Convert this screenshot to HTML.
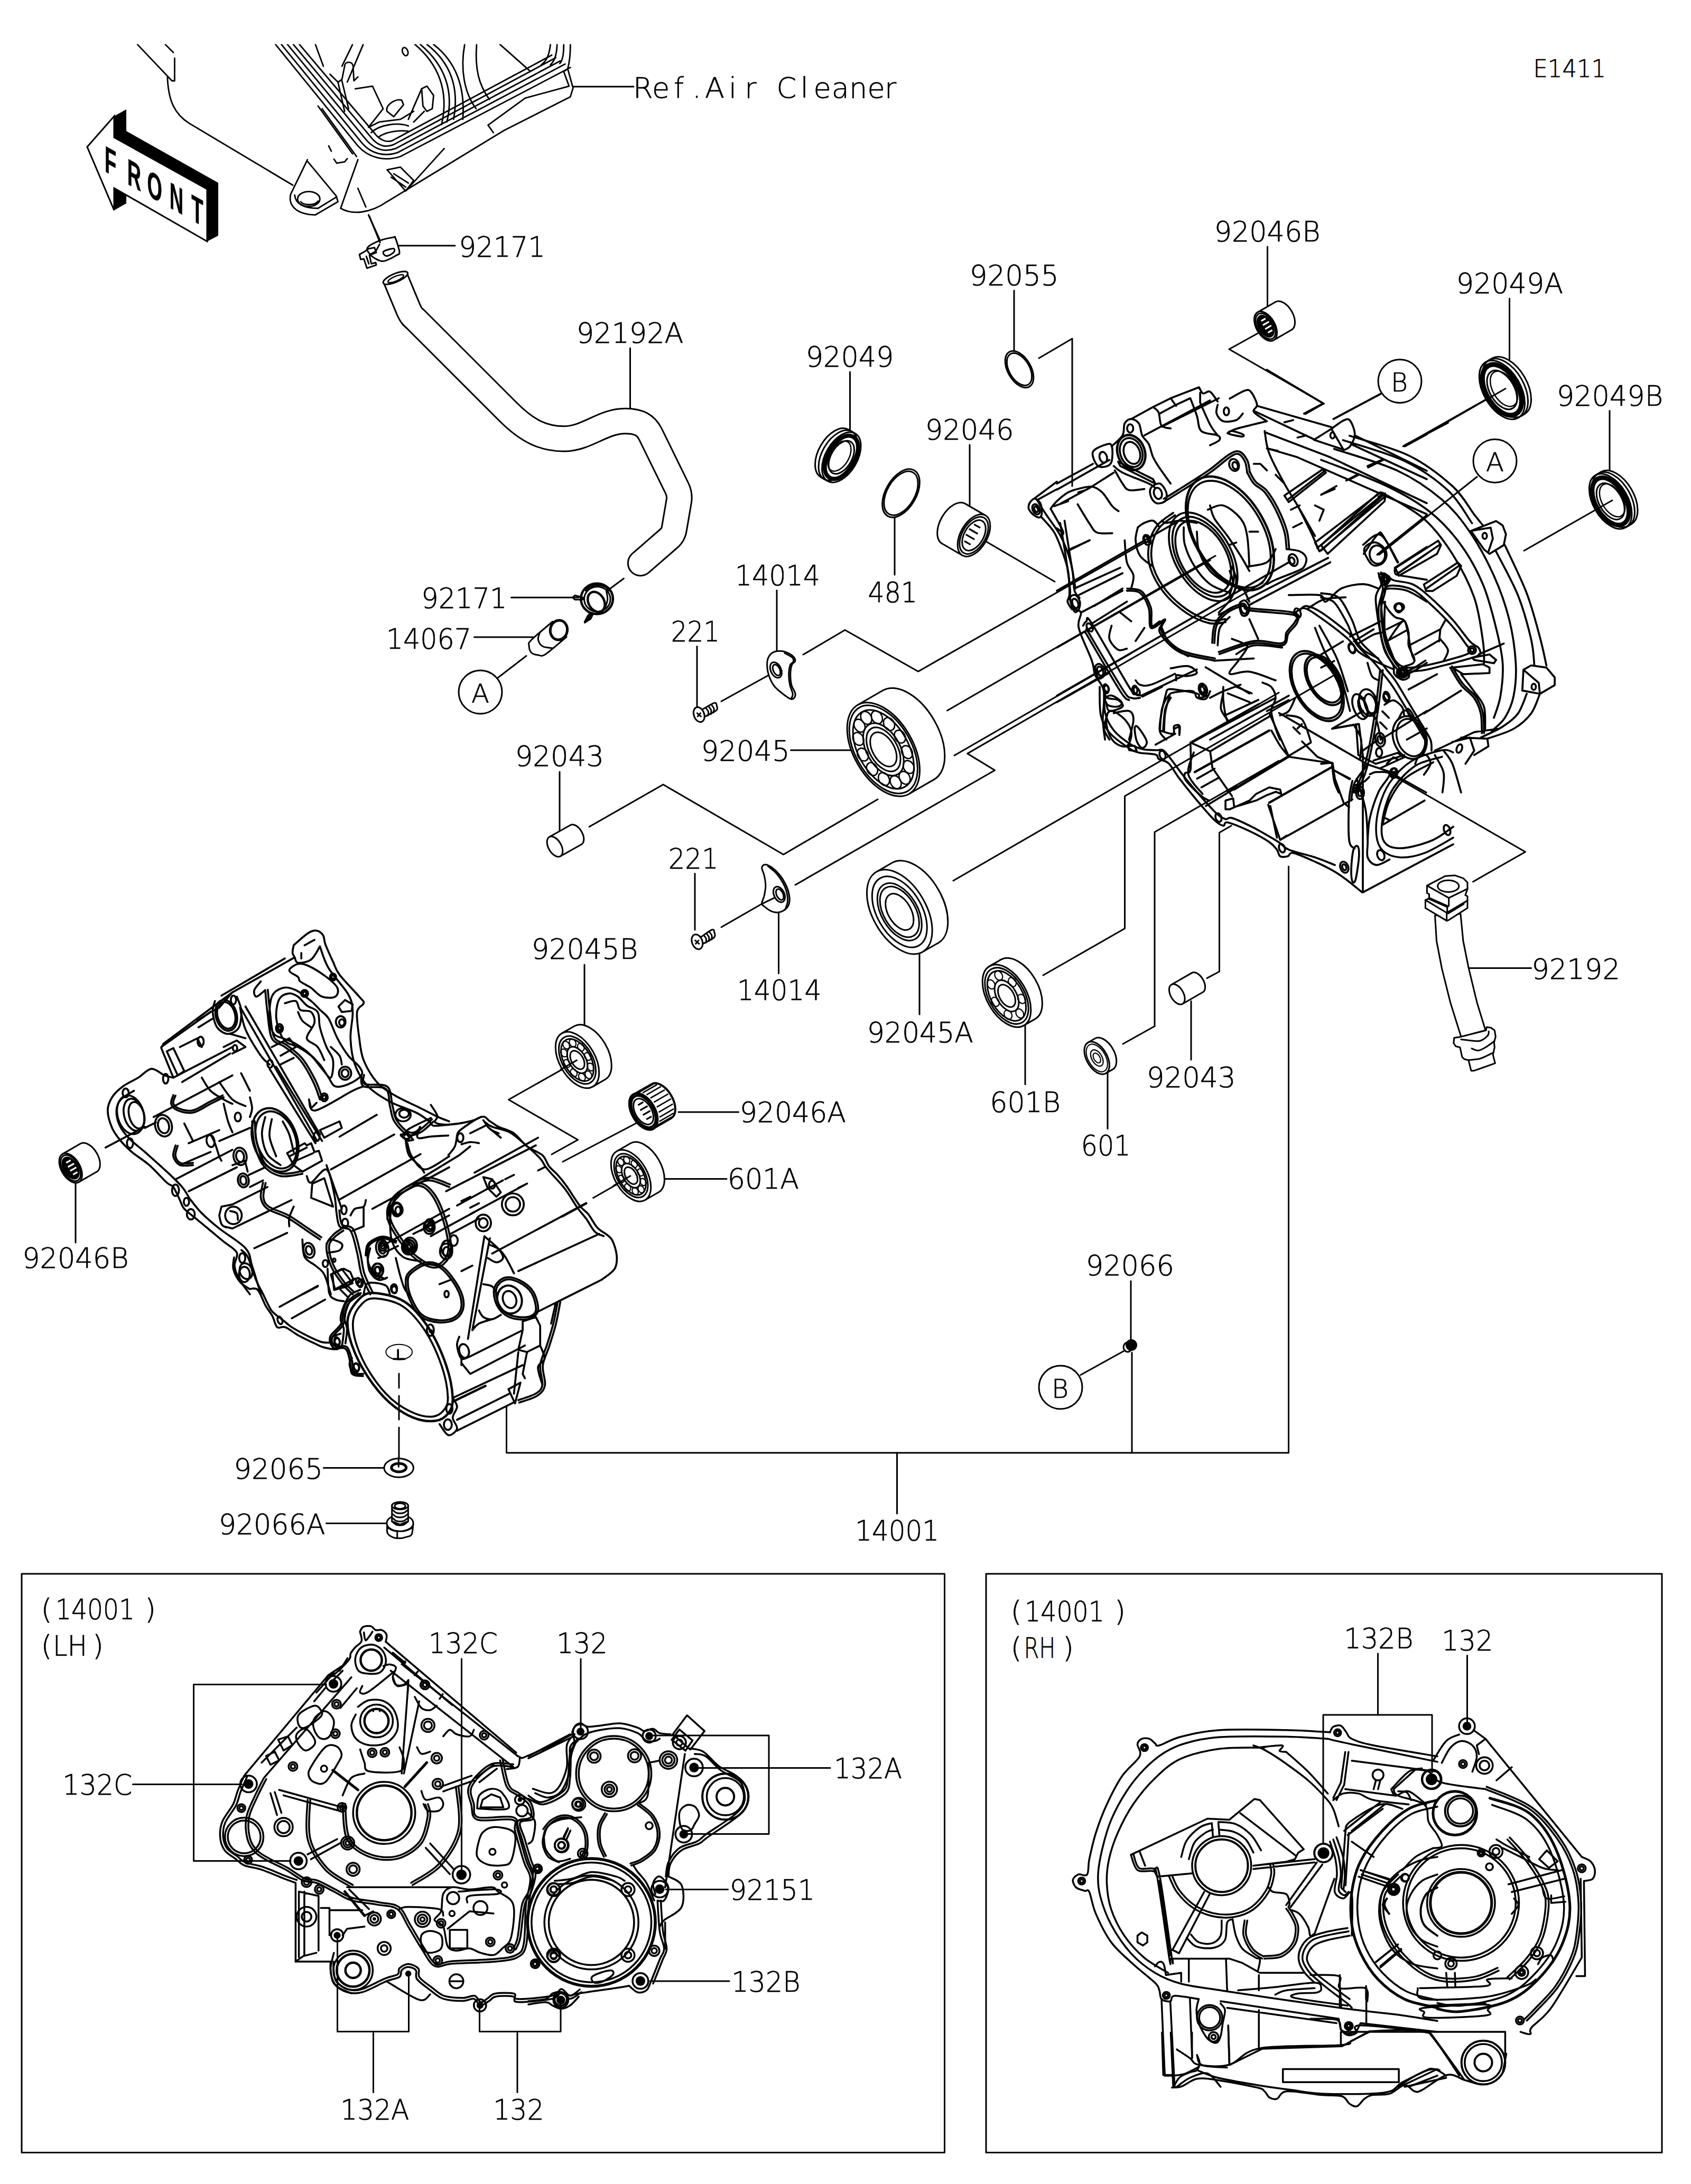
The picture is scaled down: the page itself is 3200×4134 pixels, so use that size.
<!DOCTYPE html>
<html lang="en"><head><meta charset="utf-8"><title>Crankcase E1411</title>
<style>
html,body{margin:0;padding:0;background:#fff}
body{width:3200px;height:4134px;overflow:hidden}
svg{display:block}
text{font-family:"DejaVu Sans","Liberation Sans",sans-serif;font-weight:200;font-size:54px;fill:#000;stroke:#000;stroke-width:0.7px}
.l{fill:none;stroke:#000;stroke-width:3;stroke-linecap:round;stroke-linejoin:round}
.t{fill:none;stroke:#000;stroke-width:6;stroke-linecap:round;stroke-linejoin:round}
.w{fill:#fff;stroke:#000;stroke-width:6;stroke-linecap:round;stroke-linejoin:round}
.k{fill:#000;stroke:none}
</style></head><body>
<svg width="3200" height="4134" viewBox="0 0 3200 4134">
<rect width="3200" height="4134" fill="#fff"/>
<!-- 10_leaders.svg -->
<g class="l" id="leaders">
<!-- boxes -->
<rect x="41" y="2979" width="1746.5" height="1095.5"/>
<rect x="1866" y="2979" width="1279" height="1095.5"/>
<!-- 14001 bracket -->
<path d="M958.5 2662V2750H2438.5V1640"/>
<path d="M1697.5 2750V2865"/>
<path d="M2140 2425V2537M2142 2560V2750"/>
<path d="M2045 2602.500L2129 2556"/>
<circle cx="2007" cy="2626" r="41"/>
<!-- top labels leaders -->
<path d="M755 465H861"/>
<path d="M1085 164H1199"/>
<path d="M1192.500 659V772"/>
<path d="M1608.500 704V815"/>
<path d="M1919 550V665"/>
<path d="M1966 678L2029 641V920"/>
<path d="M2398.500 467V582"/>
<path d="M2380 631L2326 661L2505 764L2470 784"/>
<path d="M2856.500 565V682"/>
<path d="M2812 756L2655 845"/>
<circle cx="2649" cy="721.500" r="41"/>
<path d="M2612 745.8L2523 793"/>
<path d="M3046 777.500V893"/>
<!-- mid -->
<path d="M967.500 1131H1095"/>
<path d="M897.500 1206H1010"/>
<path d="M996 1241.5L942 1283"/>
<circle cx="909" cy="1310" r="41"/>
<path d="M1180.4 1095L1140 1125"/>
<path d="M1470 1117.500V1232.500"/>
<path d="M1319 1223.500V1337.500"/>
<path d="M1365 1327.500L1460 1275"/>
<path d="M1520 1239L1599 1192.5L1737.6 1271L2166 1027"/>
<path d="M1792.5 1345L2300 1052"/>
<path d="M1496.500 1420H1610"/>
<path d="M1059 1461V1577.500"/>
<path d="M1115 1565L1255 1485L1482.5 1617.5L1661 1513M1806 1430L2140 1237"/>
<path d="M1315 1653.500V1760"/>
<path d="M1473.500 1727.500V1842.500"/>
<path d="M1365 1755L1445 1709"/>
<path d="M1505 1675L1882.6 1458L1830.7 1426.4L2390 1103"/>
<path d="M1804 1667L2420 1311"/>
<!-- lower-left labels -->
<path d="M1106 1826V1940"/>
<path d="M1089 2010L962.500 2081.500L1093.500 2157.500L1044 2185"/>
<path d="M1284 2105H1397.500"/>
<path d="M1206 2125L1065 2199"/>
<path d="M1259 2231.500H1375"/>
<path d="M1192.500 2227.500L1122.500 2267.500"/>
<path d="M1740 1805V1920"/>
<path d="M1974 1846L2128.5 1757.5V1507L2530 1275"/>
<path d="M2125 1976L2185 1942.5V1575L2420 1440"/>
<path d="M2284 1851.5L2307.5 1839V1576L2330 1563"/>
<path d="M2787.5 1669L2886.5 1612.5L2635 1467.5"/>
<path d="M1940 1935V2052.500"/>
<path d="M2096 2030V2136.500"/>
<path d="M2254 1895V2006"/>
<path d="M2780 1832.500H2897.500"/>
<path d="M143 2240V2352"/>
<path d="M612.500 2778.500H726.500"/>
<path d="M617.500 2883.500H732.500"/>
<path d="M755 2600V2627M755 2642V2687M755 2702V2765"/>
<!-- LH box leaders -->
<path d="M617.500 3188.500H366.500V3522.500H550"/>
<path d="M251.500 3377.500H457.500"/>
<path d="M873.500 3140V3549"/>
<path d="M1099 3140V3275"/>
<path d="M1320 3346.500H1571"/>
<path d="M1230 3285H1455V3471.500H1295"/>
<path d="M1260 3576.500H1377.500"/>
<path d="M1230 3750H1380"/>
<path d="M907.500 3799V3845.500H1061V3786"/>
<path d="M979 3845.500V3960.500"/>
<path d="M638.500 3664V3845.500H773.500V3736.500"/>
<path d="M706.500 3845.500V3960.500"/>
<!-- RH box leaders -->
<path d="M2607.500 3130V3246"/>
<path d="M2504 3490V3246H2710V3355"/>
<path d="M2776.500 3133.500V3267.500"/>
</g>
<g id="circletext">
<text x="2632" y="741" style="font-size:50px" textLength="32" lengthAdjust="spacingAndGlyphs">B</text>
<text x="1990" y="2646" style="font-size:50px" textLength="32" lengthAdjust="spacingAndGlyphs">B</text>
<text x="892" y="1330" style="font-size:50px" textLength="34" lengthAdjust="spacingAndGlyphs">A</text>
</g>

<!-- 20_misc.svg -->
<g id="misc-text">
<text y="185" text-anchor="middle" x="1216.7 1250.7 1284.6 1318.5 1352.5 1386.5 1420.4 1454.4 1488.3 1522.2 1556.2 1590.2 1624.1 1658.1 1685">Ref.Air Cleaner</text>
<text x="2901.5" y="146" style="font-size:46px" textLength="137.5" lengthAdjust="spacingAndGlyphs">E1411</text>
<text x="77.5" y="3065">(</text><text x="105" y="3065" textLength="150" lengthAdjust="spacingAndGlyphs">14001</text><text x="274" y="3065">)</text>
<text x="77.5" y="3133.5">(</text><text x="100" y="3133.5" textLength="65" lengthAdjust="spacingAndGlyphs">LH</text><text x="175" y="3133.5">)</text>
<text x="1912.5" y="3068.5">(</text><text x="1939" y="3068.5" textLength="151" lengthAdjust="spacingAndGlyphs">14001</text><text x="2109" y="3068.5">)</text>
<text x="1912.5" y="3137.5">(</text><text x="1937.5" y="3137.5" textLength="60" lengthAdjust="spacingAndGlyphs">RH</text><text x="2011" y="3137.5">)</text>
<text x="2812" y="892" style="font-size:50px" textLength="34" lengthAdjust="spacingAndGlyphs">A</text>
</g>
<g class="l">
<circle cx="2829" cy="872.5" r="41"/>
<path d="M2795 902.5L2610 1050"/>
</g>
<g id="front-arrow">
<polygon class="k" points="216,220 239,207 239,248 413,346 413,446 392,457 392,358 216,260"/>
<polygon class="k" points="216,356 239,370 239,385 216,398"/>
<polygon points="165,278 216,220 216,260 392,358 392,457 216,356 216,398" fill="#fff" stroke="#000" stroke-width="3" stroke-linejoin="miter"/>
<text transform="translate(198,324) skewY(29.3) scale(0.52,1)" style="font-family:'Liberation Sans',sans-serif;font-weight:700;font-size:70px" x="0 82 155 236 316" y="0">FRONT</text>
</g>

<!-- 30_aircleaner.svg -->
<g transform="translate(250,60) scale(0.50265)" fill="none" stroke="#000" stroke-width="5.6" stroke-linecap="round" stroke-linejoin="round">
<g>
<!-- left piece -->
<path d="M20 48L150 185H160V100M125 48L155 78"/>
<path d="M133 170C136 260 160 310 215 345L605 578"/>
<!-- lug -->
<path d="M660 482L597 612C588 650 612 688 690 690L775 640L768 618L662 490"/>
<path d="M612 615C615 645 640 665 700 665L770 622"/>
<ellipse cx="665" cy="630" rx="42" ry="28"/>
<path d="M635 640C645 655 690 655 700 638"/>
<!-- frame rails left arm + corner + right arm -->
<path d="M540 48L850 430C890 475 950 490 1010 470L1650 135"/>
<path d="M562 48L866 420C900 460 950 472 1000 455L1630 122"/>
<path d="M585 48L882 408C915 445 950 455 992 440L1612 110"/>
<path d="M607 48L898 396C925 430 955 438 985 425L1595 98"/>
<path d="M630 48L915 385C935 410 960 418 980 410L1580 88"/>
<!-- body lower -->
<path d="M850 482L785 665C830 692 900 682 960 640L1400 372L1650 245L1660 212L1640 140L1625 150L1645 205L1480 250L1340 352L1360 380"/>
<path d="M700 280L830 460M715 290L845 470"/>
<path d="M1030 600L1175 440M960 520L1030 600L1060 560L1010 510ZM985 535L1040 570M975 548L1030 585"/>
<path d="M850 590L880 660M890 690L935 790"/>
<path d="M740 430L750 450M760 480L770 495L800 490L810 478"/>
<!-- interior -->
<path d="M690 48L720 130M830 48L790 130M870 48L810 190"/>
<path d="M745 160L775 190L790 180L800 130C800 110 830 110 832 130L835 185L850 170"/>
<path d="M775 190L800 300M790 185L815 290"/>
<path d="M840 215L905 205L945 290L890 360L930 340L1010 330L1060 300"/>
<path d="M960 300C950 280 990 250 1015 258L1022 275L985 320Z"/>
<path d="M1090 215L1110 205L1135 240L1130 290L1110 300L1095 280Z"/>
<path d="M1040 330L1090 215M1060 340L1100 300"/>
<path d="M900 380C930 350 1000 340 1040 355M930 395C960 375 1010 370 1040 375"/>
<ellipse cx="1028" cy="75" rx="10" ry="16" transform="rotate(-20 1028 75)"/>
<!-- big arcs right -->
<path d="M1065 48C1150 120 1195 220 1165 350"/>
<path d="M1085 48C1170 120 1215 215 1185 340"/>
<path d="M1110 48C1190 110 1235 200 1210 330"/>
<path d="M1135 48C1215 110 1255 200 1245 330"/>
<path d="M1252 48C1235 140 1250 230 1295 290"/>
<path d="M1297 48C1290 140 1305 200 1345 255"/>
<path d="M1385 48L1500 150"/>
<path d="M1575 48C1570 90 1560 110 1540 125M1600 48C1598 90 1590 110 1575 125M1625 48C1625 90 1620 110 1610 120M1650 48C1650 80 1648 110 1640 140"/>
</g>
<!-- dash-dot line down to clip -->
<path d="M890 690L935 790"/>
</g>
<rect x="230" y="0" width="900" height="83.5" fill="#fff"/>

<!-- 40_small.svg -->
<g fill="none" stroke="#000" stroke-width="3" stroke-linecap="round">
<path d="M1693 980V1088M1835 842V958M1866 1025L1996 1101"/>
</g>
<ellipse cx="1579.3" cy="858.1" rx="52" ry="30" transform="rotate(-60 1579.3 858.1)" fill="#fff" stroke="#000" stroke-width="3"/>
<polygon points="1618.3,820.6 1605.3,813.1 1553.3,903.1 1566.3,910.6" fill="#fff" stroke="none"/>
<path d="M1618.3 820.6L1605.3 813.1M1566.3 910.6L1553.3 903.1" fill="none" stroke="#000" stroke-width="3"/>
<ellipse cx="1592.3" cy="865.6" rx="52" ry="30" transform="rotate(-60 1592.3 865.6)" fill="#fff" stroke="#000" stroke-width="3"/>
<ellipse cx="1585.8" cy="861.9" rx="52" ry="30" transform="rotate(-60 1585.8 861.9)" fill="none" stroke="#000" stroke-width="3"/>
<ellipse cx="1592.3" cy="865.6" rx="44.7" ry="25.8" transform="rotate(-60 1592.3 865.6)" fill="none" stroke="#000" stroke-width="7.8"/>
<ellipse cx="1592.3" cy="865.6" rx="34.3" ry="19.8" transform="rotate(-60 1592.3 865.6)" fill="none" stroke="#000" stroke-width="3"/>
<ellipse cx="1588.4" cy="863.4" rx="31.2" ry="18" transform="rotate(-60 1588.4 863.4)" fill="none" stroke="#000" stroke-width="2.5"/>
<ellipse cx="2854.4" cy="731" rx="61" ry="35.2" transform="rotate(60 2854.4 731)" fill="#fff" stroke="#000" stroke-width="3"/>
<polygon points="2872.9,790.8 2884.9,783.8 2823.9,678.2 2811.9,685.2" fill="#fff" stroke="none"/>
<path d="M2872.9 790.8L2884.9 783.8M2811.9 685.2L2823.9 678.2" fill="none" stroke="#000" stroke-width="3"/>
<ellipse cx="2842.4" cy="738" rx="61" ry="35.2" transform="rotate(60 2842.4 738)" fill="#fff" stroke="#000" stroke-width="3"/>
<ellipse cx="2848.4" cy="734.5" rx="61" ry="35.2" transform="rotate(60 2848.4 734.5)" fill="none" stroke="#000" stroke-width="3"/>
<ellipse cx="2842.4" cy="738" rx="52.5" ry="30.3" transform="rotate(60 2842.4 738)" fill="none" stroke="#000" stroke-width="9.15"/>
<ellipse cx="2842.4" cy="738" rx="40.3" ry="23.2" transform="rotate(60 2842.4 738)" fill="none" stroke="#000" stroke-width="3"/>
<ellipse cx="2846" cy="735.9" rx="36.6" ry="21.1" transform="rotate(60 2846 735.9)" fill="none" stroke="#000" stroke-width="2.5"/>
<ellipse cx="3058.7" cy="942.5" rx="57" ry="32.9" transform="rotate(60 3058.7 942.5)" fill="#fff" stroke="#000" stroke-width="3"/>
<polygon points="3076.2,998.4 3087.2,991.9 3030.2,893.1 3019.2,899.6" fill="#fff" stroke="none"/>
<path d="M3076.2 998.4L3087.2 991.9M3019.2 899.6L3030.2 893.1" fill="none" stroke="#000" stroke-width="3"/>
<ellipse cx="3047.7" cy="949" rx="57" ry="32.9" transform="rotate(60 3047.7 949)" fill="#fff" stroke="#000" stroke-width="3"/>
<ellipse cx="3053.2" cy="945.8" rx="57" ry="32.9" transform="rotate(60 3053.2 945.8)" fill="none" stroke="#000" stroke-width="3"/>
<ellipse cx="3047.7" cy="949" rx="49" ry="28.3" transform="rotate(60 3047.7 949)" fill="none" stroke="#000" stroke-width="8.549999999999999"/>
<ellipse cx="3047.7" cy="949" rx="37.6" ry="21.7" transform="rotate(60 3047.7 949)" fill="none" stroke="#000" stroke-width="3"/>
<ellipse cx="3051" cy="947" rx="34.2" ry="19.7" transform="rotate(60 3051 947)" fill="none" stroke="#000" stroke-width="2.5"/>
<path d="M2659 844.6L2850 735M2883 1043L3052 946.5" fill="none" stroke="#000" stroke-width="3"/>
<ellipse cx="1705" cy="933.6" rx="50" ry="28.8" transform="rotate(-60 1705 933.6)" fill="none" stroke="#000" stroke-width="3"/>
<ellipse cx="1705" cy="933.6" rx="45.5" ry="26.3" transform="rotate(-60 1705 933.6)" fill="none" stroke="#000" stroke-width="3"/>
<ellipse cx="1929" cy="699" rx="38" ry="21.9" transform="rotate(60 1929 699)" fill="none" stroke="#000" stroke-width="3"/>
<ellipse cx="1929" cy="699" rx="33.5" ry="19.3" transform="rotate(60 1929 699)" fill="none" stroke="#000" stroke-width="3"/>
<ellipse cx="1804.6" cy="991.2" rx="43.7" ry="25.2" transform="rotate(-60 1804.6 991.2)" fill="#fff" stroke="#000" stroke-width="3"/>
<polygon points="1864.8,975.6 1826.4,953.4 1782.8,1029 1821.2,1051.2" fill="#fff" stroke="none"/>
<path d="M1864.8 975.6L1826.4 953.4M1821.2 1051.2L1782.8 1029" fill="none" stroke="#000" stroke-width="3"/>
<ellipse cx="1843" cy="1013.4" rx="43.7" ry="25.2" transform="rotate(-60 1843 1013.4)" fill="#fff" stroke="#000" stroke-width="3"/>
<ellipse cx="1843" cy="1013.4" rx="38.5" ry="22.2" transform="rotate(-60 1843 1013.4)" fill="none" stroke="#000" stroke-width="3"/>
<ellipse cx="1843" cy="1013.4" rx="31.5" ry="18.2" transform="rotate(-60 1843 1013.4)" fill="none" stroke="#000" stroke-width="3"/>
<path d="M1836.6 1030.9l-11.8 -6.8" stroke="#000" stroke-width="3.2" fill="none"/>
<path d="M1844.1 1021.1l-16.5 -9.5" stroke="#000" stroke-width="3.2" fill="none"/>
<path d="M1850.3 1010.5l-16.5 -9.5" stroke="#000" stroke-width="3.2" fill="none"/>
<path d="M1855 999.1l-11.8 -6.8" stroke="#000" stroke-width="3.2" fill="none"/>
<ellipse cx="2429" cy="597.9" rx="30.5" ry="17.6" transform="rotate(60 2429 597.9)" fill="#fff" stroke="#000" stroke-width="3"/>
<polygon points="2410.2,643.9 2444.2,624.3 2413.8,571.5 2379.8,591.1" fill="#fff" stroke="none"/>
<path d="M2410.2 643.9L2444.2 624.3M2379.8 591.1L2413.8 571.5" fill="none" stroke="#000" stroke-width="3"/>
<ellipse cx="2395" cy="617.5" rx="30.5" ry="17.6" transform="rotate(60 2395 617.5)" fill="#fff" stroke="#000" stroke-width="3"/>
<ellipse cx="2395" cy="617.5" rx="26.8" ry="15.5" transform="rotate(60 2395 617.5)" fill="none" stroke="#000" stroke-width="3"/>
<ellipse cx="2395" cy="617.5" rx="22" ry="12.7" transform="rotate(60 2395 617.5)" fill="#000" stroke="#000" stroke-width="3"/>
<path d="M2386.7 607.5l8.2 -4.7" stroke="#fff" stroke-width="3.2" fill="none"/>
<path d="M2389.9 615.5l11.5 -6.7" stroke="#fff" stroke-width="3.2" fill="none"/>
<path d="M2394.2 622.9l11.5 -6.7" stroke="#fff" stroke-width="3.2" fill="none"/>
<path d="M2399.5 629.7l8.2 -4.7" stroke="#fff" stroke-width="3.2" fill="none"/>
<ellipse cx="167.7" cy="2191.4" rx="30.7" ry="17.7" transform="rotate(60 167.7 2191.4)" fill="#fff" stroke="#000" stroke-width="3"/>
<polygon points="149,2237.6 183,2218 152.3,2164.8 118.3,2184.4" fill="#fff" stroke="none"/>
<path d="M149 2237.6L183 2218M118.3 2184.4L152.3 2164.8" fill="none" stroke="#000" stroke-width="3"/>
<ellipse cx="133.7" cy="2211" rx="30.7" ry="17.7" transform="rotate(60 133.7 2211)" fill="#fff" stroke="#000" stroke-width="3"/>
<ellipse cx="133.7" cy="2211" rx="27" ry="15.6" transform="rotate(60 133.7 2211)" fill="none" stroke="#000" stroke-width="3"/>
<ellipse cx="133.7" cy="2211" rx="22.1" ry="12.8" transform="rotate(60 133.7 2211)" fill="#000" stroke="#000" stroke-width="3"/>
<path d="M125.3 2201l8.3 -4.8" stroke="#fff" stroke-width="3.2" fill="none"/>
<path d="M128.6 2209l11.6 -6.7" stroke="#fff" stroke-width="3.2" fill="none"/>
<path d="M132.9 2216.4l11.6 -6.7" stroke="#fff" stroke-width="3.2" fill="none"/>
<path d="M138.2 2223.3l8.3 -4.8" stroke="#fff" stroke-width="3.2" fill="none"/>
<ellipse cx="1251.6" cy="2084.4" rx="37.2" ry="21.5" transform="rotate(60 1251.6 2084.4)" fill="#fff" stroke="#000" stroke-width="4"/>
<polygon points="1236.2,2136.2 1270.2,2116.6 1233,2052.2 1199,2071.8" fill="#fff" stroke="none"/>
<path d="M1236.2 2136.2L1270.2 2116.6M1199 2071.8L1233 2052.2" fill="none" stroke="#000" stroke-width="4"/>
<ellipse cx="1217.6" cy="2104" rx="37.2" ry="21.5" transform="rotate(60 1217.6 2104)" fill="#fff" stroke="#000" stroke-width="4"/>
<path d="M1244.8 2129.5l27.2 -15.7" stroke="#000" stroke-width="2.6" fill="none"/>
<path d="M1247.4 2122.9l27.2 -15.7" stroke="#000" stroke-width="2.6" fill="none"/>
<path d="M1247.9 2114.6l27.2 -15.7" stroke="#000" stroke-width="2.6" fill="none"/>
<path d="M1246.3 2105.3l27.2 -15.7" stroke="#000" stroke-width="2.6" fill="none"/>
<path d="M1242.7 2095.6l27.2 -15.7" stroke="#000" stroke-width="2.6" fill="none"/>
<path d="M1237.4 2086.4l27.2 -15.7" stroke="#000" stroke-width="2.6" fill="none"/>
<path d="M1230.9 2078.5l27.2 -15.7" stroke="#000" stroke-width="2.6" fill="none"/>
<path d="M1223.5 2072.4l27.2 -15.7" stroke="#000" stroke-width="2.6" fill="none"/>
<path d="M1216.1 2068.7l27.2 -15.7" stroke="#000" stroke-width="2.6" fill="none"/>
<path d="M1209.1 2067.7l27.2 -15.7" stroke="#000" stroke-width="2.6" fill="none"/>
<ellipse cx="1217.6" cy="2104" rx="37.2" ry="21.5" transform="rotate(60 1217.6 2104)" fill="#fff" stroke="#000" stroke-width="5"/>
<ellipse cx="1217.6" cy="2104" rx="32.7" ry="18.9" transform="rotate(60 1217.6 2104)" fill="none" stroke="#000" stroke-width="4"/>
<ellipse cx="1217.6" cy="2104" rx="26.8" ry="15.5" transform="rotate(60 1217.6 2104)" fill="none" stroke="#000" stroke-width="3"/>
<path d="M1207.4 2091.8l10 -5.8" stroke="#000" stroke-width="3.2" fill="none"/>
<path d="M1211.4 2101.6l14.1 -8.1" stroke="#000" stroke-width="3.2" fill="none"/>
<path d="M1216.6 2110.6l14.1 -8.1" stroke="#000" stroke-width="3.2" fill="none"/>
<path d="M1223.1 2118.9l10 -5.8" stroke="#000" stroke-width="3.2" fill="none"/>
<ellipse cx="1719.1" cy="1391.2" rx="97.2" ry="56.1" transform="rotate(60 1719.1 1391.2)" fill="#fff" stroke="#000" stroke-width="3"/>
<polygon points="1720.4,1502.7 1767.7,1475.4 1670.5,1307 1623.2,1334.3" fill="#fff" stroke="none"/>
<path d="M1720.4 1502.7L1767.7 1475.4M1623.2 1334.3L1670.5 1307" fill="none" stroke="#000" stroke-width="3"/>
<ellipse cx="1671.8" cy="1418.5" rx="97.2" ry="56.1" transform="rotate(60 1671.8 1418.5)" fill="#fff" stroke="#000" stroke-width="3"/>
<ellipse cx="1671.8" cy="1418.5" rx="91.4" ry="52.7" transform="rotate(60 1671.8 1418.5)" fill="none" stroke="#000" stroke-width="3"/>
<ellipse cx="1671.8" cy="1418.5" rx="81.6" ry="47.1" transform="rotate(60 1671.8 1418.5)" fill="none" stroke="#000" stroke-width="3"/>
<ellipse cx="1671.8" cy="1418.5" rx="54.4" ry="31.4" transform="rotate(60 1671.8 1418.5)" fill="none" stroke="#000" stroke-width="3"/>
<ellipse cx="1671.8" cy="1418.5" rx="45.7" ry="26.4" transform="rotate(60 1671.8 1418.5)" fill="none" stroke="#000" stroke-width="3"/>
<ellipse cx="1671.8" cy="1418.5" rx="35.5" ry="20.5" transform="rotate(60 1671.8 1418.5)" fill="none" stroke="#000" stroke-width="3"/>
<ellipse cx="1711.9" cy="1472.3" rx="12.9" ry="9.7" transform="rotate(60 1711.9 1472.3)" fill="none" stroke="#000" stroke-width="2.6"/>
<ellipse cx="1719.6" cy="1451.8" rx="12.9" ry="9.7" transform="rotate(60 1719.6 1451.8)" fill="none" stroke="#000" stroke-width="2.6"/>
<ellipse cx="1716.4" cy="1423.6" rx="12.9" ry="9.7" transform="rotate(60 1716.4 1423.6)" fill="none" stroke="#000" stroke-width="2.6"/>
<ellipse cx="1703" cy="1394.3" rx="12.9" ry="9.7" transform="rotate(60 1703 1394.3)" fill="none" stroke="#000" stroke-width="2.6"/>
<ellipse cx="1682.4" cy="1370.5" rx="12.9" ry="9.7" transform="rotate(60 1682.4 1370.5)" fill="none" stroke="#000" stroke-width="2.6"/>
<ellipse cx="1659.4" cy="1357.7" rx="12.9" ry="9.7" transform="rotate(60 1659.4 1357.7)" fill="none" stroke="#000" stroke-width="2.6"/>
<ellipse cx="1639.2" cy="1358.8" rx="12.9" ry="9.7" transform="rotate(60 1639.2 1358.8)" fill="none" stroke="#000" stroke-width="2.6"/>
<ellipse cx="1626.5" cy="1373.6" rx="12.9" ry="9.7" transform="rotate(60 1626.5 1373.6)" fill="none" stroke="#000" stroke-width="2.6"/>
<ellipse cx="1624.2" cy="1398.7" rx="12.9" ry="9.7" transform="rotate(60 1624.2 1398.7)" fill="none" stroke="#000" stroke-width="2.6"/>
<ellipse cx="1632.7" cy="1428.3" rx="12.9" ry="9.7" transform="rotate(60 1632.7 1428.3)" fill="none" stroke="#000" stroke-width="2.6"/>
<ellipse cx="1650.3" cy="1455.7" rx="12.9" ry="9.7" transform="rotate(60 1650.3 1455.7)" fill="none" stroke="#000" stroke-width="2.6"/>
<ellipse cx="1672.7" cy="1474.6" rx="12.9" ry="9.7" transform="rotate(60 1672.7 1474.6)" fill="none" stroke="#000" stroke-width="2.6"/>
<ellipse cx="1695" cy="1480.6" rx="12.9" ry="9.7" transform="rotate(60 1695 1480.6)" fill="none" stroke="#000" stroke-width="2.6"/>
<ellipse cx="1731.9" cy="1709" rx="87.5" ry="50.5" transform="rotate(60 1731.9 1709)" fill="#fff" stroke="#000" stroke-width="3"/>
<polygon points="1746,1801.8 1775.6,1784.8 1688.1,1633.2 1658.5,1650.2" fill="#fff" stroke="none"/>
<path d="M1746 1801.8L1775.6 1784.8M1658.5 1650.2L1688.1 1633.2" fill="none" stroke="#000" stroke-width="3"/>
<ellipse cx="1702.3" cy="1726" rx="87.5" ry="50.5" transform="rotate(60 1702.3 1726)" fill="#fff" stroke="#000" stroke-width="3"/>
<ellipse cx="1702.3" cy="1726" rx="73.5" ry="42.4" transform="rotate(60 1702.3 1726)" fill="none" stroke="#000" stroke-width="3"/>
<ellipse cx="1702.3" cy="1726" rx="59.5" ry="34.3" transform="rotate(60 1702.3 1726)" fill="none" stroke="#000" stroke-width="3"/>
<ellipse cx="1702.3" cy="1726" rx="52.5" ry="30.3" transform="rotate(60 1702.3 1726)" fill="none" stroke="#000" stroke-width="3"/>
<ellipse cx="1702.3" cy="1726" rx="37.6" ry="21.7" transform="rotate(60 1702.3 1726)" fill="none" stroke="#000" stroke-width="3"/>
<ellipse cx="1116.1" cy="1992.8" rx="58.3" ry="33.6" transform="rotate(60 1116.1 1992.8)" fill="#fff" stroke="#000" stroke-width="3"/>
<polygon points="1121.7,2056.9 1145.2,2043.3 1086.9,1942.3 1063.3,1955.9" fill="#fff" stroke="none"/>
<path d="M1121.7 2056.9L1145.2 2043.3M1063.3 1955.9L1086.9 1942.3" fill="none" stroke="#000" stroke-width="3"/>
<ellipse cx="1092.5" cy="2006.4" rx="58.3" ry="33.6" transform="rotate(60 1092.5 2006.4)" fill="#fff" stroke="#000" stroke-width="3"/>
<ellipse cx="1092.5" cy="2006.4" rx="49.6" ry="28.6" transform="rotate(60 1092.5 2006.4)" fill="none" stroke="#000" stroke-width="3"/>
<ellipse cx="1092.5" cy="2006.4" rx="43.7" ry="25.2" transform="rotate(60 1092.5 2006.4)" fill="none" stroke="#000" stroke-width="3"/>
<ellipse cx="1092.5" cy="2006.4" rx="27.4" ry="15.8" transform="rotate(60 1092.5 2006.4)" fill="none" stroke="#000" stroke-width="3"/>
<ellipse cx="1092.5" cy="2006.4" rx="19.2" ry="11.1" transform="rotate(60 1092.5 2006.4)" fill="none" stroke="#000" stroke-width="3"/>
<ellipse cx="1113.5" cy="2034.5" rx="7.8" ry="5.8" transform="rotate(60 1113.5 2034.5)" fill="none" stroke="#000" stroke-width="2.2"/>
<ellipse cx="1117.6" cy="2019.7" rx="7.8" ry="5.8" transform="rotate(60 1117.6 2019.7)" fill="none" stroke="#000" stroke-width="2.2"/>
<ellipse cx="1112.2" cy="1999.7" rx="7.8" ry="5.8" transform="rotate(60 1112.2 1999.7)" fill="none" stroke="#000" stroke-width="2.2"/>
<ellipse cx="1099.2" cy="1982.3" rx="7.8" ry="5.8" transform="rotate(60 1099.2 1982.3)" fill="none" stroke="#000" stroke-width="2.2"/>
<ellipse cx="1083.7" cy="1974.1" rx="7.8" ry="5.8" transform="rotate(60 1083.7 1974.1)" fill="none" stroke="#000" stroke-width="2.2"/>
<ellipse cx="1071.5" cy="1978.3" rx="7.8" ry="5.8" transform="rotate(60 1071.5 1978.3)" fill="none" stroke="#000" stroke-width="2.2"/>
<ellipse cx="1067.4" cy="1993.1" rx="7.8" ry="5.8" transform="rotate(60 1067.4 1993.1)" fill="none" stroke="#000" stroke-width="2.2"/>
<ellipse cx="1072.8" cy="2013.1" rx="7.8" ry="5.8" transform="rotate(60 1072.8 2013.1)" fill="none" stroke="#000" stroke-width="2.2"/>
<ellipse cx="1085.8" cy="2030.5" rx="7.8" ry="5.8" transform="rotate(60 1085.8 2030.5)" fill="none" stroke="#000" stroke-width="2.2"/>
<ellipse cx="1101.3" cy="2038.7" rx="7.8" ry="5.8" transform="rotate(60 1101.3 2038.7)" fill="none" stroke="#000" stroke-width="2.2"/>
<ellipse cx="1219.7" cy="2210.5" rx="53.4" ry="30.8" transform="rotate(60 1219.7 2210.5)" fill="#fff" stroke="#000" stroke-width="3"/>
<polygon points="1220.7,2271.5 1246.4,2256.7 1193,2164.3 1167.3,2179.1" fill="#fff" stroke="none"/>
<path d="M1220.7 2271.5L1246.4 2256.7M1167.3 2179.1L1193 2164.3" fill="none" stroke="#000" stroke-width="3"/>
<ellipse cx="1194" cy="2225.3" rx="53.4" ry="30.8" transform="rotate(60 1194 2225.3)" fill="#fff" stroke="#000" stroke-width="3"/>
<ellipse cx="1194" cy="2225.3" rx="45.4" ry="26.2" transform="rotate(60 1194 2225.3)" fill="none" stroke="#000" stroke-width="3"/>
<ellipse cx="1194" cy="2225.3" rx="40" ry="23.1" transform="rotate(60 1194 2225.3)" fill="none" stroke="#000" stroke-width="3"/>
<ellipse cx="1194" cy="2225.3" rx="25.1" ry="14.5" transform="rotate(60 1194 2225.3)" fill="none" stroke="#000" stroke-width="3"/>
<ellipse cx="1194" cy="2225.3" rx="17.6" ry="10.2" transform="rotate(60 1194 2225.3)" fill="none" stroke="#000" stroke-width="3"/>
<ellipse cx="1213.2" cy="2251.1" rx="7.1" ry="5.3" transform="rotate(60 1213.2 2251.1)" fill="none" stroke="#000" stroke-width="2.2"/>
<ellipse cx="1217" cy="2237.4" rx="7.1" ry="5.3" transform="rotate(60 1217 2237.4)" fill="none" stroke="#000" stroke-width="2.2"/>
<ellipse cx="1212" cy="2219.2" rx="7.1" ry="5.3" transform="rotate(60 1212 2219.2)" fill="none" stroke="#000" stroke-width="2.2"/>
<ellipse cx="1200.2" cy="2203.2" rx="7.1" ry="5.3" transform="rotate(60 1200.2 2203.2)" fill="none" stroke="#000" stroke-width="2.2"/>
<ellipse cx="1185.9" cy="2195.7" rx="7.1" ry="5.3" transform="rotate(60 1185.9 2195.7)" fill="none" stroke="#000" stroke-width="2.2"/>
<ellipse cx="1174.8" cy="2199.5" rx="7.1" ry="5.3" transform="rotate(60 1174.8 2199.5)" fill="none" stroke="#000" stroke-width="2.2"/>
<ellipse cx="1171" cy="2213.2" rx="7.1" ry="5.3" transform="rotate(60 1171 2213.2)" fill="none" stroke="#000" stroke-width="2.2"/>
<ellipse cx="1176" cy="2231.4" rx="7.1" ry="5.3" transform="rotate(60 1176 2231.4)" fill="none" stroke="#000" stroke-width="2.2"/>
<ellipse cx="1187.8" cy="2247.4" rx="7.1" ry="5.3" transform="rotate(60 1187.8 2247.4)" fill="none" stroke="#000" stroke-width="2.2"/>
<ellipse cx="1202.1" cy="2254.9" rx="7.1" ry="5.3" transform="rotate(60 1202.1 2254.9)" fill="none" stroke="#000" stroke-width="2.2"/>
<ellipse cx="1926.6" cy="1872.5" rx="64.8" ry="37.4" transform="rotate(60 1926.6 1872.5)" fill="#fff" stroke="#000" stroke-width="3"/>
<polygon points="1937.4,1941.1 1959,1928.6 1894.2,1816.4 1872.6,1828.9" fill="#fff" stroke="none"/>
<path d="M1937.4 1941.1L1959 1928.6M1872.6 1828.9L1894.2 1816.4" fill="none" stroke="#000" stroke-width="3"/>
<ellipse cx="1905" cy="1885" rx="64.8" ry="37.4" transform="rotate(60 1905 1885)" fill="#fff" stroke="#000" stroke-width="3"/>
<ellipse cx="1905" cy="1885" rx="58.3" ry="33.7" transform="rotate(60 1905 1885)" fill="none" stroke="#000" stroke-width="3"/>
<ellipse cx="1905" cy="1885" rx="51.8" ry="29.9" transform="rotate(60 1905 1885)" fill="none" stroke="#000" stroke-width="3"/>
<ellipse cx="1905" cy="1885" rx="32.4" ry="18.7" transform="rotate(60 1905 1885)" fill="none" stroke="#000" stroke-width="3"/>
<ellipse cx="1905" cy="1885" rx="23.3" ry="13.5" transform="rotate(60 1905 1885)" fill="none" stroke="#000" stroke-width="3"/>
<ellipse cx="1929.8" cy="1918.3" rx="9.2" ry="6.9" transform="rotate(60 1929.8 1918.3)" fill="none" stroke="#000" stroke-width="2.2"/>
<ellipse cx="1933.3" cy="1890.8" rx="9.2" ry="6.9" transform="rotate(60 1933.3 1890.8)" fill="none" stroke="#000" stroke-width="2.2"/>
<ellipse cx="1915.5" cy="1858.9" rx="9.2" ry="6.9" transform="rotate(60 1915.5 1858.9)" fill="none" stroke="#000" stroke-width="2.2"/>
<ellipse cx="1889.8" cy="1846.7" rx="9.2" ry="6.9" transform="rotate(60 1889.8 1846.7)" fill="none" stroke="#000" stroke-width="2.2"/>
<ellipse cx="1875.5" cy="1863.3" rx="9.2" ry="6.9" transform="rotate(60 1875.5 1863.3)" fill="none" stroke="#000" stroke-width="2.2"/>
<ellipse cx="1883.4" cy="1896.3" rx="9.2" ry="6.9" transform="rotate(60 1883.4 1896.3)" fill="none" stroke="#000" stroke-width="2.2"/>
<ellipse cx="1907.6" cy="1920.8" rx="9.2" ry="6.9" transform="rotate(60 1907.6 1920.8)" fill="none" stroke="#000" stroke-width="2.2"/>
<ellipse cx="2089" cy="1994.9" rx="33.7" ry="19.4" transform="rotate(60 2089 1994.9)" fill="#fff" stroke="#000" stroke-width="3"/>
<polygon points="2092.5,2031.8 2105.8,2024.1 2072.2,1965.7 2058.8,1973.4" fill="#fff" stroke="none"/>
<path d="M2092.5 2031.8L2105.8 2024.1M2058.8 1973.4L2072.2 1965.7" fill="none" stroke="#000" stroke-width="3"/>
<ellipse cx="2075.7" cy="2002.6" rx="33.7" ry="19.4" transform="rotate(60 2075.7 2002.6)" fill="#fff" stroke="#000" stroke-width="3"/>
<ellipse cx="2075.7" cy="2002.6" rx="28.6" ry="16.5" transform="rotate(60 2075.7 2002.6)" fill="none" stroke="#000" stroke-width="2.2"/>
<ellipse cx="2075.7" cy="2002.6" rx="16.9" ry="9.7" transform="rotate(60 2075.7 2002.6)" fill="none" stroke="#000" stroke-width="2.2"/>
<ellipse cx="2075.7" cy="2002.6" rx="10.1" ry="5.8" transform="rotate(60 2075.7 2002.6)" fill="none" stroke="#000" stroke-width="2.2"/>
<path d="M1092.5 2006.4L1060 2025M1194 2225.3L1160 2245" fill="none" stroke="#000" stroke-width="3"/>
<path d="M2237.8 1900.2L2276.3 1878A21 12.1 60 0 0 2255.3 1841.6L2216.8 1863.8" fill="#fff" stroke="#000" stroke-width="3"/>
<ellipse cx="2227.3" cy="1882" rx="21" ry="12.1" transform="rotate(60 2227.3 1882)" fill="#fff" stroke="#000" stroke-width="3"/>
<path d="M1060.5 1620.7L1100.5 1598.2A21 12.1 60 0 0 1079.5 1561.8L1039.5 1584.3" fill="#fff" stroke="#000" stroke-width="3"/>
<ellipse cx="1050" cy="1602.5" rx="21" ry="12.1" transform="rotate(60 1050 1602.5)" fill="#fff" stroke="#000" stroke-width="3"/>

<!-- 42_hose.svg -->
<g fill="none" stroke-linejoin="round">
<path id="hosec" d="M748 526L773 586C778 597 781 600 786 604L962 780C1000 818 1030 830 1066 830.6C1110 831 1140 797 1183 797C1210 797 1222 805 1230.5 821L1281 924C1285 932 1286 940 1285 947.5L1276 1000C1275 1008 1272 1014 1266 1019L1212 1066" stroke="#000" stroke-width="50.5" stroke-linecap="butt"/>
<circle cx="1212" cy="1066" r="25.2" fill="#000"/>
<path d="M748 526L773 586C778 597 781 600 786 604L962 780C1000 818 1030 830 1066 830.6C1110 831 1140 797 1183 797C1210 797 1222 805 1230.5 821L1281 924C1285 932 1286 940 1285 947.5L1276 1000C1275 1008 1272 1014 1266 1019L1212 1066" stroke="#fff" stroke-width="44.5" stroke-linecap="butt"/>
<circle cx="1212" cy="1066" r="22.2" fill="#fff"/>
<ellipse cx="748.3" cy="526" rx="25" ry="8" transform="rotate(-23 748.3 526)" fill="#fff" stroke="#000" stroke-width="3"/>
<ellipse cx="749" cy="527.5" rx="16" ry="4.5" transform="rotate(-23 749 527.5)" fill="#fff" stroke="#000" stroke-width="2.5"/>

</g>

<!-- 45_smallmisc.svg -->
<path d="M1469.2 1232.8C1473.6 1232.1 1479.8 1232.1 1485.1 1233.7C1490.5 1235.3 1497.9 1239.6 1501.1 1242.6C1504.4 1245.5 1505.1 1248.8 1504.7 1251.4C1504.2 1254.1 1499.9 1254.7 1498.5 1258.5C1497 1262.4 1495.9 1268.3 1495.8 1274.5C1495.6 1280.7 1496.1 1289.6 1497.6 1295.8C1499 1302 1503.6 1307.8 1504.7 1311.8C1505.7 1315.8 1505.1 1317.8 1503.8 1319.8C1502.4 1321.7 1500.4 1324.3 1496.7 1323.3C1493 1322.3 1486.8 1317.5 1481.6 1313.5C1476.4 1309.5 1469.8 1304.4 1465.6 1299.3C1461.5 1294.3 1459 1288.7 1456.8 1283.4C1454.5 1278.1 1453.1 1273 1452.3 1267.4C1451.6 1261.8 1451.3 1254.6 1452.3 1249.7C1453.4 1244.8 1455.7 1241 1458.5 1238.1C1461.3 1235.3 1464.7 1233.6 1469.2 1232.8Z" fill="#fff" stroke="#000" stroke-width="3" stroke-linecap="round" stroke-linejoin="round"/>
<path d="M1485.1 1236.4C1487.5 1237.8 1496.6 1242 1499.3 1244.7C1502.1 1247.4 1502.1 1250 1501.5 1252.3C1500.8 1254.6 1496.9 1254.8 1495.4 1258.5C1494 1262.2 1492.9 1268.3 1492.8 1274.5C1492.6 1280.7 1493.3 1289.3 1494.6 1295.8C1495.8 1302.3 1499.8 1309.1 1500.2 1313.5C1500.7 1318 1497.7 1320.9 1497.2 1322.4" fill="none" stroke="#000" stroke-width="3" stroke-linecap="round" stroke-linejoin="round"/>
<ellipse cx="1468.3" cy="1268.3" rx="9.8" ry="15.6" transform="rotate(-25 1468.3 1268.3)" fill="none" stroke="#000" stroke-width="3"/>
<ellipse cx="1469.5" cy="1268.3" rx="6.2" ry="11" transform="rotate(-25 1469.5 1268.3)" fill="none" stroke="#000" stroke-width="3"/>
<path d="M1330.8 1341.9C1334.4 1340 1347.8 1331.3 1352.1 1330.4C1356.4 1329.5 1355.9 1334.2 1356.5 1336.6C1357.1 1339 1359.3 1341.3 1355.6 1344.6C1351.9 1347.8 1337.9 1354.2 1334.4 1356.1" fill="#fff" stroke="#000" stroke-width="3" stroke-linecap="round" stroke-linejoin="round"/>
<ellipse cx="1322.8" cy="1352.6" rx="9.8" ry="14.5" transform="rotate(-20 1322.8 1352.6)" fill="#fff" stroke="#000" stroke-width="3"/>
<path d="M1336.5 1341C1337.2 1342.1 1340 1345 1340.6 1347.2C1341.1 1349.5 1339.8 1353.5 1339.7 1354.7M1341.8 1338.4C1342.5 1339.4 1345.4 1342.3 1345.9 1344.6C1346.4 1346.9 1345.1 1350.8 1345 1352M1347.1 1335.2C1347.8 1336.2 1350.7 1339.3 1351.2 1341.6C1351.7 1343.9 1350.2 1347.8 1350 1349M1319.3 1349.9L1326.4 1356.1M1320.2 1356.1L1325.5 1349.9" fill="none" stroke="#000" stroke-width="3" stroke-linecap="round" stroke-linejoin="round"/>
<path d="M1447.9 1636.4C1451 1636.2 1455.9 1638.6 1460.3 1641.7C1464.7 1644.8 1470.4 1650.1 1474.5 1655C1478.6 1659.9 1482.2 1665.3 1485.1 1671C1488.1 1676.6 1490.8 1682.8 1492.2 1688.7C1493.7 1694.6 1494.6 1701.4 1494 1706.4C1493.4 1711.5 1492 1715.5 1488.7 1718.9C1485.4 1722.3 1479.2 1725.8 1474.5 1726.8C1469.8 1727.9 1464.7 1726.7 1460.3 1725.1C1455.9 1723.4 1451 1719.6 1447.9 1717.1C1444.8 1714.6 1442 1713.5 1441.7 1710C1441.4 1706.4 1444.9 1701.4 1446.1 1695.8C1447.3 1690.2 1448.8 1682.8 1448.8 1676.3C1448.8 1669.8 1447.3 1662.4 1446.1 1656.8C1444.9 1651.2 1441.4 1646 1441.7 1642.6C1442 1639.2 1444.8 1636.5 1447.9 1636.4Z" fill="#fff" stroke="#000" stroke-width="3" stroke-linecap="round" stroke-linejoin="round"/>
<path d="M1453.2 1639.4C1455.9 1641.7 1464.5 1648 1469.2 1653.2C1473.9 1658.5 1478.3 1665 1481.6 1671C1484.9 1676.9 1487.2 1682.8 1488.7 1688.7C1490.2 1694.6 1490.9 1701.1 1490.5 1706.4C1490 1711.8 1486.8 1718.6 1486 1721" fill="none" stroke="#000" stroke-width="3" stroke-linecap="round" stroke-linejoin="round"/>
<ellipse cx="1474.5" cy="1693.1" rx="9.8" ry="15.6" transform="rotate(-25 1474.5 1693.1)" fill="none" stroke="#000" stroke-width="3"/>
<ellipse cx="1475.7" cy="1693.1" rx="6.2" ry="11" transform="rotate(-25 1475.7 1693.1)" fill="none" stroke="#000" stroke-width="3"/>
<path d="M1441.7 1710.9L1465.6 1699.3" fill="none" stroke="#000" stroke-width="3" stroke-linecap="round" stroke-linejoin="round"/>
<path d="M1327.3 1773C1330.7 1770.8 1343.5 1760.9 1347.7 1759.7C1351.8 1758.5 1351.5 1763.4 1352.1 1765.9C1352.7 1768.4 1354.8 1771.3 1351.2 1774.7C1347.7 1778.1 1334.2 1784.4 1330.8 1786.3" fill="#fff" stroke="#000" stroke-width="3" stroke-linecap="round" stroke-linejoin="round"/>
<ellipse cx="1319.3" cy="1782.7" rx="9.8" ry="14.5" transform="rotate(-20 1319.3 1782.7)" fill="#fff" stroke="#000" stroke-width="3"/>
<path d="M1332.6 1771.2C1333.2 1772.2 1335.9 1775.2 1336.5 1777.4C1337 1779.6 1335.9 1783.3 1335.8 1784.5M1337.9 1768.2C1338.6 1769.2 1341.3 1772.2 1341.8 1774.4C1342.3 1776.6 1341.2 1780.3 1341.1 1781.5M1343.2 1765C1343.9 1766 1346.6 1769 1347.1 1771.2C1347.7 1773.4 1346.5 1777.1 1346.4 1778.3M1315.7 1780.1L1322.8 1786.3M1316.6 1786.3L1321.9 1780.1" fill="none" stroke="#000" stroke-width="3" stroke-linecap="round" stroke-linejoin="round"/>
<ellipse cx="754.7" cy="2778.5" rx="27.8" ry="17.7" fill="#fff" stroke="#000" stroke-width="3"/>
<ellipse cx="754.7" cy="2778" rx="14" ry="8" fill="none" stroke="#000" stroke-width="5"/>
<path d="M754.3 2759L754.3 2776.2" fill="none" stroke="#000" stroke-width="3" stroke-linecap="round" stroke-linejoin="round"/>
<path d="M732.8 2885.6C732.9 2888.3 731.4 2898 733.4 2902.1C735.4 2906.3 740.7 2908.8 744.6 2910.4C748.6 2912 752.9 2912 757 2911.8C761.2 2911.6 765.8 2910.5 769.5 2909.2C773.1 2908 776.8 2908.4 778.9 2904.5C781 2900.6 781.4 2888.7 781.9 2885.6" fill="#fff" stroke="#000" stroke-width="3" stroke-linecap="round" stroke-linejoin="round"/>
<ellipse cx="757" cy="2883.2" rx="25.1" ry="15.4" fill="#fff" stroke="#000" stroke-width="3"/>
<path d="M741.7 2850.1L741.7 2879.7L757 2885.6L772.4 2879.7L772.4 2850.1Z" fill="#fff" stroke="#000" stroke-width="3" stroke-linecap="round" stroke-linejoin="round"/>
<ellipse cx="757" cy="2850.1" rx="15.4" ry="7.1" fill="#fff" stroke="#000" stroke-width="3"/>
<ellipse cx="757" cy="2850.7" rx="10.1" ry="5.3" fill="none" stroke="#000" stroke-width="3"/>
<path d="M743.4 2858.4C744.6 2859.3 747.2 2862.8 750.5 2863.7C753.9 2864.6 760.1 2864.6 763.5 2863.7C767 2862.8 769.9 2859.3 771.2 2858.4M743.4 2866.1C744.6 2867 747.2 2870.5 750.5 2871.4C753.9 2872.3 760.1 2872.3 763.5 2871.4C767 2870.5 769.9 2867 771.2 2866.1M743.4 2873.8C744.6 2874.6 747.2 2878.2 750.5 2879.1C753.9 2880 760.1 2880 763.5 2879.1C767 2878.2 769.9 2874.6 771.2 2873.8M741.7 2879.7C743.1 2880.8 746.9 2885.1 750.5 2886.2C754.2 2887.3 759.9 2887.3 763.5 2886.2C767.2 2885.1 770.9 2880.8 772.4 2879.7M751.7 2897.4L751.7 2911M735.2 2892.7C736.7 2893.5 741 2896.4 744.6 2897.4C748.3 2898.4 752.9 2898.7 757 2898.6C761.2 2898.5 765.7 2897.9 769.5 2896.8C773.2 2895.7 777.8 2892.9 779.5 2892.1" fill="none" stroke="#000" stroke-width="3" stroke-linecap="round" stroke-linejoin="round"/>
<path d="M2715.5 1732.8L2718.5 1781.1L2728.6 1833.5L2744.7 1897.9L2764.9 1962.4L2811.2 1950.3L2795.1 1897.9L2779 1831.5L2768.9 1781.1L2763.9 1729.8Z" fill="#fff" stroke="#000" stroke-width="3" stroke-linecap="round" stroke-linejoin="round"/>
<path d="M2700.4 1676.4L2700.4 1690.5L2704.5 1692.5L2704.5 1700.6L2697.4 1703.6L2697.4 1718.7L2737.7 1742.9L2740.7 1741.9L2777 1718.7L2777 1696.5L2772.9 1694.5L2777 1682.4L2777 1670.4L2768.9 1662.3L2752.8 1656.9L2734.7 1658.3Z" fill="#fff" stroke="#000" stroke-width="3" stroke-linecap="round" stroke-linejoin="round"/>
<path d="M2700.4 1676.4L2741.7 1699.6L2777 1682.4" fill="none" stroke="#000" stroke-width="3" stroke-linecap="round" stroke-linejoin="round"/>
<ellipse cx="2740.7" cy="1677.4" rx="20.1" ry="11.1" fill="none" stroke="#000" stroke-width="3"/>
<path d="M2741.7 1699.6L2741.7 1714.7L2738.7 1715.7L2738.7 1728.8" fill="none" stroke="#000" stroke-width="3" stroke-linecap="round" stroke-linejoin="round"/>
<path d="M2704.5 1700.6L2738.7 1715.7M2740.7 1727.8L2768.9 1710.6" fill="none" stroke="#000" stroke-width="5" stroke-linecap="round" stroke-linejoin="round"/>
<path d="M2697.4 1703.6L2737.7 1727.8L2777 1704.6M2737.7 1727.8L2737.7 1742.9" fill="none" stroke="#000" stroke-width="3" stroke-linecap="round" stroke-linejoin="round"/>
<path d="M2751.8 1964.4L2750.8 1974.5L2754.8 1980.5L2762.9 1982.5L2766.9 2000.7L2770.9 2004.7L2779 2006.7L2784 2026.8L2789 2026.8L2829.3 2012.7L2825.3 1996.6L2828.3 1982.5L2827.3 1972.5L2830.3 1962.4L2828.3 1950.3L2821.3 1945.3L2813.2 1944.3L2812.2 1950.3L2764.9 1962.4Z" fill="#fff" stroke="#000" stroke-width="3" stroke-linecap="round" stroke-linejoin="round"/>
<path d="M2764.9 1967.4C2770.6 1967.9 2790.7 1971.6 2799.1 1970.5C2807.5 1969.3 2812.2 1963.4 2815.2 1960.4C2818.2 1957.4 2816.9 1953.7 2817.2 1952.3M2785 1984.6C2787 1985.2 2792.7 1988.9 2797.1 1988.6C2801.5 1988.2 2806 1985.6 2811.2 1982.5C2816.4 1979.5 2825.5 1972.5 2828.3 1970.5M2779 2006.7C2782.7 2006.2 2793.4 2006 2801.1 2003.7C2808.8 2001.3 2821.3 1994.5 2825.3 1992.6" fill="none" stroke="#000" stroke-width="3" stroke-linecap="round" stroke-linejoin="round"/>
<circle cx="2141" cy="2546" r="11" fill="#000"/>
<ellipse cx="2134" cy="2550" rx="8" ry="9" fill="none" stroke="#000" stroke-width="3"/>

<!-- 46_clips.svg -->
<path d="M695.6 468.6C698.5 464.3 710 458.8 718.1 455.6C726.1 452.4 739 450 744.1 449.2C749.1 448.4 746.4 446.2 748.3 450.9C750.3 455.5 755.4 471.6 755.9 476.9C756.4 482.2 755.5 480 751.2 482.8C746.8 485.6 735 491.6 729.9 493.4C724.8 495.3 723.6 494.5 720.4 493.9C717.3 493.3 714.3 491.9 711 489.9C707.6 487.8 702.9 485.2 700.3 481.6C697.8 478.1 692.6 472.9 695.6 468.6ZM680.2 481.6L690.9 475.7L696.8 471L708.6 468.6L712.1 478.1L699.1 482.8L702.7 499.3L711 497L712.1 501.7L694.4 507.6L688.5 489.9L682.6 491.1Z" fill="#fff" stroke="#000" stroke-width="3" stroke-linecap="round" stroke-linejoin="round"/>
<path d="M726.3 475.7C729.1 473.6 740.8 470.3 744.1 470.5C747.3 470.7 747.3 474.6 745.7 476.9C744.2 479.1 737.7 483 734.6 484C731.6 485 728.9 484.2 727.5 482.8C726.1 481.4 723.6 477.7 726.3 475.7ZM700.3 481.6L711 475.7L718.1 462.7M693.2 485.2L698 499.3M699.1 409.5L719.2 459.1" fill="none" stroke="#000" stroke-width="3" stroke-linecap="round" stroke-linejoin="round"/>
<ellipse cx="1129.6" cy="1133.4" rx="30.3" ry="28.9" fill="#fff" stroke="#000" stroke-width="4.5"/>
<ellipse cx="1130.3" cy="1134.1" rx="24.8" ry="23.7" fill="none" stroke="#000" stroke-width="3"/>
<ellipse cx="1128.4" cy="1139.3" rx="14.7" ry="20.1" transform="rotate(-30 1128.4 1139.3)" fill="none" stroke="#000" stroke-width="4.5"/>
<path d="M1108.3 1118.1C1109.6 1116.9 1112.8 1112.7 1116.5 1111C1120.3 1109.2 1126 1107.4 1130.7 1107.4C1135.5 1107.4 1141.4 1109.2 1144.9 1111C1148.5 1112.7 1150.8 1116.9 1152 1118.1M1147.3 1118.1C1147.7 1120.8 1150.1 1129.1 1149.7 1134.6C1149.3 1140.1 1145.7 1148.4 1144.9 1151.2M1083.4 1131.1L1088.2 1127L1103.5 1131.1L1102.4 1135.1L1088.2 1135.1Z" fill="none" stroke="#000" stroke-width="3" stroke-linecap="round" stroke-linejoin="round"/>
<path d="M1045.6 1176.7C1038.9 1182.5 1012.8 1203.9 1005.4 1211.5C998 1219.1 1001.1 1218.2 1001.1 1222.1C1001.1 1226.1 1002.5 1232.2 1005.4 1235.2C1008.2 1238.1 1013.8 1239.4 1018.4 1239.9C1022.9 1240.4 1023.6 1243.9 1032.6 1238.2C1041.5 1232.5 1065.5 1211 1072.1 1205.6" fill="#fff" stroke="#000" stroke-width="3" stroke-linecap="round" stroke-linejoin="round"/>
<path d="M1021.9 1196.6C1021.3 1198.9 1017.6 1205.9 1018.4 1210.3C1019.2 1214.8 1022.1 1220.6 1026.7 1223.3C1031.2 1226.1 1042.4 1226.3 1045.6 1226.9" fill="none" stroke="#000" stroke-width="3" stroke-linecap="round" stroke-linejoin="round"/>
<ellipse cx="1057.4" cy="1192.6" rx="16.1" ry="18.5" transform="rotate(10 1057.4 1192.6)" fill="#fff" stroke="#000" stroke-width="5"/>

<!-- 47_clamptab.svg -->
<polygon points="1116.5,1158.3 1123.6,1163 1118.9,1172.5 1105.9,1180.7 1104.7,1177.2 1110.6,1165.4" fill="#000"/>

<!-- 50_rh_A.svg -->
<path d="M2000 915.3L2068.3 878M2000 926.8L2099.4 870.6M2008.3 952.5L2062.1 923.5L2107.6 894.6M2068.3 855.2C2071.4 848.5 2089.2 842.3 2095.2 840.7C2101.2 839.2 2102.9 840.2 2104.3 845.7C2105.7 851.2 2105.4 867.7 2103.5 873.9C2101.6 880.1 2097.6 881.8 2093.1 883C2088.7 884.1 2080.7 885.5 2076.6 880.9C2072.4 876.3 2065.2 861.9 2068.3 855.2Z" fill="none" stroke="#000" stroke-width="3.7" stroke-linecap="round" stroke-linejoin="round"/>
<ellipse cx="2087.8" cy="865.6" rx="7" ry="10.3" transform="rotate(-15 2087.8 865.6)" fill="none" stroke="#000" stroke-width="3.7"/>
<path d="M2103.5 844.9C2106.9 841.4 2120 831.4 2124.2 824.2C2128.3 816.9 2125.6 806.6 2128.3 801.4C2131.1 796.2 2136.3 793.1 2140.7 793.1C2145.2 793.1 2151.8 796.2 2155.2 801.4C2158.7 806.6 2158.3 817.6 2161.4 824.2C2164.5 830.7 2170.4 833.8 2173.9 840.7C2177.3 847.6 2178.7 858 2182.1 865.6C2185.6 873.2 2189 878 2194.6 886.3C2200.1 894.6 2211.8 910.4 2215.3 915.3" fill="none" stroke="#000" stroke-width="3.7" stroke-linecap="round" stroke-linejoin="round"/>
<ellipse cx="2138.7" cy="810.9" rx="5.8" ry="7.9" fill="none" stroke="#000" stroke-width="3.7"/>
<ellipse cx="2140.7" cy="856.5" rx="25.7" ry="33.9" transform="rotate(-20 2140.7 856.5)" fill="none" stroke="#000" stroke-width="4.5"/>
<ellipse cx="2140.7" cy="856.5" rx="20.7" ry="28.1" transform="rotate(-20 2140.7 856.5)" fill="none" stroke="#000" stroke-width="3.7"/>
<ellipse cx="2142" cy="857.3" rx="14.9" ry="21.5" transform="rotate(-20 2142 857.3)" fill="none" stroke="#000" stroke-width="3.7"/>
<path d="M2140.7 793.1L2182.1 770.4M2182.1 770.4C2183.9 772.1 2189.9 774.9 2192.5 780.7C2195.1 786.6 2194.1 800.5 2197.9 805.6C2201.7 810.6 2212.4 810 2215.3 810.9M2182.1 770.4L2215.3 753.8L2269.1 733.1M2215.3 753.8L2225.6 768.3M2194.6 782.8L2225.6 766.2L2252.5 753.8M2252.5 753.8C2254.6 759.3 2261.5 776.6 2264.9 786.9C2268.4 797.3 2266.7 809.7 2273.2 815.9C2279.8 822.1 2298.6 821.3 2304.3 824.2C2309.9 827.1 2309.6 830.2 2307.2 833.3C2304.7 836.4 2292.7 841.2 2289.8 842.8M2269.1 733.1C2270.3 735 2273.1 743.3 2276.5 744.7C2280 746.1 2285.1 738.8 2289.8 741.4C2294.4 743.9 2301.8 756.9 2304.3 760M2271.1 743.5L2271.1 762.1M2271.1 762.1C2274.2 769 2284.3 793.1 2289.8 803.5C2295.3 813.8 2301.8 820.7 2304.3 824.2" fill="none" stroke="#000" stroke-width="3.7" stroke-linecap="round" stroke-linejoin="round"/>
<ellipse cx="2320.8" cy="778.7" rx="5" ry="7.5" fill="none" stroke="#000" stroke-width="3.7"/>
<path d="M2304.3 766.2C2303.9 769 2300.5 777.6 2302.2 782.8C2303.9 788 2308.4 795.2 2314.6 797.3C2320.8 799.4 2333.2 797.6 2339.4 795.2C2345.7 792.8 2349.8 784.9 2351.9 782.8M2327 754.6C2331.9 752.1 2349.2 741.4 2356 739.3C2362.8 737.3 2363.8 737.7 2367.6 742.2C2371.4 746.7 2377.9 760 2378.8 766.2C2379.6 772.4 2369.5 774.3 2372.6 779.5C2375.7 784.7 2393.3 794.3 2397.4 797.3M2322.9 820C2325.6 818.7 2327 815.6 2339.4 811.8C2351.9 808 2387.7 799.7 2397.4 797.3M2325 820.9C2321.9 819.2 2326.7 815.7 2331.2 815.9C2335.7 816.1 2348.8 820.4 2351.9 822.1C2355 823.8 2354.3 826.5 2349.8 826.3C2345.3 826.1 2328.1 822.6 2325 820.9ZM2165.6 824.2L2289.8 758M2198.7 807.6L2306.3 753.8M2107.6 882.1C2110.4 884.2 2113.1 889 2124.2 894.6C2135.2 900.1 2163.5 910.4 2173.9 915.3C2184.2 920.1 2184.2 922.2 2186.3 923.5M2109.7 890.4C2112.1 894.6 2119.7 909 2124.2 915.3C2128.7 921.5 2129.7 926 2136.6 927.7C2143.5 929.4 2160.8 926 2165.6 925.6M2115.9 873.9L2182.1 907L2186.3 915.3L2120 882.1ZM2178 923.5C2180.8 919.4 2189.7 913.9 2194.6 915.3C2199.4 916.6 2205.3 926.3 2207 931.8C2208.7 937.3 2208 944.9 2204.9 948.4C2201.8 951.8 2192.8 953.9 2188.4 952.5C2183.9 951.1 2179.7 944.9 2178 940.1C2176.3 935.3 2175.2 927.7 2178 923.5Z" fill="none" stroke="#000" stroke-width="3.7" stroke-linecap="round" stroke-linejoin="round"/>
<ellipse cx="2191.2" cy="933.9" rx="7.5" ry="10.8" transform="rotate(-15 2191.2 933.9)" fill="none" stroke="#000" stroke-width="3.7"/>
<path d="M2204.9 948.4C2209.4 945.6 2217.7 940.8 2231.8 931.8C2246 922.8 2273.9 905.6 2289.8 894.6C2305.6 883.5 2318.1 871.4 2327 865.6C2336 859.7 2338.8 858 2343.6 859.4C2348.4 860.8 2353.2 868 2356 873.9C2358.8 879.7 2359.5 891.1 2360.1 894.6M2202.3 944.1C2206.8 941.4 2215.1 936.6 2229.2 927.6C2243.3 918.7 2271.1 901.5 2286.9 890.5C2302.8 879.5 2314.6 867.4 2324.3 861.4C2334 855.4 2338.9 852.9 2345 854.6C2351 856.3 2357.2 865.2 2360.5 871.7C2363.8 878.2 2364.3 889.9 2365 893.6" fill="none" stroke="#000" stroke-width="3.7" stroke-linecap="round" stroke-linejoin="round"/>
<ellipse cx="2335.3" cy="880.1" rx="9.1" ry="11.6" transform="rotate(-20 2335.3 880.1)" fill="none" stroke="#000" stroke-width="3.7"/>
<ellipse cx="2337.4" cy="881.3" rx="5" ry="7" transform="rotate(-20 2337.4 881.3)" fill="none" stroke="#000" stroke-width="3.7"/>
<path d="M2360.1 894.6C2362.2 898 2367 909 2372.6 915.3C2378.1 921.5 2386.4 923.5 2393.3 931.8C2400.2 940.1 2407.7 952.5 2414 964.9C2420.2 977.4 2427.1 993.9 2430.5 1006.3C2434 1018.7 2434 1033.9 2434.7 1039.4M2364.4 892C2366.4 895.3 2370.8 905.9 2376.3 912C2381.7 918.1 2390.1 920.2 2397.1 928.6C2404.1 937.1 2412 950 2418.4 962.7C2424.8 975.4 2431.8 992.3 2435.3 1005C2438.8 1017.7 2438.9 1033.2 2439.6 1038.8" fill="none" stroke="#000" stroke-width="3.7" stroke-linecap="round" stroke-linejoin="round"/>
<ellipse cx="2327.4" cy="1009.6" rx="118" ry="67.9" transform="rotate(60 2327.4 1009.6)" fill="none" stroke="#000" stroke-width="4.5"/>
<ellipse cx="2326.2" cy="1011.3" rx="110.9" ry="64.2" transform="rotate(60 2326.2 1011.3)" fill="none" stroke="#000" stroke-width="3.7"/>
<path d="M2223.5 975.3C2218.7 979.1 2201.8 988.7 2194.6 998.1C2187.3 1007.4 2182.1 1018.7 2180.1 1031.2C2178 1043.6 2177.7 1058.1 2182.1 1072.6C2186.6 1087.1 2195.9 1104.3 2207 1118.1C2218 1131.9 2234.6 1146 2248.4 1155.4C2262.2 1164.7 2278 1171.2 2289.8 1174C2301.5 1176.7 2313.9 1172.3 2318.7 1171.9M2220 970.7C2215 974.7 2197.6 984.6 2190 994.5C2182.4 1004.4 2176.6 1016.9 2174.4 1030.2C2172.1 1043.5 2171.9 1059 2176.6 1074.3C2181.3 1089.5 2191 1107.4 2202.5 1121.7C2213.9 1136 2230.8 1150.5 2245.1 1160.2C2259.5 1169.8 2276.1 1176.7 2288.4 1179.6C2300.8 1182.5 2314 1178 2319.2 1177.7M2198.7 985.6C2200.1 986.3 2201.5 989.8 2207 989.8C2212.5 989.8 2222.2 985.6 2231.8 985.6C2241.5 985.6 2259.4 989.1 2264.9 989.8M2153.2 998.1C2155.2 996.7 2160.8 991.8 2165.6 989.8C2170.4 987.7 2177.3 984.3 2182.1 985.6C2187 987 2192.5 996 2194.6 998.1M2153.2 998.1C2152.5 1002.2 2148.3 1013.9 2149 1022.9C2149.7 1031.9 2151.8 1043.6 2157.3 1051.9C2162.8 1060.1 2178 1069.1 2182.1 1072.6" fill="none" stroke="#000" stroke-width="3.7" stroke-linecap="round" stroke-linejoin="round"/>
<ellipse cx="2170.6" cy="1022.1" rx="6.6" ry="9.9" transform="rotate(-20 2170.6 1022.1)" fill="none" stroke="#000" stroke-width="3.7"/>
<ellipse cx="2168.9" cy="1020.8" rx="3.7" ry="5.8" transform="rotate(-20 2168.9 1020.8)" fill="none" stroke="#000" stroke-width="3.7"/>
<ellipse cx="2276.9" cy="1053.9" rx="91.9" ry="53" transform="rotate(60 2276.9 1053.9)" fill="none" stroke="#000" stroke-width="3.7"/>
<ellipse cx="2276.9" cy="1053.9" rx="74.5" ry="43.1" transform="rotate(60 2276.9 1053.9)" fill="none" stroke="#000" stroke-width="3.7"/>
<ellipse cx="2276.9" cy="1053.9" rx="82.8" ry="47.6" transform="rotate(60 2276.9 1053.9)" fill="none" stroke="#000" stroke-width="3.7"/>
<path d="M2240.1 998.1C2240.4 1003.6 2238.7 1018.7 2242.2 1031.2C2245.6 1043.6 2252.9 1060.1 2260.8 1072.6C2268.7 1085 2278.7 1097.4 2289.8 1105.7C2300.8 1114 2320.8 1119.5 2327 1122.2M2264.9 1006.3C2265.6 1012.5 2264.9 1031.2 2269.1 1043.6C2273.2 1056 2280.8 1070.5 2289.8 1080.8C2298.7 1091.2 2317.4 1101.5 2322.9 1105.7M2289.8 956.7C2291.2 960.8 2292.5 971.8 2298.1 981.5C2303.6 991.2 2314.6 1002.9 2322.9 1014.6C2331.2 1026.3 2340.8 1040.8 2347.7 1051.9C2354.6 1062.9 2361.5 1076 2364.3 1080.8M2285.6 964.9C2290.5 963.6 2304.3 953.9 2314.6 956.7C2325 959.4 2340.1 971.8 2347.7 981.5C2355.3 991.2 2357.4 999.4 2360.1 1014.6C2362.9 1029.8 2363.6 1062.9 2364.3 1072.6M2360.1 1072.6C2366.4 1071.2 2388.4 1069.8 2397.4 1064.3C2406.4 1058.8 2411.2 1043.6 2414 1039.4M2331.2 1072.6C2332.5 1076.7 2339.4 1087.7 2339.4 1097.4C2339.4 1107.1 2336.7 1120.2 2331.2 1130.5C2325.6 1140.9 2310.5 1154.7 2306.3 1159.5M2327 1080.8C2328.1 1084.3 2333.2 1094 2333.2 1101.5C2333.2 1109.1 2328.1 1122.2 2327 1126.4M2434.7 1039.4C2438.8 1040.1 2453.3 1040.8 2459.5 1043.6C2465.7 1046.3 2470.5 1051.2 2471.9 1056C2473.3 1060.8 2470.5 1068.4 2467.8 1072.6C2465 1076.7 2464.3 1076.7 2455.4 1080.8C2446.4 1085 2423.6 1093.3 2414 1097.4C2404.3 1101.5 2400.2 1104.3 2397.4 1105.7" fill="none" stroke="#000" stroke-width="3.7" stroke-linecap="round" stroke-linejoin="round"/>
<ellipse cx="2447.1" cy="1060.1" rx="8.3" ry="11.6" transform="rotate(-20 2447.1 1060.1)" fill="none" stroke="#000" stroke-width="3.7"/>
<ellipse cx="2445" cy="1061.4" rx="4.6" ry="6.6" transform="rotate(-20 2445 1061.4)" fill="none" stroke="#000" stroke-width="3.7"/>
<path d="M2430.5 938L2503 888.4L2509.2 894.6L2438.8 950.4L2430.5 938M2438.8 944.2L2507.1 891.2M2488.5 1027L2612.7 931.8L2620.9 940.1L2496.8 1043.6L2488.5 1027M2492.6 1037.4L2616.8 936M2608.5 940.1L2620.9 933.9M2393.3 815.9C2394.6 822.8 2395.3 840.7 2401.5 857.3C2407.7 873.9 2421.5 898.7 2430.5 915.3C2439.5 931.8 2445.7 940.1 2455.4 956.7C2465 973.2 2483 1004.9 2488.5 1014.6M2455.4 956.7C2459.5 964.9 2473.3 991.8 2480.2 1006.3C2487.1 1020.8 2494 1037.4 2496.8 1043.6M2397.4 849L2418.1 853.2M2372.6 878L2385 878L2397.4 890.4M2414 898.7L2430.5 915.3M2488.5 956.7L2505 964.9L2496.8 985.6M2442.9 964.9L2459.5 956.7M2447.1 998.1L2463.6 989.8M2364.3 1006.3L2380.8 1006.3M2327 1031.2L2339.4 1027M2378.8 768.3L2519.5 808.5M2374.6 778.7L2488.5 832.5M2486.4 832.5L2519.5 811.8L2542.3 851.1Z" fill="none" stroke="#000" stroke-width="3.7" stroke-linecap="round" stroke-linejoin="round"/>
<ellipse cx="2521.6" cy="824.2" rx="4.1" ry="5.8" fill="none" stroke="#000" stroke-width="3.7"/>
<path d="M2519.5 811.8C2523.3 809.1 2536.4 798.7 2542.3 796C2548.2 793.4 2551.1 791.7 2554.7 796C2558.3 800.4 2563.8 814 2563.8 822.1C2563.8 830.3 2558.3 839.8 2554.7 844.9C2551.1 849.9 2544.4 851.1 2542.3 852.3M2563.8 824.2L2700 891.2M2556.8 840.7L2700 907M2393.3 818L2517.4 865.6L2700 952.5M2399.5 849L2455.4 865.6L2700 973.2M2430.5 799.4L2447.1 795.2M2467.8 782.8L2503 764.2M2397.4 700L2505 764.2M2523.7 793.1L2612.7 745.5M2658.2 844.9L2700 822.1M2455.4 828.3L2471.9 824.2M2587.8 882.1L2616.8 869.7M2554.7 907L2571.3 898.7M2500.9 936L2525.7 925.6M2579.5 1031.2C2585.1 1028.1 2601.6 1007 2612.7 1012.5C2623.7 1018.1 2640.3 1055.7 2645.8 1064.3M2581.6 1043.6C2580.2 1037.4 2584 1033.9 2587.8 1031.2C2591.6 1028.4 2598.9 1025.6 2604.4 1027C2609.9 1028.4 2617.8 1034.6 2620.9 1039.4C2624 1044.3 2624.4 1051.2 2623 1056C2621.6 1060.8 2617.1 1066.4 2612.7 1068.4C2608.2 1070.5 2601.3 1072.6 2596.1 1068.4C2590.9 1064.3 2583 1049.8 2581.6 1043.6Z" fill="none" stroke="#000" stroke-width="3.7" stroke-linecap="round" stroke-linejoin="round"/>
<ellipse cx="2606.4" cy="1049.8" rx="14.5" ry="17.4" transform="rotate(-10 2606.4 1049.8)" fill="none" stroke="#000" stroke-width="3.7"/>
<path d="M2700 975.3L2606.4 1049.8M2639.6 1074.6L2700 1035.3M2645.8 1085L2700 1047.7M2639.6 1074.6C2639.9 1076.7 2637.8 1084.3 2641.6 1087.1C2645.4 1089.8 2652.6 1089.5 2662.3 1091.2C2672.1 1092.9 2693.7 1096.4 2700 1097.4M2006.2 989.8C2007.9 1000.1 2013.5 1031.2 2016.6 1051.9C2019.7 1072.6 2023.5 1100.8 2024.8 1114C2026.2 1127.1 2023.8 1124.3 2024.8 1130.5C2025.9 1136.7 2027.6 1146.4 2031 1151.2C2034.5 1156 2043.8 1153.3 2045.5 1159.5C2047.3 1165.7 2037.9 1173.3 2041.4 1188.5C2044.8 1203.6 2061.1 1235.7 2066.2 1250.6C2071.4 1265.4 2068.6 1267.8 2072.4 1277.5C2076.2 1287.1 2086.6 1294.4 2089 1308.5C2091.4 1322.7 2086.6 1347.1 2086.9 1362.3C2087.3 1377.6 2090.4 1393.7 2091.1 1400M2014.5 985.6C2016.2 996.7 2021.4 1030.5 2024.8 1051.9C2028.3 1073.3 2033.5 1103.6 2035.2 1114M2024.8 1132.6C2025.2 1127.4 2032.1 1125.3 2035.2 1126.4C2038.3 1127.4 2042.4 1134.3 2043.5 1138.8C2044.5 1143.3 2043.1 1150.2 2041.4 1153.3C2039.7 1156.4 2035.9 1160.9 2033.1 1157.4C2030.4 1154 2024.5 1137.8 2024.8 1132.6Z" fill="none" stroke="#000" stroke-width="3.7" stroke-linecap="round" stroke-linejoin="round"/>
<ellipse cx="2034.8" cy="1142.1" rx="5.4" ry="9.1" transform="rotate(-20 2034.8 1142.1)" fill="none" stroke="#000" stroke-width="3.7"/>
<path d="M2072.4 1263C2072.8 1258.5 2077.6 1256.1 2080.7 1256.8C2083.8 1257.5 2089.7 1263.3 2091.1 1267.1C2092.5 1270.9 2091.1 1276.8 2089 1279.5C2086.9 1282.3 2081.4 1286.4 2078.7 1283.7C2075.9 1280.9 2072.1 1267.5 2072.4 1263Z" fill="none" stroke="#000" stroke-width="3.7" stroke-linecap="round" stroke-linejoin="round"/>
<ellipse cx="2082" cy="1270.4" rx="5.4" ry="9.1" transform="rotate(-20 2082 1270.4)" fill="none" stroke="#000" stroke-width="3.7"/>
<path d="M2000 1000.1L2008.3 1006.3L2010.3 1014.6M2049.7 1184.3C2050.7 1183 2053.1 1176.7 2055.9 1176.1C2058.6 1175.4 2052.8 1159.5 2066.2 1180.2C2079.7 1200.9 2122.8 1278.2 2136.6 1300.2C2150.4 1322.3 2145.2 1309.9 2149 1312.7C2152.8 1315.4 2157.6 1316.1 2159.4 1316.8M2055.9 1190.5C2067.3 1209.5 2110 1282.6 2124.2 1304.4C2138.3 1326.1 2135.2 1318.2 2140.7 1320.9C2146.3 1323.7 2154.5 1320.9 2157.3 1320.9M2066.2 1180.2L2132.5 1138.8M2045.5 1159.5L2124.2 1118.1M2159.4 1316.8L2264.9 1267.1M2149 1287.8C2150.4 1289.2 2152.5 1294.7 2157.3 1296.1C2162.1 1297.5 2167 1299.6 2178 1296.1C2189 1292.7 2215.9 1278.9 2223.5 1275.4" fill="none" stroke="#000" stroke-width="3.7" stroke-linecap="round" stroke-linejoin="round"/>
<ellipse cx="2062.1" cy="1187.6" rx="5" ry="8.3" transform="rotate(-30 2062.1 1187.6)" fill="none" stroke="#000" stroke-width="3.7"/>
<ellipse cx="2151.1" cy="1308.5" rx="5" ry="8.3" transform="rotate(-30 2151.1 1308.5)" fill="none" stroke="#000" stroke-width="3.7"/>
<path d="M2053.8 1196.8C2064.9 1215.4 2106.2 1287.1 2120 1308.5C2133.8 1329.9 2133.8 1322.3 2136.6 1325.1M2215.3 1265.1C2220.8 1264.4 2240.1 1259.5 2248.4 1260.9C2256.7 1262.3 2264.9 1270.2 2264.9 1273.3C2264.9 1276.4 2254.9 1278.9 2248.4 1279.5C2241.8 1280.2 2229.4 1277.8 2225.6 1277.5M2225.6 1277.5L2225.6 1287.8M2103.5 1184.3C2102.8 1188.5 2097.3 1201.6 2099.4 1209.2C2101.4 1216.8 2110.4 1226.8 2115.9 1229.9C2121.4 1233 2129.7 1228.1 2132.5 1227.8M2120 1159.5L2140.7 1176.1M2165.6 1188.5L2149 1213.3M2128.3 1022.9C2129 1029.8 2129.7 1053.2 2132.5 1064.3C2135.2 1075.3 2143.5 1080.8 2144.9 1089.1C2146.3 1097.4 2141.4 1109.8 2140.7 1114M2132.5 1118.1C2136.6 1118.8 2150.4 1116.7 2157.3 1122.2C2164.2 1127.8 2170.4 1140.2 2173.9 1151.2C2177.3 1162.3 2173.2 1184.3 2178 1188.5C2182.8 1192.6 2200.1 1174.7 2202.8 1176.1C2205.6 1177.4 2189.7 1187.1 2194.6 1196.8C2199.4 1206.4 2214.6 1225 2231.8 1234C2249.1 1243 2287 1247.8 2298.1 1250.6M2133.1 1114C2137.6 1114.8 2152.4 1113 2159.9 1119C2167.3 1125 2174.3 1138.9 2177.8 1150C2181.3 1161 2176.2 1181.6 2180.7 1185.3C2185.2 1189.1 2201.8 1170.8 2204.7 1172.3C2207.6 1173.9 2193.4 1185.2 2198.3 1194.9C2203.1 1204.6 2216.9 1221.7 2233.7 1230.3C2250.5 1238.9 2288.2 1243.8 2299.1 1246.5M2178 1188.5L2194.6 1176.1M2198.7 1188.5C2201.5 1194 2207 1212.6 2215.3 1221.6C2223.5 1230.6 2242.9 1238.8 2248.4 1242.3M2070.4 1147.1L2124.2 1114M2024.8 1039.4L2062.1 1022.9M2033.1 1114L2120 1074.6M2041.4 1126.4L2124.2 1085M2000 1118.1L2223.5 989.8M2000 1225.7L2289.8 1060.1M2000 1316.8L2438.8 1064.3M2000 1329.2L2099.4 1273.3M2298.1 1217.4C2298.7 1211.9 2298.1 1194 2302.2 1184.3C2306.3 1174.7 2314.6 1165.7 2322.9 1159.5C2331.2 1153.3 2345 1147.8 2351.9 1147.1C2358.8 1146.4 2348.4 1152.6 2364.3 1155.4C2380.2 1158.1 2432.6 1160.2 2447.1 1163.6C2461.6 1167.1 2453.3 1170.5 2451.2 1176.1C2449.1 1181.6 2438.8 1189.9 2434.7 1196.8C2430.5 1203.6 2436.7 1214.7 2426.4 1217.4C2416 1220.2 2392.6 1210.5 2372.6 1213.3C2352.6 1216.1 2317.4 1230.6 2306.3 1234M2293.9 1216.9C2294.7 1211.2 2294 1192.8 2298.4 1182.7C2302.8 1172.6 2311.6 1162.8 2320.4 1156.2C2329.2 1149.6 2344 1143.8 2351.5 1143C2358.9 1142.1 2348.9 1148.5 2365 1151.3C2381.1 1154.1 2433 1155.2 2448 1159.6C2463.1 1164 2456.7 1171 2455.1 1177.5C2453.5 1184.1 2442.8 1191.6 2438.2 1198.9C2433.6 1206.2 2438.3 1218.4 2427.4 1221.4C2416.6 1224.5 2393.1 1214.7 2373.1 1217.4C2353.1 1220.2 2318.5 1234.5 2307.6 1238M2304.3 1221.6C2304.9 1216.1 2304.6 1197.4 2308.4 1188.5C2312.2 1179.5 2323.9 1171.2 2327 1167.8M2345.7 1142.9C2346.7 1138.5 2352.9 1135.7 2356 1136.7C2359.1 1137.8 2363.6 1144.7 2364.3 1149.1C2365 1153.6 2362.6 1161.2 2360.1 1163.6C2357.7 1166 2352.2 1167.1 2349.8 1163.6C2347.4 1160.2 2344.6 1147.4 2345.7 1142.9Z" fill="none" stroke="#000" stroke-width="3.7" stroke-linecap="round" stroke-linejoin="round"/>
<ellipse cx="2353.9" cy="1152" rx="5.8" ry="9.9" transform="rotate(-15 2353.9 1152)" fill="none" stroke="#000" stroke-width="3.7"/>
<path d="M2343.6 1118.1C2345 1117.4 2348.4 1110.5 2351.9 1114C2355.3 1117.4 2362.2 1134.7 2364.3 1138.8M2360.1 1134.7L2513.3 1056M2364.3 1145L2517.4 1064.3M2331.2 1151.2L2306.3 1163.6M2364.3 1171.9L2380.8 1209.2M2331.2 1209.2C2334.6 1210.5 2347 1214.7 2351.9 1217.4C2356.7 1220.2 2361.5 1220.2 2360.1 1225.7C2358.8 1231.2 2349.1 1242.3 2343.6 1250.6C2338.1 1258.8 2323.6 1272 2327 1275.4C2330.5 1278.9 2349.8 1269.2 2364.3 1271.3C2378.8 1273.3 2405.7 1285.1 2414 1287.8M2339.4 1238.1C2345 1235.4 2358.1 1223.7 2372.6 1221.6C2387.1 1219.5 2417.4 1225 2426.4 1225.7M2281.5 1263L2364.3 1312.7M2298.1 1250.6L2372.6 1246.4" fill="none" stroke="#000" stroke-width="3.7" stroke-linecap="round" stroke-linejoin="round"/>
<ellipse cx="2491.8" cy="1298.6" rx="72.4" ry="41.8" transform="rotate(60 2491.8 1298.6)" fill="none" stroke="#000" stroke-width="4"/>
<ellipse cx="2491.8" cy="1298.6" rx="67.1" ry="38.9" transform="rotate(60 2491.8 1298.6)" fill="none" stroke="#000" stroke-width="3.7"/>
<ellipse cx="2505.9" cy="1287" rx="52.2" ry="30.2" transform="rotate(60 2505.9 1287)" fill="none" stroke="#000" stroke-width="4"/>
<ellipse cx="2505.9" cy="1287" rx="46.8" ry="26.9" transform="rotate(60 2505.9 1287)" fill="none" stroke="#000" stroke-width="3.7"/>
<path d="M2488.5 1188.5C2491.9 1196.8 2500.9 1221.6 2509.2 1238.1C2517.4 1254.7 2530.6 1269.9 2538.1 1287.8C2545.7 1305.8 2551.9 1336.1 2554.7 1345.8M2496.8 1184.3C2502.3 1194.7 2520.9 1225.7 2529.9 1246.4C2538.8 1267.1 2547.1 1298.2 2550.6 1308.5M2451.2 1159.5C2454 1158.1 2460.2 1149.8 2467.8 1151.2C2475.4 1152.6 2483 1158.1 2496.8 1167.8C2510.5 1177.4 2538.1 1198.1 2550.6 1209.2C2563 1220.2 2563 1227.1 2571.3 1234C2579.5 1240.9 2589.2 1245 2600.2 1250.6C2611.3 1256.1 2631.3 1264.4 2637.5 1267.1M2459.5 1155.4C2461.6 1154 2465 1146.4 2471.9 1147.1C2478.8 1147.8 2487.1 1150.5 2500.9 1159.5C2514.7 1168.5 2541.6 1189.2 2554.7 1200.9C2567.8 1212.6 2570.6 1222.3 2579.5 1229.9C2588.5 1237.5 2603.7 1243.7 2608.5 1246.4" fill="none" stroke="#000" stroke-width="3.7" stroke-linecap="round" stroke-linejoin="round"/>
<ellipse cx="2455.4" cy="1160.3" rx="5.8" ry="9.1" transform="rotate(-20 2455.4 1160.3)" fill="none" stroke="#000" stroke-width="3.7"/>
<ellipse cx="2558.8" cy="1227.8" rx="5.8" ry="9.1" transform="rotate(-20 2558.8 1227.8)" fill="none" stroke="#000" stroke-width="3.7"/>
<path d="M2438.8 1126.4C2448.5 1126.4 2485 1124.3 2496.8 1126.4C2508.5 1128.4 2502.3 1140.9 2509.2 1138.8C2516.1 1136.7 2526.4 1119.5 2538.1 1114C2549.9 1108.4 2567.8 1105.7 2579.5 1105.7C2591.3 1105.7 2603.7 1112.6 2608.5 1114M2476.1 1151.2C2480.9 1148.5 2493.3 1138.1 2505 1134.7C2516.8 1131.2 2539.5 1131.2 2546.4 1130.5M2608.5 1085C2609.9 1089.8 2616.8 1102.2 2616.8 1114C2616.8 1125.7 2608.5 1138.1 2608.5 1155.4C2608.5 1172.6 2612 1200.2 2616.8 1217.4C2621.6 1234.7 2629.9 1249.2 2637.5 1258.8C2645.1 1268.5 2651.9 1276.1 2662.3 1275.4C2672.8 1274.7 2693.7 1258.2 2700 1254.7M2613.3 1083.6C2614.7 1088.7 2621.7 1102 2621.8 1114C2621.8 1125.9 2613.5 1138.3 2613.5 1155.4C2613.5 1172.4 2616.9 1199.4 2621.6 1216.1C2626.2 1232.8 2634.7 1246.7 2641.4 1255.8C2648.1 1264.8 2652.6 1271.3 2662 1270.4C2671.4 1269.5 2691.7 1253.7 2697.6 1250.4M2616.8 1118.1C2618.9 1117.4 2621.6 1114 2629.2 1114C2636.8 1114 2650.5 1114 2662.3 1118.1C2674.1 1122.2 2693.7 1135.3 2700 1138.8M2620.9 1138.8C2620.9 1148.5 2618.2 1178.8 2620.9 1196.8C2623.7 1214.7 2634.7 1238.1 2637.5 1246.4" fill="none" stroke="#000" stroke-width="3.7" stroke-linecap="round" stroke-linejoin="round"/>
<ellipse cx="2620.9" cy="1097.4" rx="7.5" ry="9.9" fill="none" stroke="#000" stroke-width="3.7"/>
<ellipse cx="2620.9" cy="1097.4" rx="3.7" ry="5" fill="none" stroke="#000" stroke-width="3.7"/>
<ellipse cx="2647.8" cy="1149.1" rx="9.1" ry="7.5" fill="none" stroke="#000" stroke-width="3.7"/>
<path d="M2629.2 1209.2C2633.4 1203.6 2648.5 1179.5 2654.1 1176.1C2659.6 1172.6 2659.6 1178.8 2662.3 1188.5C2665.1 1198.1 2668.2 1223.7 2670.6 1234C2673 1244.4 2675.8 1247.8 2676.8 1250.6" fill="none" stroke="#000" stroke-width="3.7" stroke-linecap="round" stroke-linejoin="round"/>
<ellipse cx="2654.1" cy="1273.3" rx="10.8" ry="9.1" fill="none" stroke="#000" stroke-width="3.7"/>
<ellipse cx="2654.1" cy="1273.3" rx="5.4" ry="4.6" fill="none" stroke="#000" stroke-width="3.7"/>
<path d="M2571.3 1217.4C2576.1 1214.7 2592 1204.3 2600.2 1200.9C2608.5 1197.4 2617.5 1197.4 2620.9 1196.8M2554.7 1205L2612.7 1176.1M2587.8 1254.7C2589.2 1258.8 2592.7 1274 2596.1 1279.5C2599.6 1285.1 2606.4 1286.4 2608.5 1287.8M2579.5 1320.9C2580.9 1325.1 2583.7 1338.9 2587.8 1345.8C2592 1352.7 2600.2 1353.3 2604.4 1362.3C2608.5 1371.4 2611.3 1393.7 2612.7 1400" fill="none" stroke="#000" stroke-width="3.7" stroke-linecap="round" stroke-linejoin="round"/>
<ellipse cx="2573.3" cy="1337.5" rx="12.4" ry="24.8" transform="rotate(-20 2573.3 1337.5)" fill="none" stroke="#000" stroke-width="3.7"/>
<ellipse cx="2579.5" cy="1339.6" rx="7.5" ry="18.6" transform="rotate(-20 2579.5 1339.6)" fill="none" stroke="#000" stroke-width="3.7"/>
<path d="M2089 1308.5C2090 1310.6 2090.7 1318.2 2095.2 1320.9C2099.7 1323.7 2111.1 1322.3 2115.9 1325.1C2120.7 1327.8 2126.9 1334 2124.2 1337.5C2121.4 1340.9 2104.5 1347.2 2099.4 1345.8C2094.2 1344.4 2094.2 1332 2093.1 1329.2" fill="none" stroke="#000" stroke-width="3.7" stroke-linecap="round" stroke-linejoin="round"/>
<ellipse cx="2093.1" cy="1302.3" rx="4.1" ry="7.5" transform="rotate(-20 2093.1 1302.3)" fill="none" stroke="#000" stroke-width="3.7"/>
<path d="M2095.2 1354.1C2094.2 1358.2 2088.3 1371.2 2089 1378.9C2089.7 1386.6 2097.6 1396.5 2099.4 1400M2107.6 1349.9C2112.5 1349.2 2130.4 1343.7 2136.6 1345.8C2142.8 1347.8 2144.9 1353.3 2144.9 1362.3C2144.9 1371.4 2138 1393.7 2136.6 1400M2207 1310.6C2208.4 1309.6 2205.6 1304 2215.3 1304.4C2224.9 1304.7 2256 1309.9 2264.9 1312.7C2273.9 1315.4 2265.6 1320.2 2269.1 1320.9C2272.5 1321.6 2282.9 1317.5 2285.6 1316.8" fill="none" stroke="#000" stroke-width="3.7" stroke-linecap="round" stroke-linejoin="round"/>
<ellipse cx="2276.5" cy="1305.2" rx="7.5" ry="11.6" transform="rotate(-20 2276.5 1305.2)" fill="none" stroke="#000" stroke-width="3.7"/>
<ellipse cx="2275.3" cy="1305.2" rx="3.7" ry="6.2" transform="rotate(-20 2275.3 1305.2)" fill="none" stroke="#000" stroke-width="3.7"/>
<path d="M2207 1310.6C2205.6 1316.5 2200.8 1333.7 2198.7 1345.8C2196.6 1357.8 2193.2 1374 2194.6 1383C2195.9 1392.1 2204.9 1397.2 2207 1400M2213.2 1316.8C2211.8 1322.3 2206.6 1338.9 2204.9 1349.9C2203.2 1361 2203.2 1377.5 2202.8 1383M2289.8 1320.9C2293.9 1318.9 2304.9 1312.7 2314.6 1308.5C2324.3 1304.4 2342.2 1298.2 2347.7 1296.1M2314.6 1312.7C2313.9 1317.5 2309.1 1333.4 2310.5 1341.6C2311.8 1349.9 2320.8 1358.9 2322.9 1362.3M2223.5 1378.9L2231.8 1374.8L2231.8 1391.3M2264.9 1400L2414 1320.9M2289.8 1400L2438.8 1316.8M2397.4 1345.8L2438.8 1325.1M2389.1 1292C2391.9 1293.3 2401.5 1295.4 2405.7 1300.2C2409.8 1305.1 2414 1313.3 2414 1320.9C2414 1328.5 2405.7 1336.1 2405.7 1345.8C2405.7 1355.4 2411.2 1369.9 2414 1378.9C2416.7 1387.9 2420.9 1396.5 2422.2 1400M2422.2 1354.1C2425 1352.7 2434 1351.3 2438.8 1345.8C2443.6 1340.3 2449.1 1325.1 2451.2 1320.9M2455.4 1378.9L2463.6 1370.6M2521.6 1378.9L2579.5 1345.8M2612.7 1400L2700 1345.8M2662.3 1400L2700 1378.9M2645.8 1362.3C2648.5 1359.6 2653.3 1339.5 2662.3 1345.8C2671.4 1352.1 2693.7 1391 2700 1400" fill="none" stroke="#000" stroke-width="3.7" stroke-linecap="round" stroke-linejoin="round"/>
<ellipse cx="2623" cy="1320.9" rx="5" ry="8.3" transform="rotate(-20 2623 1320.9)" fill="none" stroke="#000" stroke-width="3.7"/>

<!-- 51_rh_B.svg -->
<path d="M2553.8 824.8C2572.4 831 2633.2 846.2 2665.6 862.1C2698 878 2727.7 901.4 2748.4 920C2769.1 938.7 2780.1 961.4 2789.8 973.9C2799.4 986.3 2803.6 991.1 2806.3 994.6M2847.7 1031.8C2854.6 1047 2878.1 1093.9 2889.1 1122.9C2900.2 1151.9 2907.7 1182.9 2914 1205.7C2920.2 1228.4 2924.3 1250.5 2926.4 1259.5M2914 1313.3C2911.2 1319.5 2905.7 1339.5 2897.4 1350.6C2889.1 1361.6 2878.1 1371.6 2864.3 1379.5C2850.5 1387.5 2822.9 1395.1 2814.6 1398.2M2541.4 833.1C2560.7 839.7 2624.2 856.6 2657.3 872.4C2690.4 888.3 2718.7 908.7 2740.1 928.3C2761.5 948 2778 980.1 2785.6 990.4M2831.2 1044.2C2838.1 1058 2861.5 1099.4 2872.6 1127C2883.6 1154.6 2892.2 1187.7 2897.4 1209.8C2902.6 1231.9 2902.6 1251.2 2903.6 1259.5M2889.1 1313.3C2886.4 1319.5 2880.2 1340.2 2872.6 1350.6C2865 1360.9 2855.3 1367.8 2843.6 1375.4C2831.9 1383 2809.1 1392.7 2802.2 1396.1M2524.8 849.7C2544.8 856.6 2611.1 875.2 2644.9 891.1C2678.7 906.9 2704.9 925.6 2727.7 944.9C2750.4 964.2 2764.9 982.8 2781.5 1007C2798.1 1031.1 2814.6 1062.2 2827 1089.8C2839.4 1117.4 2849.1 1145 2856 1172.6C2862.9 1200.2 2867 1231.2 2868.4 1255.4C2869.8 1279.5 2867.7 1300.2 2864.3 1317.4C2860.8 1334.7 2854.6 1347.8 2847.7 1358.8C2840.8 1369.9 2827 1379.5 2822.9 1383.7M2500 870.4C2520.7 878.7 2589.7 903.5 2624.2 920C2658.7 936.6 2683.5 951.1 2707 969.7C2730.4 988.4 2748.4 1009 2764.9 1031.8C2781.5 1054.6 2795.3 1080.1 2806.3 1106.3C2817.4 1132.5 2825 1164.3 2831.2 1189.1C2837.4 1214 2842.2 1234 2843.6 1255.4C2845 1276.7 2842.2 1300.2 2839.4 1317.4C2836.7 1334.7 2829.1 1351.9 2827 1358.8M2615.9 932.5C2629 940.7 2672.5 962.8 2694.6 982.1C2716.6 1001.5 2732.5 1023.5 2748.4 1048.4C2764.2 1073.2 2780.1 1103.6 2789.8 1131.2C2799.4 1158.8 2803.2 1193.3 2806.3 1214C2809.4 1234.7 2808.1 1248.5 2808.4 1255.4M2783.6 1004.9L2831.2 986.3L2843.6 994.6L2849.8 1011.1L2845.7 1031.8L2818.7 1048.4L2808.4 1040.1ZM2783.6 1004.9L2820.8 998.7L2825 1019.4L2816.7 1044.2" fill="none" stroke="#000" stroke-width="3.7" stroke-linecap="round" stroke-linejoin="round"/>
<ellipse cx="2809.6" cy="1014.4" rx="4.1" ry="5.8" fill="none" stroke="#000" stroke-width="3.7"/>
<path d="M2882.9 1267.8L2897.4 1259.5L2926.4 1263.6L2942.1 1282.3L2942.1 1296.8L2914 1313.3L2880.8 1307.1ZM2882.9 1267.8L2911.9 1292.6L2914 1313.3" fill="none" stroke="#000" stroke-width="3.7" stroke-linecap="round" stroke-linejoin="round"/>
<ellipse cx="2902.4" cy="1300.1" rx="4.1" ry="5.8" fill="none" stroke="#000" stroke-width="3.7"/>
<path d="M2657.3 843.5L2740.1 800M2589 884.9L2618 870.4M2547.6 909.7L2570.4 897.3M2500 936.6L2529 920M2500 1031.8L2609.7 932.5L2622.1 936.6L2620 949L2512.4 1048.4ZM2500 1042.2L2615.9 938.7M2640.7 1075.3L2721.5 1023.5L2726.8 1031.8L2719.4 1048.4L2647 1089.8ZM2644.9 1085.6L2723.5 1031.8M2694.6 1106.3L2758.7 1064.9L2764.9 1071.1L2756.7 1089.8L2711.1 1118.7L2698.7 1118.7ZM2698.7 1114.6L2760.8 1071.1M2580.7 1048.4C2585.2 1042.2 2601.4 1016.6 2607.6 1011.1C2613.8 1005.6 2611.8 1006.3 2618 1015.3C2624.2 1024.2 2640.4 1056.7 2644.9 1064.9M2609.7 1089.8C2610.7 1086.3 2615.6 1084.3 2620 1085.6C2624.5 1087 2627.6 1094.6 2636.6 1098.1C2645.6 1101.5 2662.1 1100.8 2673.9 1106.3C2685.6 1111.8 2694.6 1120.1 2707 1131.2C2719.4 1142.2 2736 1158.8 2748.4 1172.6C2760.8 1186.4 2773.2 1205 2781.5 1214C2789.8 1222.9 2794.9 1222.2 2798.1 1226.4C2801.2 1230.5 2802.2 1235.7 2800.1 1238.8C2798.1 1241.9 2794.3 1242.2 2785.6 1245C2777 1247.8 2762.9 1251.6 2748.4 1255.4C2733.9 1259.1 2711.8 1265 2698.7 1267.8C2685.6 1270.5 2675.2 1269.5 2669.7 1271.9C2664.2 1274.3 2668.3 1279.8 2665.6 1282.3C2662.8 1284.7 2657.6 1287.4 2653.2 1286.4C2648.7 1285.4 2641.4 1280.5 2638.7 1276.1C2635.9 1271.6 2639.7 1267.1 2636.6 1259.5C2633.5 1251.9 2624.5 1242.9 2620 1230.5C2615.6 1218.1 2612.5 1201.5 2609.7 1185C2606.9 1168.4 2602.8 1144.3 2603.5 1131.2C2604.2 1118.1 2612.8 1113.2 2613.8 1106.3C2614.9 1099.4 2608.7 1093.2 2609.7 1089.8ZM2620 1114.6C2623.8 1109.4 2627.6 1108.1 2636.6 1108.4C2645.6 1108.7 2662.1 1110.8 2673.9 1116.7C2685.6 1122.5 2695.3 1132.9 2707 1143.6C2718.7 1154.3 2733.2 1168.4 2744.2 1180.8C2755.3 1193.3 2767 1209.1 2773.2 1218.1C2779.4 1227.1 2785.6 1229.8 2781.5 1234.7C2777.4 1239.5 2762.2 1242.9 2748.4 1247.1C2734.6 1251.2 2713.2 1256.7 2698.7 1259.5C2684.2 1262.3 2671.1 1265 2661.4 1263.6C2651.8 1262.3 2646.6 1258.1 2640.7 1251.2C2634.9 1244.3 2630.1 1233.3 2626.3 1222.2C2622.5 1211.2 2620 1198.8 2618 1185C2615.9 1171.2 2613.5 1151.2 2613.8 1139.4C2614.2 1127.7 2616.3 1119.8 2620 1114.6Z" fill="none" stroke="#000" stroke-width="3.7" stroke-linecap="round" stroke-linejoin="round"/>
<ellipse cx="2622.9" cy="1096" rx="7.5" ry="7.5" fill="none" stroke="#000" stroke-width="3.7"/>
<ellipse cx="2622.9" cy="1096" rx="3.7" ry="3.7" fill="none" stroke="#000" stroke-width="3.7"/>
<ellipse cx="2785.6" cy="1230.5" rx="7.5" ry="7.5" fill="none" stroke="#000" stroke-width="3.7"/>
<ellipse cx="2785.6" cy="1230.5" rx="3.7" ry="3.7" fill="none" stroke="#000" stroke-width="3.7"/>
<ellipse cx="2654" cy="1271.9" rx="7.5" ry="7.5" fill="none" stroke="#000" stroke-width="3.7"/>
<ellipse cx="2654" cy="1271.9" rx="3.7" ry="3.7" fill="none" stroke="#000" stroke-width="3.7"/>
<ellipse cx="2647" cy="1151" rx="6.6" ry="8.3" fill="none" stroke="#000" stroke-width="3.7"/>
<path d="M2618 1139.4C2619.7 1142.2 2624.5 1151.2 2628.3 1156C2632.1 1160.8 2635.9 1165.3 2640.7 1168.4C2645.6 1171.5 2653.2 1169.8 2657.3 1174.6C2661.4 1179.5 2664.2 1189.5 2665.6 1197.4C2667 1205.3 2663.9 1214.3 2665.6 1222.2C2667.3 1230.2 2674.6 1239.5 2675.9 1245C2677.3 1250.5 2677 1252.6 2673.9 1255.4C2670.8 1258.1 2660.1 1260.5 2657.3 1261.6M2657.3 1174.6L2624.2 1191.2M2665.6 1222.2L2725.6 1191.2L2723.5 1214M2725.6 1191.2L2736 1172.6M2725.6 1209.8C2728 1213.3 2739.1 1223.6 2740.1 1230.5C2741.1 1237.4 2733.2 1247.8 2731.8 1251.2M2678 1238.8L2723.5 1211.9M2624.2 1214L2661.4 1193.3M2785.6 1245L2818.7 1238.8L2831.2 1249.1L2827 1255.4L2789.8 1249.1ZM2806.3 1257.4L2818.7 1263.6L2818.7 1274L2769.1 1276.1L2748.4 1263.6ZM2798.1 1238.8L2845.7 1218.1M2665.6 1305L2719.4 1276.1M2694.6 1350.6L2764.9 1307.1M2744.2 1263.6C2747.7 1269.2 2757.3 1287.1 2764.9 1296.8C2772.5 1306.4 2783.6 1312.6 2789.8 1321.6C2796 1330.6 2799.8 1339.5 2802.2 1350.6C2804.6 1361.6 2803.9 1381.6 2804.3 1387.8M2747.7 1261.4C2751.2 1266.9 2760.6 1284.6 2768.2 1294.2C2775.8 1303.8 2786.8 1310 2793.2 1319.2C2799.5 1328.5 2803.7 1338.3 2806.2 1349.7C2808.8 1361.1 2808 1381.3 2808.4 1387.6M2764.9 1276.1C2769.1 1281.6 2782.5 1298.8 2789.8 1309.2C2797 1319.5 2804.9 1326.4 2808.4 1338.1C2811.8 1349.9 2810.1 1372.6 2810.5 1379.5M2715.3 1420.9L2789.8 1385.8L2835.3 1379.5M2764.9 1396.1L2814.6 1398.2L2816.7 1412.7L2789.8 1429.2M2748.4 1404.4L2781.5 1396.1L2789.8 1420.9L2773.2 1445.8" fill="none" stroke="#000" stroke-width="3.7" stroke-linecap="round" stroke-linejoin="round"/>
<ellipse cx="2761.6" cy="1416.8" rx="5" ry="8.3" transform="rotate(20 2761.6 1416.8)" fill="none" stroke="#000" stroke-width="3.7"/>
<path d="M2500 1122.9C2505.5 1124.3 2523.5 1122.9 2533.1 1131.2C2542.8 1139.4 2551.1 1158.8 2558 1172.6C2564.9 1186.4 2566.2 1201.5 2574.5 1214C2582.8 1226.4 2599.4 1238.1 2607.6 1247.1C2615.9 1256 2618.7 1260.9 2624.2 1267.8C2629.7 1274.7 2633.8 1278.1 2640.7 1288.5C2647.6 1298.8 2657.3 1316.1 2665.6 1329.9C2673.9 1343.7 2683.5 1359.5 2690.4 1371.3C2697.3 1383 2703.9 1392 2707 1400.2C2710.1 1408.5 2708.7 1417.5 2709 1420.9M2500 1131.2C2504.1 1132.7 2516.6 1132 2524.8 1140.3C2533.1 1148.6 2542.8 1167.9 2549.7 1180.8C2556.6 1193.8 2558 1206 2566.2 1218.1C2574.5 1230.2 2590.7 1243.6 2599.4 1253.3C2608 1262.9 2611.8 1268.1 2618 1276.1C2624.2 1284 2629.7 1290.5 2636.6 1300.9C2643.5 1311.2 2651.8 1325.7 2659.4 1338.1C2667 1350.6 2675.6 1364.4 2682.1 1375.4C2688.7 1386.4 2695.9 1399.6 2698.7 1404.4" fill="none" stroke="#000" stroke-width="3.7" stroke-linecap="round" stroke-linejoin="round"/>
<ellipse cx="2558" cy="1226.4" rx="5.8" ry="9.1" transform="rotate(-20 2558 1226.4)" fill="none" stroke="#000" stroke-width="3.7"/>
<ellipse cx="2624.2" cy="1317.4" rx="5" ry="8.3" transform="rotate(-20 2624.2 1317.4)" fill="none" stroke="#000" stroke-width="3.7"/>
<ellipse cx="2669.7" cy="1352.6" rx="3.3" ry="12.4" transform="rotate(-30 2669.7 1352.6)" fill="none" stroke="#000" stroke-width="3.7"/>
<ellipse cx="2611.8" cy="1400.2" rx="9.1" ry="13.2" transform="rotate(-10 2611.8 1400.2)" fill="none" stroke="#000" stroke-width="3.7"/>
<ellipse cx="2611.8" cy="1400.2" rx="5" ry="7.5" transform="rotate(-10 2611.8 1400.2)" fill="none" stroke="#000" stroke-width="3.7"/>
<ellipse cx="2609.7" cy="1424.2" rx="5.8" ry="8.3" fill="none" stroke="#000" stroke-width="3.7"/>
<ellipse cx="2589" cy="1329.9" rx="16.6" ry="25.7" transform="rotate(-15 2589 1329.9)" fill="none" stroke="#000" stroke-width="3.7"/>
<ellipse cx="2593.1" cy="1331.9" rx="10.3" ry="18.6" transform="rotate(-15 2593.1 1331.9)" fill="none" stroke="#000" stroke-width="3.7"/>
<ellipse cx="2669.7" cy="1396.1" rx="25.7" ry="36.4" transform="rotate(-20 2669.7 1396.1)" fill="none" stroke="#000" stroke-width="3.5"/>
<ellipse cx="2667.7" cy="1396.1" rx="31" ry="41.4" transform="rotate(-20 2667.7 1396.1)" fill="none" stroke="#000" stroke-width="3.7"/>
<path d="M2611.8 1267.8C2610.4 1279.5 2606.9 1314 2603.5 1338.1C2600 1362.3 2595.2 1392 2591.1 1412.7C2586.9 1433.4 2583.5 1447.8 2578.7 1462.3C2573.8 1476.9 2564.9 1493.7 2562.1 1500M2616.7 1268.4C2615.3 1280.1 2611.9 1314.6 2608.4 1338.8C2604.9 1363.1 2600.1 1392.8 2595.9 1413.6C2591.8 1434.5 2588.3 1449.2 2583.4 1463.9C2578.5 1478.6 2569.4 1495.7 2566.6 1502M2620 1334C2622.8 1332.6 2631.1 1325 2636.6 1325.7C2642.1 1326.4 2649.7 1333.3 2653.2 1338.1C2656.6 1343 2656.6 1351.9 2657.3 1354.7M2615.9 1346.4L2628.3 1358.8M2611.8 1367.1L2624.2 1379.5M2520.7 1379.5L2566.2 1371.3L2570.4 1429.2L2603.5 1445.8L2657.3 1429.2M2578.7 1420.9L2607.6 1400.2M2599.4 1439.6L2644.9 1425.1L2657.3 1433.4L2611.8 1454.1M2624.2 1445.8L2636.6 1433.4L2644.9 1437.5M2678 1445.8C2679 1443.7 2680.8 1436.1 2684.2 1433.4C2687.7 1430.6 2694.9 1427.1 2698.7 1429.2C2702.5 1431.3 2707.7 1439.6 2707 1445.8C2706.3 1452 2696.6 1463 2694.6 1466.5" fill="none" stroke="#000" stroke-width="3.7" stroke-linecap="round" stroke-linejoin="round"/>
<ellipse cx="2638.7" cy="1462.3" rx="5.8" ry="8.3" fill="none" stroke="#000" stroke-width="3.7"/>
<circle cx="2638.7" cy="1462.3" r="3.3" fill="#000"/>
<path d="M2638.7 1466.5L2698.7 1500M2731.8 1420.9C2734.6 1425.1 2742.9 1432.6 2748.4 1445.8C2753.9 1459 2762.2 1491 2764.9 1500M2715.3 1429.2C2718 1434.7 2729.4 1450.5 2731.8 1462.3C2734.2 1474.1 2730.1 1493.7 2729.7 1500M2500 1445.8L2520.7 1443.7M2524.8 1458.2L2553.8 1474.8M2500 1238.8L2541.4 1214M2562.1 1214L2599.4 1191.2M2500 1263.6L2524.8 1251.2M2520.7 1445.8C2521.4 1451.3 2522.8 1469.9 2524.8 1478.9C2526.9 1487.9 2531.7 1496.5 2533.1 1500" fill="none" stroke="#000" stroke-width="3.7" stroke-linecap="round" stroke-linejoin="round"/>
<ellipse cx="2566.2" cy="1495.5" rx="5.8" ry="5" fill="none" stroke="#000" stroke-width="3.7"/>
<path d="M2562.1 1487.2L2582.8 1478.9L2591.1 1470.6" fill="none" stroke="#000" stroke-width="3.7" stroke-linecap="round" stroke-linejoin="round"/>

<!-- 52_rh_C.svg -->
<path d="M2081 1300C2081.4 1309 2080 1339.3 2083.1 1353.8C2086.2 1368.3 2091.4 1376.9 2099.7 1386.9C2108 1396.9 2123.8 1407.6 2132.8 1413.8C2141.8 1420 2144.5 1421.8 2153.5 1424.2C2162.5 1426.6 2180.1 1426.3 2186.6 1428.3C2193.2 1430.4 2188.7 1433.8 2192.8 1436.6C2197 1439.4 2204.9 1438.7 2211.4 1444.9C2218 1451.1 2223.2 1462.1 2232.1 1473.9C2241.1 1485.6 2254.2 1502.1 2265.3 1515.3C2276.3 1528.4 2290.1 1544.6 2298.4 1552.5C2306.7 1560.4 2310.8 1562.2 2314.9 1562.9C2319.1 1563.6 2314.9 1554.9 2323.2 1556.7C2331.5 1558.4 2351.5 1567 2364.6 1573.2C2377.7 1579.4 2393.2 1588 2401.9 1593.9C2410.5 1599.8 2412.9 1603.9 2416.4 1608.4C2419.8 1612.9 2419.1 1618.7 2422.6 1620.8C2426 1622.9 2432.9 1621.9 2437.1 1620.8C2441.2 1619.8 2438.8 1612.9 2447.4 1614.6C2456 1616.3 2476.4 1625.6 2488.8 1631.2C2501.2 1636.7 2512.3 1642.2 2521.9 1647.7C2531.6 1653.2 2537.4 1657.4 2546.8 1664.3C2556.1 1671.2 2572.6 1685 2577.8 1689.1M2089.3 1300C2089.7 1308.3 2088.3 1335.9 2091.4 1349.7C2094.5 1363.5 2100 1373 2108 1382.8C2115.9 1392.6 2130 1402.6 2139 1408.5C2148 1414.3 2153.5 1416 2161.8 1418C2170 1419.9 2182.1 1419.7 2188.7 1420C2195.2 1420.4 2196.6 1417.3 2201.1 1420C2205.6 1422.8 2209 1428.3 2215.6 1436.6C2222.1 1444.9 2230.8 1457.6 2240.4 1469.7C2250.1 1481.8 2263.2 1497.3 2273.5 1509C2283.9 1520.8 2294.9 1533.2 2302.5 1540.1C2310.1 1547 2314.2 1549.1 2319.1 1550.4C2323.9 1551.8 2323.2 1546 2331.5 1548.4C2339.8 1550.8 2356.3 1558.7 2368.7 1564.9C2381.2 1571.1 2397 1580.5 2406 1585.6C2415 1590.8 2417 1592.2 2422.6 1596C2428.1 1599.8 2428.1 1603.9 2439.1 1608.4C2450.2 1612.9 2474.3 1618.1 2488.8 1622.9C2503.3 1627.7 2519.8 1635 2526.1 1637.4" fill="none" stroke="#000" stroke-width="3.7" stroke-linecap="round" stroke-linejoin="round"/>
<ellipse cx="2093.5" cy="1305" rx="5" ry="7.5" fill="none" stroke="#000" stroke-width="3.7"/>
<ellipse cx="2199.9" cy="1429.2" rx="5.4" ry="8.3" transform="rotate(-20 2199.9 1429.2)" fill="none" stroke="#000" stroke-width="3.7"/>
<ellipse cx="2305.8" cy="1547.5" rx="5.4" ry="8.3" transform="rotate(-20 2305.8 1547.5)" fill="none" stroke="#000" stroke-width="3.7"/>
<ellipse cx="2425.9" cy="1605.5" rx="5.4" ry="8.3" transform="rotate(-20 2425.9 1605.5)" fill="none" stroke="#000" stroke-width="3.7"/>
<ellipse cx="2543.9" cy="1641.5" rx="7.5" ry="10.8" transform="rotate(-20 2543.9 1641.5)" fill="none" stroke="#000" stroke-width="3.7"/>
<ellipse cx="2543.9" cy="1641.5" rx="3.7" ry="5.8" transform="rotate(-20 2543.9 1641.5)" fill="none" stroke="#000" stroke-width="3.7"/>
<path d="M2093.5 1358C2094.5 1351.1 2098 1344.8 2103.8 1345.5C2109.7 1346.2 2122.4 1355.2 2128.7 1362.1C2134.9 1369 2140.4 1378.7 2141.1 1386.9C2141.8 1395.2 2137.6 1408.3 2132.8 1411.8C2128 1415.2 2118 1411.8 2112.1 1407.6C2106.2 1403.5 2100.7 1395.2 2097.6 1386.9C2094.5 1378.7 2092.4 1364.9 2093.5 1358ZM2091.4 1322.8C2092.4 1319.7 2098.6 1315.5 2103.8 1316.6C2109 1317.6 2120.4 1325.5 2122.4 1329C2124.5 1332.4 2120.4 1336.2 2116.2 1337.3C2112.1 1338.3 2101.7 1337.6 2097.6 1335.2C2093.5 1332.8 2090.4 1325.9 2091.4 1322.8ZM2147.3 1378.7C2147.6 1374.2 2149.7 1372.4 2153.5 1376.6C2157.3 1380.7 2168.7 1396.9 2170 1403.5C2171.4 1410 2164.9 1415.9 2161.8 1415.9C2158.7 1415.9 2153.8 1409.7 2151.4 1403.5C2149 1397.3 2146.9 1383.1 2147.3 1378.7ZM2134.9 1411.8L2147.3 1411.8L2151.4 1422.1L2136.9 1420ZM2579 1436.6L2579 1689.1L2750 1598.1M2559.2 1478C2558.1 1484.2 2554 1496.6 2553 1515.3C2551.9 1533.9 2551.2 1574.6 2553 1589.8C2554.7 1604.9 2561.6 1603.6 2563.3 1606.3M2567.4 1473.9C2570.2 1483.5 2580.6 1512.5 2584 1531.8C2587.5 1551.1 2587.5 1574.6 2588.1 1589.8C2588.8 1604.9 2585.4 1615 2588.1 1622.9C2590.9 1630.8 2597.8 1636.7 2604.7 1637.4C2611.6 1638.1 2625.4 1628.8 2629.5 1627M2561.2 1608.4C2563.3 1601.5 2567.8 1599.8 2569.5 1602.2C2571.2 1604.6 2572.3 1612.5 2571.6 1622.9C2570.9 1633.2 2567.4 1656.7 2565.4 1664.3C2563.3 1671.9 2560.5 1671.9 2559.2 1668.4C2557.8 1665 2556.8 1653.6 2557.1 1643.6C2557.4 1633.6 2559.2 1615.3 2561.2 1608.4Z" fill="none" stroke="#000" stroke-width="3.7" stroke-linecap="round" stroke-linejoin="round"/>
<ellipse cx="2573.7" cy="1500.8" rx="7.5" ry="11.6" fill="none" stroke="#000" stroke-width="3.7"/>
<ellipse cx="2573.7" cy="1500.8" rx="3.7" ry="6.2" fill="none" stroke="#000" stroke-width="3.7"/>
<ellipse cx="2613" cy="1618.7" rx="6.6" ry="9.9" transform="rotate(-20 2613 1618.7)" fill="none" stroke="#000" stroke-width="3.7"/>
<ellipse cx="2738.4" cy="1571.1" rx="5.8" ry="9.9" transform="rotate(-20 2738.4 1571.1)" fill="none" stroke="#000" stroke-width="3.7"/>
<ellipse cx="2637" cy="1463.5" rx="6.6" ry="9.1" fill="none" stroke="#000" stroke-width="3.7"/>
<circle cx="2637" cy="1463.5" r="3.7" fill="#000"/>
<path d="M2750 1424.2C2746.5 1423.5 2742.1 1417.3 2728.9 1420C2715.7 1422.8 2687.5 1430.4 2670.9 1440.7C2654.4 1451.1 2639.9 1467 2629.5 1482.1C2619.2 1497.3 2613 1515.3 2608.8 1531.8C2604.7 1548.4 2603.3 1568.4 2604.7 1581.5C2606.1 1594.6 2609.5 1603.6 2617.1 1610.5C2624.7 1617.4 2637.1 1622.2 2650.2 1622.9C2663.3 1623.6 2679.1 1620.8 2695.8 1614.6C2712.4 1608.4 2741 1590.5 2750 1585.6" fill="none" stroke="#000" stroke-width="3.5" stroke-linecap="round" stroke-linejoin="round"/>
<path d="M2728.9 1432.5C2720.6 1435.2 2694.4 1439.4 2679.2 1449C2664 1458.7 2647.8 1475.9 2637.8 1490.4C2627.8 1504.9 2623 1520.8 2619.2 1536C2615.4 1551.1 2613.3 1570.5 2615.1 1581.5C2616.8 1592.5 2621.6 1598.4 2629.5 1602.2C2637.5 1606 2648.9 1606.3 2662.7 1604.3C2676.5 1602.2 2697.8 1596.3 2712.3 1589.8C2726.9 1583.2 2743.7 1569.1 2750 1564.9M2712.3 1442.8C2703.4 1448 2672.3 1461.8 2658.5 1473.9C2644.7 1485.9 2636.4 1501.5 2629.5 1515.3C2622.6 1529.1 2619.2 1549.8 2617.1 1556.7M2617.1 1560.8L2695.8 1515.3M2621.3 1548.4L2629.5 1552.5M2252.8 1405.6C2252.8 1414.2 2254.6 1447.6 2252.8 1457.3C2251.1 1467 2243.9 1460.1 2242.5 1463.5C2241.1 1467 2239.4 1470.8 2244.6 1478C2249.7 1485.2 2266.3 1500.8 2273.5 1507C2280.8 1513.2 2285.6 1513.9 2288 1515.3M2259 1424.2C2257.3 1431.1 2245.9 1452.5 2248.7 1465.6C2251.5 1478.7 2271.1 1496.6 2275.6 1502.8M2252.8 1405.6L2290.1 1422.1L2294.2 1453.2L2331.5 1507M2290.1 1422.1L2406 1353.8M2252.8 1405.6L2381.2 1333.1" fill="none" stroke="#000" stroke-width="3.7" stroke-linecap="round" stroke-linejoin="round"/>
<path d="M2261.1 1461.4L2401.9 1382.8M2401.9 1519.4L2521.9 1451.1" fill="none" stroke="#000" stroke-width="4.5" stroke-linecap="round" stroke-linejoin="round"/>
<path d="M2265.3 1473.9L2298.4 1455.2M2273.5 1490.4L2306.7 1471.8M2319.1 1515.3L2319.1 1531.8L2327.4 1531.8L2364.6 1515.3L2377 1502.8L2401.9 1490.4L2422.6 1494.6L2424.6 1502.8L2414.3 1498.7L2397.7 1504.9L2377 1515.3L2335.6 1527.7L2333.6 1511.1ZM2335.6 1494.6L2439.1 1432.5M2323.2 1498.7L2339.8 1488.4M2399.8 1523.5L2422.6 1589.8L2435 1581.5M2403.9 1525.6L2416.4 1585.6M2422.6 1589.8L2559.2 1513.2M2281.8 1525.6L2480.5 1405.6M2401.9 1349.7L2439.1 1432.5L2521.9 1444.9L2526.1 1473.9L2542.6 1519.4L2553 1527.7M2406 1382.8C2408.8 1387.6 2417 1403.5 2422.6 1411.8C2428.1 1420 2436.4 1429 2439.1 1432.5M2186.6 1409.7L2223.9 1389M2194.9 1382.8C2195.6 1375.9 2196.3 1352.4 2199 1341.4C2201.8 1330.4 2207.3 1321.7 2211.4 1316.6C2215.6 1311.4 2216.3 1311.7 2223.9 1310.3C2231.5 1309 2250.1 1306.6 2257 1308.3C2263.9 1310 2261.1 1318.3 2265.3 1320.7C2269.4 1323.1 2277.7 1324.8 2281.8 1322.8C2286 1320.7 2288.7 1310.7 2290.1 1308.3M2201.1 1380.7C2201.8 1374.2 2202.8 1351.4 2205.2 1341.4C2207.6 1331.4 2213.9 1324.1 2215.6 1320.7M2194.9 1382.8C2199 1383.8 2215.2 1390.4 2219.7 1389C2224.2 1387.6 2219.7 1377.1 2221.8 1374.5C2223.9 1372 2230.4 1371.3 2232.1 1373.7C2233.9 1376.1 2232.1 1386.4 2232.1 1389" fill="none" stroke="#000" stroke-width="3.7" stroke-linecap="round" stroke-linejoin="round"/>
<ellipse cx="2276.8" cy="1305" rx="5.8" ry="8.3" fill="none" stroke="#000" stroke-width="3.7"/>
<ellipse cx="2147.3" cy="1306.2" rx="5" ry="8.3" fill="none" stroke="#000" stroke-width="3.7"/>
<path d="M2161.8 1318.6L2199 1300M2314.9 1300C2314.9 1304.1 2314.2 1315.9 2314.9 1324.8C2315.6 1333.8 2317.7 1346.9 2319.1 1353.8C2320.5 1360.7 2322.5 1364.2 2323.2 1366.2M2319.1 1353.8L2381.2 1324.8M2323.2 1312.4L2364.6 1329M2339.8 1300L2368.7 1312.4M2420.5 1349.7L2588.1 1447L2637.8 1463.5M2435 1353.8C2439.8 1355.2 2456.4 1353.8 2464 1362.1C2471.5 1370.4 2477.8 1396.6 2480.5 1403.5M2447.4 1376.6L2459.8 1389M2464 1403.5L2492.9 1432.5L2521.9 1444.9M2530.2 1461.4L2555 1473.9M2521.9 1378.7L2571.6 1370.4L2579.9 1436.6M2563.3 1374.5C2565.4 1378.7 2574 1389 2575.7 1399.4C2577.5 1409.7 2574 1430.4 2573.7 1436.6M2588.1 1447C2584 1452.8 2568.5 1470.8 2563.3 1482.1C2558.1 1493.5 2558.1 1509.7 2557.1 1515.3M2592.3 1465.6C2594.4 1464.9 2598.5 1461.4 2604.7 1461.4C2610.9 1461.4 2628.9 1459.4 2629.5 1465.6C2630.2 1471.8 2615.1 1484.9 2608.8 1498.7C2602.6 1512.5 2595.7 1533.2 2592.3 1548.4C2588.8 1563.6 2588.8 1582.9 2588.1 1589.8" fill="none" stroke="#000" stroke-width="3.7" stroke-linecap="round" stroke-linejoin="round"/>

<!-- 53_rh_left.svg -->
<path d="M1946.4 958.1C1946.8 955.5 1948 952.1 1950 949.8C1952 947.4 1955.2 943.2 1958.3 943.8C1961.5 944.4 1966.9 948.6 1969 953.3C1971.2 958.1 1971.8 968 1971.4 972.4C1971 976.7 1969.2 979.1 1966.7 979.5C1964.1 979.9 1959.1 977.1 1956 974.8C1952.8 972.4 1949.2 968 1947.6 965.2C1946 962.5 1946 960.7 1946.4 958.1Z" fill="none" stroke="#000" stroke-width="3.7" stroke-linecap="round" stroke-linejoin="round"/>
<ellipse cx="1960.7" cy="964" rx="6.7" ry="10" transform="rotate(-25 1960.7 964)" fill="none" stroke="#000" stroke-width="3.7"/>
<ellipse cx="1960.7" cy="964" rx="3.3" ry="5.7" transform="rotate(-25 1960.7 964)" fill="none" stroke="#000" stroke-width="3.7"/>
<path d="M1957.1 943.8L2000 911.7M1962.4 946.7L2000 926M1971.4 979.5C1975.4 984.3 1988.5 996.6 1995.2 1008.1C2002 1019.6 2007.5 1036.3 2011.9 1048.6C2016.3 1060.9 2019.4 1069.2 2021.4 1081.9C2023.4 1094.6 2024 1115.2 2023.8 1124.8C2023.6 1134.3 2019.4 1134.3 2020.2 1139C2021 1143.8 2027.2 1151 2028.6 1153.3M1963.1 947.4C1965.7 951.5 1971.6 961.9 1978.6 972.4C1985.5 982.9 1997.6 997.8 2004.8 1010.5C2011.9 1023.2 2017.3 1036.7 2021.4 1048.6C2025.6 1060.5 2027.8 1070.4 2029.8 1081.9C2031.7 1093.4 2031.2 1109.3 2033.3 1117.6C2035.5 1126 2041.3 1129.5 2042.9 1131.9M1988.1 962.9C1990.1 960.5 1994.4 953.7 2000 948.6C2005.6 943.4 2014.3 935.9 2021.4 931.9C2028.6 927.9 2035.3 926.5 2042.9 924.8C2050.4 923 2059.5 920 2066.7 921.2C2073.8 922.4 2079.4 925.8 2085.7 931.9C2092.1 938.1 2099.6 952.1 2104.8 958.1C2109.9 964 2114.7 966 2116.7 967.6M1988.1 962.9C1991.7 969.2 2005.6 993 2009.5 1001C2013.5 1008.9 2012.1 1008.5 2011.9 1010.5C2011.7 1012.5 2008.9 1012.5 2008.3 1012.9M1995.2 958.1L2021.4 948.6M2039.3 954.5C2043.1 960.7 2055.8 982.5 2061.9 991.4C2068.1 1000.4 2069 1005.1 2076.2 1008.1C2083.3 1011.1 2100 1009.1 2104.8 1009.3M2021.4 1042.6L2061.9 1022.4M2040.5 931.9L2052.4 928.3" fill="none" stroke="#000" stroke-width="3.7" stroke-linecap="round" stroke-linejoin="round"/>

<!-- 60_lh_D1.svg -->
<path d="M555.7 1789.3C560.2 1785.5 575.3 1771.2 582.6 1766.6C589.8 1761.9 594.3 1760.9 599.1 1761.6C604 1762.3 608.8 1766.4 611.6 1770.7C614.3 1775 612.6 1779 615.7 1787.3C618.8 1795.5 625.7 1810.7 630.2 1820.4C634.7 1830 634.3 1834.2 642.6 1845.2C650.9 1856.2 672.3 1877.6 679.9 1886.6C687.5 1895.6 688.8 1894.2 688.1 1899C687.5 1903.9 677.1 1904.5 675.7 1915.6C674.3 1926.6 677.8 1950.1 679.9 1965.3C681.9 1980.4 682.6 1992.9 688.1 2006.7C693.7 2020.5 703.3 2037 713 2048.1C722.6 2059.1 732.3 2064.6 746.1 2072.9C759.9 2081.2 782 2090.8 795.8 2097.7C809.6 2104.6 819.9 2110.1 828.9 2114.3C837.9 2118.4 846.5 2121.2 850 2122.6M605.4 1791.4C608.1 1798.3 612.9 1817.6 621.9 1832.8C630.9 1848 651.6 1868.7 659.2 1882.5C666.8 1896.3 666.8 1901.8 667.4 1915.6C668.1 1929.4 662.6 1948.7 663.3 1965.3C664 1981.8 666.1 1999.8 671.6 2014.9C677.1 2030.1 685.4 2044.6 696.4 2056.3C707.5 2068.1 722.6 2077 737.8 2085.3C753 2093.6 775.1 2099.8 787.5 2106C799.9 2112.2 806.8 2118.4 812.3 2122.6C817.9 2126.7 814.3 2129.8 820.6 2130.8C826.9 2131.9 845.1 2129.1 850 2128.8M576.4 1789.3L595 1779M570.2 1803.8L570.2 1814.2M557.7 1812.1C558.8 1813.8 558.8 1821.8 564 1822.4C569.1 1823.1 581.9 1821.4 588.8 1816.2C595.7 1811.1 602.6 1795.5 605.4 1791.4M555.7 1789.3C555.3 1791.7 553.3 1800 553.6 1803.8C554 1807.6 557.1 1810.7 557.7 1812.1M557.7 1812.1L439.8 1878.3L309.4 1975.6L305.2 1983.9L328 2039.8M539.1 1814.2L419.1 1884.5M328 2039.8C325.2 2039.1 318.3 2038.4 311.4 2035.6C304.5 2032.9 294.9 2022.5 286.6 2023.2C278.3 2023.9 270.7 2034.3 261.8 2039.8C252.8 2045.3 241.1 2050.1 232.8 2056.3C224.5 2062.5 216.9 2069.4 212.1 2077C207.3 2084.6 203.8 2092.2 203.8 2101.9C203.8 2111.5 208 2125.3 212.1 2135C216.2 2144.6 222.4 2152.2 228.7 2159.8C234.9 2167.4 240.4 2172.9 249.4 2180.5C258.3 2188.1 271.4 2195.7 282.5 2205.4C293.5 2215 308 2231.6 315.6 2238.5C323.2 2245.4 323.9 2241.2 328 2246.8C332.1 2252.3 337 2264.7 340.4 2271.6C343.9 2278.5 343.2 2281.9 348.7 2288.1C354.2 2294.4 365.3 2301.9 373.5 2308.8C381.8 2315.7 390.1 2322.6 398.4 2329.5C406.7 2336.4 414.9 2343.3 423.2 2350.2C431.5 2357.1 444.6 2363.3 448.1 2370.9C451.5 2378.5 443.2 2387.5 443.9 2395.8C444.6 2404.1 447.4 2411.6 452.2 2420.6C457 2429.7 469.4 2445.1 472.9 2450M253.5 2064.6C249.4 2067.4 234.2 2075 228.7 2081.2C223.1 2087.4 220.7 2093.6 220.4 2101.9C220 2110.1 222.4 2121.9 226.6 2130.8C230.7 2139.8 237.3 2147.4 245.2 2155.7C253.1 2164 262.5 2170.2 274.2 2180.5C285.9 2190.9 303.9 2206.7 315.6 2217.8C327.3 2228.8 337 2237.8 344.6 2246.8C352.1 2255.7 354.9 2263.3 361.1 2271.6C367.3 2279.9 372.8 2287.5 381.8 2296.4C390.8 2305.4 401.1 2314.4 414.9 2325.4C428.7 2336.4 454.3 2350.9 464.6 2362.7C475 2374.4 472.2 2381.2 477 2395.8C481.9 2410.3 490.8 2441 493.6 2450" fill="none" stroke="#000" stroke-width="3.7" stroke-linecap="round" stroke-linejoin="round"/>
<ellipse cx="237.8" cy="2068.7" rx="5.8" ry="8.3" fill="none" stroke="#000" stroke-width="3.7"/>
<ellipse cx="246" cy="2164" rx="5.8" ry="9.1" fill="none" stroke="#000" stroke-width="3.7"/>
<ellipse cx="332.1" cy="2253" rx="6.6" ry="10.8" fill="none" stroke="#000" stroke-width="3.7"/>
<ellipse cx="352.8" cy="2274.9" rx="5" ry="7.5" fill="none" stroke="#000" stroke-width="3.7"/>
<ellipse cx="361.1" cy="2298.5" rx="7.5" ry="9.9" fill="none" stroke="#000" stroke-width="3.7"/>
<ellipse cx="458.4" cy="2381.3" rx="5.8" ry="9.1" fill="none" stroke="#000" stroke-width="3.7"/>
<ellipse cx="462.5" cy="2412.3" rx="10.3" ry="14.5" fill="none" stroke="#000" stroke-width="3.7"/>
<ellipse cx="313.5" cy="2041.8" rx="5" ry="9.1" fill="none" stroke="#000" stroke-width="3.7"/>
<ellipse cx="379.7" cy="1971.5" rx="5.8" ry="9.1" fill="none" stroke="#000" stroke-width="3.7"/>
<ellipse cx="441.8" cy="1892.8" rx="5" ry="8.3" fill="none" stroke="#000" stroke-width="3.7"/>
<ellipse cx="247.3" cy="2110.1" rx="24.8" ry="37.3" transform="rotate(-15 247.3 2110.1)" fill="none" stroke="#000" stroke-width="3.5"/>
<ellipse cx="253.5" cy="2110.1" rx="18.6" ry="31" transform="rotate(-15 253.5 2110.1)" fill="none" stroke="#000" stroke-width="3.7"/>
<ellipse cx="258.5" cy="2111" rx="14.1" ry="25.7" transform="rotate(-15 258.5 2111)" fill="none" stroke="#000" stroke-width="3.7"/>
<ellipse cx="309.4" cy="2130.8" rx="15.7" ry="20.7" transform="rotate(-15 309.4 2130.8)" fill="none" stroke="#000" stroke-width="3.7"/>
<ellipse cx="309.4" cy="2130.8" rx="10.3" ry="14.5" transform="rotate(-15 309.4 2130.8)" fill="none" stroke="#000" stroke-width="3.7"/>
<path d="M547.4 1836.9C547.4 1832.8 557.7 1825.9 564 1824.5C570.2 1823.1 575.7 1824.5 584.7 1828.7C593.6 1832.8 608.8 1842.5 617.8 1849.4C626.7 1856.2 635.7 1863.8 638.5 1870C641.2 1876.3 639.2 1883.8 634.3 1886.6C629.5 1889.4 617.1 1889.4 609.5 1886.6C601.9 1883.8 595.7 1874.9 588.8 1870C581.9 1865.2 572.2 1861.1 568.1 1857.6C564 1854.2 567.4 1852.8 564 1849.4C560.5 1845.9 547.4 1841.1 547.4 1836.9Z" fill="none" stroke="#000" stroke-width="3.7" stroke-linecap="round" stroke-linejoin="round"/>
<ellipse cx="630.2" cy="1849.4" rx="5.8" ry="6.6" fill="none" stroke="#000" stroke-width="3.7"/>
<ellipse cx="630.2" cy="1849.4" rx="2.9" ry="3.3" fill="none" stroke="#000" stroke-width="3.7"/>
<ellipse cx="576.4" cy="1880.4" rx="6.6" ry="6.6" fill="none" stroke="#000" stroke-width="3.7"/>
<ellipse cx="576.4" cy="1880.4" rx="3.3" ry="3.3" fill="none" stroke="#000" stroke-width="3.7"/>
<ellipse cx="528.8" cy="1946.6" rx="6.6" ry="8.3" fill="none" stroke="#000" stroke-width="3.7"/>
<ellipse cx="528.8" cy="1946.6" rx="3.3" ry="4.1" fill="none" stroke="#000" stroke-width="3.7"/>
<ellipse cx="644.7" cy="1934.2" rx="9.1" ry="10.8" fill="none" stroke="#000" stroke-width="3.7"/>
<ellipse cx="646.8" cy="1935.5" rx="5" ry="6.2" fill="none" stroke="#000" stroke-width="3.7"/>
<ellipse cx="653" cy="2031.5" rx="11.6" ry="12.4" fill="none" stroke="#000" stroke-width="3.7"/>
<ellipse cx="653" cy="2031.5" rx="6.6" ry="7.5" fill="none" stroke="#000" stroke-width="3.7"/>
<ellipse cx="613.6" cy="2077" rx="6.6" ry="7.5" fill="none" stroke="#000" stroke-width="3.7"/>
<ellipse cx="613.6" cy="2077" rx="3.3" ry="3.7" fill="none" stroke="#000" stroke-width="3.7"/>
<ellipse cx="762.7" cy="2110.1" rx="14.5" ry="12.4" fill="none" stroke="#000" stroke-width="3.7"/>
<ellipse cx="764.7" cy="2108.1" rx="9.1" ry="7.5" fill="none" stroke="#000" stroke-width="3.7"/>
<path d="M640.5 1905.2L653 1892.8L667.4 1901.1L665.4 1913.5L646.8 1915.6ZM510.1 1932.1C509.5 1920.4 510.1 1897 514.3 1886.6C518.4 1876.3 527.4 1872.1 535 1870C542.6 1868 550.8 1870 559.8 1874.2C568.8 1878.3 581.2 1888.7 588.8 1894.9C596.4 1901.1 599.8 1905.9 605.4 1911.4C610.9 1917 616.4 1919 621.9 1928C627.4 1937 632.3 1953.5 638.5 1965.3C644.7 1977 652.3 1989.4 659.2 1998.4C666.1 2007.3 675.7 2012.9 679.9 2019.1C684 2025.3 687.5 2030.1 684 2035.6C680.6 2041.2 667.4 2048.7 659.2 2052.2C650.9 2055.6 640.5 2058.4 634.3 2056.3C628.1 2054.3 626.7 2046.7 621.9 2039.8C617.1 2032.9 612.3 2023.2 605.4 2014.9C598.5 2006.7 588.8 1997 580.5 1990.1C572.2 1983.2 563.3 1977.7 555.7 1973.5C548.1 1969.4 541.2 1968 535 1965.3C528.8 1962.5 522.6 1962.5 518.4 1957C514.3 1951.5 510.8 1943.9 510.1 1932.1ZM528.8 1890.7C532.9 1883.5 541.5 1881.1 547.4 1880.4C553.3 1879.7 558.4 1882.8 564 1886.6C569.5 1890.4 574.3 1898.3 580.5 1903.2C586.7 1908 597.1 1908.7 601.2 1915.6C605.4 1922.5 602.6 1933.5 605.4 1944.6C608.1 1955.6 613.6 1971.5 617.8 1981.8C621.9 1992.2 628.8 1997 630.2 2006.7C631.6 2016.3 629.5 2037 626.1 2039.8C622.6 2042.5 615.7 2030.1 609.5 2023.2C603.3 2016.3 596.4 2005.3 588.8 1998.4C581.2 1991.5 571.5 1986 564 1981.8C556.4 1977.7 548.8 1977.7 543.3 1973.5C537.7 1969.4 534.3 1965.3 530.8 1957C527.4 1948.7 522.9 1934.9 522.6 1923.9C522.2 1912.8 524.6 1898 528.8 1890.7ZM539.1 1899C542.6 1898.3 555 1892.8 559.8 1894.9C564.6 1897 563.3 1908 568.1 1911.4C572.9 1914.9 584.3 1911.4 588.8 1915.6C593.3 1919.7 596.4 1928 595 1936.3C593.6 1944.6 579.5 1957.7 580.5 1965.3C581.6 1972.8 595.7 1974.9 601.2 1981.8C606.7 1988.7 611.6 2002.5 613.6 2006.7M564 1915.6C565.3 1918.3 568.1 1927.3 572.2 1932.1C576.4 1937 586 1942.5 588.8 1944.6M626.1 1981.8C628.8 1984.6 639.2 1992.9 642.6 1998.4C646.1 2003.9 646.1 2012.2 646.8 2014.9M684 2035.6C684.7 2039.1 680.6 2052.2 688.1 2056.3C695.7 2060.5 721.3 2054.3 729.5 2060.5C737.8 2066.7 735.1 2083.2 737.8 2093.6C740.6 2103.9 740.6 2113.6 746.1 2122.6C751.6 2131.5 762.7 2144 770.9 2147.4C779.2 2150.8 787.5 2147.4 795.8 2143.3C804.1 2139.1 816.5 2126 820.6 2122.6M688.9 2034.7C689.2 2037.5 683.3 2048.3 690.5 2052C697.8 2055.6 723.8 2049.8 732.5 2056.5C741.2 2063.2 739.7 2081.7 742.6 2092.3C745.6 2102.9 745.3 2111.5 750.3 2120C755.4 2128.4 765.6 2139.7 772.8 2142.8C780.1 2146 786.1 2142.8 793.6 2138.8C801 2134.8 813.5 2122.1 817.4 2118.7M584.7 2081.2C586.7 2084.6 583.3 2104.6 597.1 2101.9C610.9 2099.1 652.3 2072.2 667.4 2064.6C682.6 2057 684.7 2057.7 688.1 2056.3M584.7 2081.2L588.8 2097.7L599.1 2087.4M501.9 1874.2C502.6 1881.1 503.9 1900.4 506 1915.6C508.1 1930.8 508.8 1954.2 514.3 1965.3C519.8 1976.3 530.2 1974.9 539.1 1981.8C548.1 1988.7 559.1 1995.6 568.1 2006.7C577.1 2017.7 586.7 2035.6 592.9 2048.1C599.1 2060.5 603.3 2075.6 605.4 2081.2M506.8 1873.7C507.5 1880.6 508.9 1900 510.9 1914.9C512.9 1929.8 513.5 1952.5 518.7 1963C523.9 1973.5 533.3 1971.1 542.1 1977.9C551 1984.6 562.7 1992.2 572 2003.5C581.2 2014.8 591 2033.2 597.4 2045.8C603.7 2058.5 607.9 2073.8 610 2079.4M493.6 1857.6C491.5 1860.4 482.5 1869.4 481.2 1874.2C479.8 1879 481.9 1886.6 485.3 1886.6C488.8 1886.6 499.1 1876.3 501.9 1874.2M456.3 1909.4L599.1 2157.7M464.6 1905.2L605.4 2147.4M454.3 1907.3C456 1914.2 458.1 1933.5 464.6 1948.7C471.2 1963.9 486 1987.3 493.6 1998.4C501.2 2009.4 507.4 2012.2 510.1 2014.9" fill="none" stroke="#000" stroke-width="3.7" stroke-linecap="round" stroke-linejoin="round"/>
<ellipse cx="511" cy="2013.7" rx="5" ry="7.5" fill="none" stroke="#000" stroke-width="3.7"/>
<path d="M510.1 2023.2L597.1 2164M522.6 2019.1L609.5 2159.8" fill="none" stroke="#000" stroke-width="3.7" stroke-linecap="round" stroke-linejoin="round"/>
<ellipse cx="599.1" cy="2151.5" rx="5.8" ry="8.3" fill="none" stroke="#000" stroke-width="3.7"/>
<path d="M617.8 2205.4L646.8 2288.1M580.5 2226.1C581.9 2228.1 582.6 2240.5 588.8 2238.5C595 2236.4 610.5 2210.2 617.8 2213.6C625 2217.1 629.2 2246.1 632.3 2259.2C635.4 2272.3 635.7 2286.8 636.4 2292.3M590.9 2240.5L613.6 2230.2L630.2 2284L588.8 2267.4Z" fill="none" stroke="#000" stroke-width="3.7" stroke-linecap="round" stroke-linejoin="round"/>
<ellipse cx="650.9" cy="2290.2" rx="5" ry="8.3" fill="none" stroke="#000" stroke-width="3.7"/>
<ellipse cx="653" cy="2315.1" rx="5.8" ry="8.3" fill="none" stroke="#000" stroke-width="3.7"/>
<path d="M636.4 2292.3C637.4 2297.1 638.1 2315.1 642.6 2321.3C647.1 2327.5 657.8 2321.3 663.3 2329.5C668.8 2337.8 672.3 2357.1 675.7 2370.9C679.2 2384.7 679.9 2399.2 684 2412.3C688.1 2425.5 697.8 2443.7 700.6 2450M642.1 2291.1C642.9 2295.5 643 2312 647.3 2317.9C651.7 2323.7 662.5 2317.7 668.1 2326.3C673.8 2334.9 677.8 2355.5 681.3 2369.5C684.9 2383.6 685.4 2397.6 689.5 2410.6C693.6 2423.6 703.1 2441.5 705.9 2447.7M646.8 2325.4C644 2327.5 635 2332.3 630.2 2337.8C625.4 2343.3 618.5 2348.9 617.8 2358.5C617.1 2368.2 621.2 2384 626.1 2395.8C630.9 2407.5 639.9 2419.9 646.8 2428.9C653.6 2437.9 664 2446.5 667.4 2450M649.7 2329.4C647.1 2331.3 638.4 2336.2 633.9 2341.1C629.4 2346 623.3 2350.1 622.7 2358.9C622.2 2367.7 626 2382.7 630.6 2393.9C635.3 2405.1 644 2417.1 650.7 2425.9C657.4 2434.7 667.6 2443.1 671 2446.5M514.3 1981.8L547.4 1965.3L559.8 1981.8L530.8 1998.4M530.8 2014.9L555.7 2002.5M305.2 1981.8L398.4 1915.6L414.9 1907.3L439.8 1878.3M315.6 1990.1L328 1983.9L348.7 2027.4L336.3 2035.6Z" fill="none" stroke="#000" stroke-width="3.7" stroke-linecap="round" stroke-linejoin="round"/>
<ellipse cx="428.2" cy="1921.8" rx="16.6" ry="25.7" transform="rotate(-15 428.2 1921.8)" fill="none" stroke="#000" stroke-width="3.7"/>
<ellipse cx="428.2" cy="1921.8" rx="19.9" ry="29.8" transform="rotate(-15 428.2 1921.8)" fill="none" stroke="#000" stroke-width="3.7"/>
<path d="M406.7 1894.9C406 1898.3 401.8 1907.3 402.5 1915.6C403.2 1923.9 406 1937.7 410.8 1944.6C415.6 1951.5 424.6 1957 431.5 1957C438.4 1957 448.1 1952.1 452.2 1944.6C456.3 1937 457 1921.1 456.3 1911.4C455.6 1901.8 449.4 1890.7 448.1 1886.6M373.5 1932.1L398.4 1915.6M375.6 1944.6L402.5 1928M328 2039.8L439.8 1981.8M344.6 2048.1L435.6 1994.2M340.4 1981.8L373.5 1965.3L381.8 1981.8" fill="none" stroke="#000" stroke-width="3.7" stroke-linecap="round" stroke-linejoin="round"/>
<ellipse cx="444.7" cy="1983.9" rx="4.1" ry="5.8" fill="none" stroke="#000" stroke-width="3.7"/>
<path d="M423.2 1981.8L448.1 1969.4L464.6 1981.8L439.8 1994.2M435.6 1957L464.6 1965.3" fill="none" stroke="#000" stroke-width="3.7" stroke-linecap="round" stroke-linejoin="round"/>
<ellipse cx="520.5" cy="2157.7" rx="41.4" ry="62.1" transform="rotate(-20 520.5 2157.7)" fill="none" stroke="#000" stroke-width="4"/>
<ellipse cx="522.6" cy="2157.7" rx="36.4" ry="55.9" transform="rotate(-20 522.6 2157.7)" fill="none" stroke="#000" stroke-width="3.7"/>
<path d="M501.9 2114.3C500.8 2119.8 495 2135.7 495.7 2147.4C496.3 2159.1 500.1 2175 506 2184.7C511.9 2194.3 526.7 2201.9 530.8 2205.4M514.3 2118.4C513.6 2123.9 508.8 2139.8 510.1 2151.5C511.5 2163.3 520.5 2182.6 522.6 2188.8M535 2122.6C537.1 2126.7 544 2137.7 547.4 2147.4C550.8 2157.1 554.3 2175 555.7 2180.5M477 2122.6C477.7 2129.5 477.7 2150.2 481.2 2164C484.6 2177.8 489.4 2195 497.7 2205.4C506 2215.7 518.4 2223.3 530.8 2226.1C543.3 2228.8 565.3 2222.6 572.2 2221.9M482 2122.1C482.6 2128.8 482.7 2149.4 486 2162.8C489.3 2176.1 493.9 2192.5 501.6 2202.3C509.3 2212 520.2 2218.8 531.9 2221.2C543.6 2223.7 565.1 2217.7 571.7 2217M543.3 2182.6L576.4 2164L580.5 2168.1L588.8 2164L595 2180.5L603.3 2178.4L609.5 2197.1L572.2 2217.8L555.7 2205.4ZM547.4 2188.8L580.5 2172.2M559.8 2197.1L592.9 2182.6M328 2072.9C327.3 2075.6 322.5 2084.6 323.9 2089.4C325.2 2094.3 329.4 2099.1 336.3 2101.9C343.2 2104.6 354.9 2108.1 365.3 2106C375.6 2103.9 388.7 2094.3 398.4 2089.4C408 2084.6 419.1 2079.1 423.2 2077M332 2073.9C331.3 2076.3 326.9 2084.3 327.8 2088.3C328.8 2092.3 331.7 2095.7 337.8 2098C343.9 2100.3 354.7 2104 364.4 2101.9C374.2 2099.9 387 2090.5 396.5 2085.7C406 2081 417.2 2075.4 421.4 2073.3M290.7 2114.3L439.8 2035.6M274.2 2135L294.9 2124.6M199.7 2172.2L274.2 2132.9M332.1 2168.1C331.5 2171.5 326.6 2182.6 328 2188.8C329.4 2195 334.2 2202.6 340.4 2205.4C346.6 2208.1 361.1 2205.4 365.3 2205.4M336.2 2168.9C335.5 2172.1 331.1 2182.5 332 2187.9C333 2193.3 336.6 2199.4 342.1 2201.6C347.6 2203.8 361.4 2201.3 365.3 2201.2M340.4 2205.4L398.4 2180.5M357 2164L414.9 2139.1M348.7 2126.7L365.3 2159.8" fill="none" stroke="#000" stroke-width="3.7" stroke-linecap="round" stroke-linejoin="round"/>
<ellipse cx="398.4" cy="2159.8" rx="7.5" ry="11.6" transform="rotate(-10 398.4 2159.8)" fill="none" stroke="#000" stroke-width="3.7"/>
<path d="M398.4 2147.4C399.8 2150.2 403.9 2157.1 406.7 2164C409.4 2170.9 412.9 2183.3 414.9 2188.8C417 2194.3 418.4 2195.7 419.1 2197.1M414.9 2159.8L472.9 2135" fill="none" stroke="#000" stroke-width="3.7" stroke-linecap="round" stroke-linejoin="round"/>
<ellipse cx="454.3" cy="2188.8" rx="12.4" ry="16.6" transform="rotate(-10 454.3 2188.8)" fill="none" stroke="#000" stroke-width="3.7"/>
<ellipse cx="454.3" cy="2188.8" rx="7.5" ry="10.8" transform="rotate(-10 454.3 2188.8)" fill="none" stroke="#000" stroke-width="3.7"/>
<path d="M439.8 2205.4L464.6 2197.1M464.6 2201.2L468.7 2217.8" fill="none" stroke="#000" stroke-width="3.7" stroke-linecap="round" stroke-linejoin="round"/>
<ellipse cx="460.5" cy="2234.3" rx="10.3" ry="13.2" transform="rotate(-10 460.5 2234.3)" fill="none" stroke="#000" stroke-width="3.7"/>
<ellipse cx="460.5" cy="2234.3" rx="5.8" ry="8.3" transform="rotate(-10 460.5 2234.3)" fill="none" stroke="#000" stroke-width="3.7"/>
<path d="M470.8 2224L501.9 2209.5M472.9 2246.8L497.7 2234.3" fill="none" stroke="#000" stroke-width="3.7" stroke-linecap="round" stroke-linejoin="round"/>
<ellipse cx="441.8" cy="2300.6" rx="15.7" ry="16.6" fill="none" stroke="#000" stroke-width="3.7"/>
<path d="M435.6 2292.3C437.7 2293 445.6 2293.7 448.1 2296.4C450.5 2299.2 449.8 2306.8 450.1 2308.8M414.9 2300.6L419.1 2284L439.8 2279.9L506 2246.8M423.2 2321.3L439.8 2325.4L551.5 2271.6M414.9 2300.6C415.6 2303.3 417 2313.3 419.1 2317.1C421.1 2320.9 426 2322.3 427.4 2323.3M332.1 2232.3L439.8 2176.4M357 2255L448.1 2209.5M481.2 2362.7L543.3 2333.7M572.2 2450L601.2 2435.1M497.7 2238.5C497 2243.3 492.2 2259.2 493.6 2267.4C495 2275.7 497.7 2281.9 506 2288.1C514.3 2294.4 530.8 2297.8 543.3 2304.7C555.7 2311.6 570.2 2322.6 580.5 2329.5C590.9 2336.4 601.2 2343.3 605.4 2346.1M502.6 2239.2C502 2243.8 497.4 2259.1 498.5 2266.6C499.5 2274.1 501.1 2278.6 509 2284.2C516.8 2289.8 533.3 2293.5 545.7 2300.4C558.1 2307.2 572.9 2318.5 583.3 2325.4C593.7 2332.3 604 2339.2 608.1 2342M555.7 2284C554.3 2287.5 548.8 2298.5 547.4 2304.7C546 2310.9 547.4 2318.5 547.4 2321.3M381.8 2039.8C384.6 2043.9 391.5 2057.7 398.4 2064.6C405.3 2071.5 416.3 2077 423.2 2081.2C430.1 2085.3 437 2088.1 439.8 2089.4M414.9 2048.1C419.1 2053.6 431.5 2073.6 439.8 2081.2C448.1 2088.8 460.5 2091.5 464.6 2093.6M456.3 2031.5L472.9 2064.6M472.9 2077C473.6 2080.5 477 2091.5 477 2097.7C477 2103.9 473.6 2111.5 472.9 2114.3" fill="none" stroke="#000" stroke-width="3.7" stroke-linecap="round" stroke-linejoin="round"/>
<ellipse cx="450.1" cy="2114.3" rx="5.8" ry="8.3" fill="none" stroke="#000" stroke-width="3.7"/>
<path d="M423.2 2089.4C424.6 2095 428.7 2113.6 431.5 2122.6C434.3 2131.5 438.4 2139.8 439.8 2143.3M605.4 2139.1L642.6 2122.6L646.8 2135L613.6 2153.6ZM642.6 2151.5L713 2110.1M626.1 2213.6L746.1 2147.4M640.5 2271.6L795.8 2184.7M704.7 2288.1L850 2209.5M770.9 2164C772.3 2168.1 773.7 2180.5 779.2 2188.8C784.7 2197.1 792.3 2213.6 804.1 2213.6C815.9 2213.6 842.3 2192.9 850 2188.8M758.5 2149.5L766.8 2143.3L775.1 2153.6L770.9 2159.8ZM758.5 2147.4C760.6 2148.8 764.7 2157.7 770.9 2155.7C777.1 2153.6 793 2136.4 795.8 2135C798.5 2133.6 788.9 2145.3 787.5 2147.4M737.8 2308.8C739.2 2302.6 739.2 2281.9 746.1 2271.6C753 2261.2 768.2 2253 779.2 2246.8C790.3 2240.5 800.5 2234.3 812.3 2234.3C824.1 2234.3 843.7 2244.7 850 2246.8M733 2307.8C734.5 2301.3 734.7 2279.7 742 2268.8C749.3 2257.9 765.1 2249 776.8 2242.4C788.5 2235.8 799.9 2229.4 812.3 2229.4C824.8 2229.3 845 2239.9 851.6 2242M737.8 2308.8C738.5 2315.7 737.8 2338.5 742 2350.2C746.1 2362 753.7 2373 762.7 2379.2C771.6 2385.4 790.3 2386.1 795.8 2387.5" fill="none" stroke="#000" stroke-width="3.7" stroke-linecap="round" stroke-linejoin="round"/>
<ellipse cx="752.3" cy="2288.1" rx="9.1" ry="12.4" transform="rotate(-20 752.3 2288.1)" fill="none" stroke="#000" stroke-width="3.7"/>
<ellipse cx="812.3" cy="2323.3" rx="10.3" ry="12.4" fill="none" stroke="#000" stroke-width="3.7"/>
<ellipse cx="812.3" cy="2323.3" rx="5.8" ry="7" fill="none" stroke="#000" stroke-width="3.7"/>
<ellipse cx="773" cy="2360.6" rx="12.4" ry="14.1" fill="none" stroke="#000" stroke-width="3.7"/>
<ellipse cx="773" cy="2360.6" rx="8.3" ry="9.5" fill="none" stroke="#000" stroke-width="3.7"/>
<ellipse cx="773" cy="2360.6" rx="4.1" ry="5" fill="none" stroke="#000" stroke-width="3.7"/>
<ellipse cx="723.3" cy="2362.7" rx="11.6" ry="16.6" transform="rotate(-10 723.3 2362.7)" fill="none" stroke="#000" stroke-width="3.7"/>
<ellipse cx="723.3" cy="2362.7" rx="6.6" ry="10.3" transform="rotate(-10 723.3 2362.7)" fill="none" stroke="#000" stroke-width="3.7"/>
<ellipse cx="845.5" cy="2362.7" rx="10.3" ry="14.5" fill="none" stroke="#000" stroke-width="3.7"/>
<path d="M700.6 2362.7C699.9 2366.8 695 2379.2 696.4 2387.5C697.8 2395.8 703.3 2406.8 708.8 2412.3C714.4 2417.9 726.1 2419.2 729.5 2420.6" fill="none" stroke="#000" stroke-width="3.7" stroke-linecap="round" stroke-linejoin="round"/>
<ellipse cx="715.1" cy="2404.1" rx="10.3" ry="12.4" fill="none" stroke="#000" stroke-width="3.7"/>
<ellipse cx="715.1" cy="2404.1" rx="5.4" ry="6.6" fill="none" stroke="#000" stroke-width="3.7"/>
<path d="M723.3 2358.5L850 2288.1M795.8 2329.5L850 2300.6" fill="none" stroke="#000" stroke-width="3.7" stroke-linecap="round" stroke-linejoin="round"/>
<ellipse cx="584.7" cy="2366.8" rx="10.3" ry="14.5" transform="rotate(-15 584.7 2366.8)" fill="none" stroke="#000" stroke-width="3.7"/>
<ellipse cx="584.7" cy="2366.8" rx="5.8" ry="8.3" transform="rotate(-15 584.7 2366.8)" fill="none" stroke="#000" stroke-width="3.7"/>
<ellipse cx="615.7" cy="2391.6" rx="5" ry="6.6" fill="none" stroke="#000" stroke-width="3.7"/>
<ellipse cx="632.3" cy="2385.4" rx="2.5" ry="3.3" fill="none" stroke="#000" stroke-width="3.7"/>
<path d="M572.2 2346.1C572.9 2351.6 572.2 2370.9 576.4 2379.2C580.5 2387.5 590.9 2390.3 597.1 2395.8C603.3 2401.3 608.8 2403.3 613.6 2412.3C618.5 2421.4 624 2443.7 626.1 2450M617.8 2354.4C619.2 2353 621.2 2346.1 626.1 2346.1C630.9 2346.1 644 2350.9 646.8 2354.4C649.5 2357.8 646.8 2364 642.6 2366.8C638.5 2369.6 625.4 2370.2 621.9 2370.9M626.1 2412.3L646.8 2402L667.4 2428.9L634.3 2441.3Z" fill="none" stroke="#000" stroke-width="3.7" stroke-linecap="round" stroke-linejoin="round"/>
<ellipse cx="681.9" cy="2428.9" rx="5" ry="7.5" fill="none" stroke="#000" stroke-width="3.7"/>
<ellipse cx="746.1" cy="2441.3" rx="5" ry="6.6" fill="none" stroke="#000" stroke-width="3.7"/>
<path d="M688.1 2450C689.5 2446.5 689.5 2431.7 696.4 2428.9C703.3 2426.1 722.6 2429.5 729.5 2433C736.4 2436.6 736.4 2447.2 737.8 2450M663.3 2300.6C664.7 2298.5 667.4 2290.9 671.6 2288.1C675.7 2285.4 684.7 2286.8 688.1 2284C691.6 2281.2 691.6 2273.7 692.3 2271.6M688.1 2284L688.1 2321.3L667.4 2329.5" fill="none" stroke="#000" stroke-width="3.7" stroke-linecap="round" stroke-linejoin="round"/>

<!-- 61_lh_D2.svg -->
<path d="M658 2497.1C660 2482.6 670.4 2468.1 678.7 2459.8C686.9 2451.5 693.1 2446.7 707.6 2447.4C722.1 2448.1 748.3 2452.9 765.6 2464C782.8 2475 798 2493.6 811.1 2513.6C824.2 2533.6 836.6 2561.9 844.2 2584C851.8 2606.1 856 2630.9 856.7 2646.1C857.3 2661.3 853.9 2667.8 848.4 2675.1C842.9 2682.3 834.6 2688.2 823.5 2689.6C812.5 2690.9 796.6 2689.2 782.1 2683.4C767.7 2677.5 751.1 2667.5 736.6 2654.4C722.1 2641.3 706.9 2622.6 695.2 2604.7C683.5 2586.8 672.4 2564.7 666.2 2546.8C660 2528.8 655.9 2511.6 658 2497.1Z" fill="none" stroke="#000" stroke-width="4.5" stroke-linecap="round" stroke-linejoin="round"/>
<path d="M668.3 2499.1C670 2486.4 678 2475 684.9 2468.1C691.8 2461.2 696.9 2457.1 709.7 2457.7C722.5 2458.4 745.6 2461.9 761.4 2472.2C777.3 2482.6 792.5 2500.9 804.9 2519.8C817.3 2538.8 828.9 2565.4 836 2586.1C843.1 2606.8 846.9 2630.2 847.5 2644C848.2 2657.8 844.8 2662.7 840.1 2668.9C835.4 2675.1 828.7 2680.3 819.4 2681.3C810.1 2682.3 797.3 2680.6 784.2 2675.1C771.1 2669.6 754.5 2660.6 740.7 2648.2C726.9 2635.8 712.5 2617.8 701.4 2600.6C690.4 2583.3 680 2561.6 674.5 2544.7C669 2527.8 666.6 2511.9 668.3 2499.1Z" fill="none" stroke="#000" stroke-width="3.7" stroke-linecap="round" stroke-linejoin="round"/>
<ellipse cx="638.1" cy="2540.5" rx="5" ry="7.5" fill="none" stroke="#000" stroke-width="3.7"/>
<ellipse cx="673.7" cy="2589.4" rx="5.8" ry="8.3" fill="none" stroke="#000" stroke-width="3.7"/>
<ellipse cx="850.4" cy="2666.8" rx="5.8" ry="9.1" fill="none" stroke="#000" stroke-width="3.7"/>
<ellipse cx="847.5" cy="2696.6" rx="7.5" ry="9.9" fill="none" stroke="#000" stroke-width="3.7"/>
<ellipse cx="814.4" cy="2517.8" rx="6.6" ry="10.8" fill="none" stroke="#000" stroke-width="3.7"/>
<circle cx="815.3" cy="2519.8" r="3.7" fill="#000"/>
<ellipse cx="745.7" cy="2439.1" rx="5.8" ry="8.3" fill="none" stroke="#000" stroke-width="3.7"/>
<path d="M678.7 2447.4C674.5 2450.8 659.3 2458.4 653.8 2468.1C648.3 2477.8 650.4 2495 645.5 2505.4C640.7 2515.7 627.3 2522.6 624.8 2530.2C622.4 2537.8 626.2 2547.1 631 2550.9C635.9 2554.7 648.6 2548.8 653.8 2553C659 2557.1 660 2567.8 662.1 2575.7C664.2 2583.7 662.1 2595.7 666.2 2600.6C670.4 2605.4 683.5 2604 686.9 2604.7M681.3 2450.6C677.3 2453.8 662.7 2460.7 657.4 2470.2C652.1 2479.6 654.1 2496.9 649.3 2507.1C644.5 2517.3 631.4 2524.7 628.8 2531.4C626.2 2538.2 629 2544.6 633.6 2547.6C638.2 2550.7 651 2545.2 656.4 2549.7C661.8 2554.2 663.9 2566.7 666.1 2574.7C668.3 2582.7 665.8 2593.5 669.4 2597.9C673 2602.2 684.7 2600.2 687.7 2600.6M856.7 2646.1C858 2648.9 864.9 2656.4 864.9 2662.7C864.9 2668.9 856.7 2676.5 856.7 2683.4C856.7 2690.3 866.3 2698.5 864.9 2704.1C863.6 2709.6 853.9 2717.9 848.4 2716.5C842.9 2715.1 834.6 2699.2 831.8 2695.8" fill="none" stroke="#000" stroke-width="3.7" stroke-linecap="round" stroke-linejoin="round"/>
<ellipse cx="755.2" cy="2559.2" rx="24.8" ry="14.5" fill="none" stroke="#000" stroke-width="2"/>
<path d="M753.2 2555L753.2 2571.6M744.9 2572.4L765.6 2572.4M740.7 2281.8C745.2 2273.2 756.6 2261.1 765.6 2254.9C774.6 2248.7 785.6 2242.8 794.6 2244.6C803.5 2246.3 811.8 2253.5 819.4 2265.3C827 2277 835.3 2298.4 840.1 2314.9C844.9 2331.5 849.1 2352.2 848.4 2364.6C847.7 2377 841.5 2384.6 836 2389.4C830.4 2394.3 824.2 2396.3 815.3 2393.6C806.3 2390.8 792.5 2382.5 782.1 2372.9C771.8 2363.2 760.4 2346.7 753.2 2335.6C745.9 2324.6 740.7 2315.6 738.7 2306.7C736.6 2297.7 736.3 2290.4 740.7 2281.8ZM736.3 2279.5C741.2 2270 752.9 2257.5 762.8 2250.8C772.6 2244.2 785.4 2237.7 795.5 2239.7C805.6 2241.6 815.3 2250.2 823.6 2262.6C831.8 2274.9 839.9 2296.5 844.9 2313.5C849.8 2330.6 854.3 2351.6 853.3 2364.9C852.4 2378.2 845.8 2387.6 839.2 2393.2C832.6 2398.8 823.9 2401.1 813.8 2398.3C803.7 2395.6 789.6 2386.5 778.8 2376.5C768 2366.5 756.5 2349.8 749 2338.4C741.5 2326.9 735.9 2317.6 733.8 2307.8C731.7 2298 731.5 2289 736.3 2279.5Z" fill="none" stroke="#000" stroke-width="3.7" stroke-linecap="round" stroke-linejoin="round"/>
<ellipse cx="751.1" cy="2290.1" rx="9.1" ry="12.4" fill="none" stroke="#000" stroke-width="3.7"/>
<ellipse cx="753.2" cy="2291.3" rx="5" ry="7.5" fill="none" stroke="#000" stroke-width="3.7"/>
<ellipse cx="813.2" cy="2319.1" rx="9.1" ry="11.6" fill="none" stroke="#000" stroke-width="3.7"/>
<ellipse cx="814.4" cy="2319.9" rx="5" ry="6.6" fill="none" stroke="#000" stroke-width="3.7"/>
<ellipse cx="775.9" cy="2358.4" rx="13.2" ry="15.7" fill="none" stroke="#000" stroke-width="3.7"/>
<ellipse cx="775.9" cy="2358.4" rx="9.1" ry="10.8" fill="none" stroke="#000" stroke-width="3.7"/>
<ellipse cx="775.9" cy="2358.4" rx="4.6" ry="5.8" fill="none" stroke="#000" stroke-width="3.7"/>
<ellipse cx="844.2" cy="2368.7" rx="11.6" ry="14.9" fill="none" stroke="#000" stroke-width="3.7"/>
<ellipse cx="845.1" cy="2369.6" rx="6.6" ry="9.1" fill="none" stroke="#000" stroke-width="3.7"/>
<ellipse cx="858.7" cy="2348.1" rx="7.5" ry="9.9" fill="none" stroke="#000" stroke-width="3.7"/>
<ellipse cx="724.2" cy="2358.4" rx="7.5" ry="9.1" fill="none" stroke="#000" stroke-width="3.7"/>
<ellipse cx="724.2" cy="2358.4" rx="3.7" ry="5" fill="none" stroke="#000" stroke-width="3.7"/>
<path d="M773.9 2244.6L869.1 2186.6L889.8 2170M732.5 2368.7L753.2 2358.4M782.1 2335.6L807 2323.2M815.3 2339.8L848.4 2321.1L898.1 2294.2M852.5 2335.6L906.3 2306.7M778 2410.1C783.9 2404.6 797.3 2395 807 2393.6C816.6 2392.2 826.3 2394.3 836 2401.9C845.6 2409.5 858.7 2427.4 864.9 2439.1C871.1 2450.8 873.9 2463.3 873.2 2472.2C872.5 2481.2 867.7 2488.5 860.8 2492.9C853.9 2497.4 842.2 2499.8 831.8 2499.1C821.5 2498.5 807.7 2496 798.7 2488.8C789.7 2481.6 782.5 2466 778 2455.7C773.5 2445.3 771.8 2434.3 771.8 2426.7C771.8 2419.1 772.1 2415.7 778 2410.1ZM775.2 2407.1C781.6 2400.9 795.8 2390.9 806.4 2389.5C817 2388.1 828.1 2390.7 838.5 2398.6C848.9 2406.6 862.1 2424.9 868.6 2437.2C875.1 2449.5 878.3 2462.7 877.3 2472.6C876.4 2482.4 870.7 2491.3 863 2496.4C855.4 2501.5 842.7 2504 831.5 2503.3C820.4 2502.5 805.7 2499.7 796.1 2492C786.5 2484.4 778.9 2468.2 774.2 2457.3C769.5 2446.4 767.5 2435.1 767.7 2426.7C767.8 2418.3 768.7 2413.3 775.2 2407.1Z" fill="none" stroke="#000" stroke-width="3.7" stroke-linecap="round" stroke-linejoin="round"/>
<ellipse cx="845.1" cy="2449.5" rx="4.1" ry="6.2" fill="none" stroke="#000" stroke-width="3.7"/>
<path d="M831.8 2430.8L852.5 2422.6M873.2 2406L893.9 2395.7M695.2 2377C695.9 2373.6 694.5 2361.8 699.4 2356.3C704.2 2350.8 715.9 2344.6 724.2 2343.9C732.5 2343.2 744.9 2350.8 749 2352.2M692 2376.4C692.8 2372.7 691.5 2360.1 696.9 2354.1C702.2 2348.2 715 2341.5 723.9 2340.6C732.8 2339.8 745.7 2347.6 750.1 2349M695.2 2377C695.9 2381.9 695.9 2398.4 699.4 2406C702.8 2413.6 710.4 2420.5 715.9 2422.6C721.4 2424.6 729.7 2419.1 732.5 2418.4" fill="none" stroke="#000" stroke-width="3.7" stroke-linecap="round" stroke-linejoin="round"/>
<ellipse cx="713.8" cy="2406" rx="10.3" ry="14.5" fill="none" stroke="#000" stroke-width="3.7"/>
<ellipse cx="713.8" cy="2406" rx="5.4" ry="8.3" fill="none" stroke="#000" stroke-width="3.7"/>
<path d="M715.9 2381.2L728.3 2377M749 2381.2C750.4 2386.7 754.5 2404.6 757.3 2414.3C760.1 2423.9 762.1 2432.2 765.6 2439.1C769 2446 775.9 2452.9 778 2455.7M864.9 2149.4C866 2147.6 863.6 2144.9 871.1 2139C878.7 2133.1 901.2 2116.9 910.5 2114.2C919.8 2111.4 921.5 2119.3 927 2122.4C932.5 2125.5 936 2129 943.6 2132.8C951.2 2136.6 963.6 2139 972.6 2145.2C981.5 2151.4 988.4 2163.1 997.4 2170C1006.4 2176.9 1019.5 2180.4 1026.4 2186.6C1033.3 2192.8 1034 2201.1 1038.8 2207.3C1043.6 2213.5 1049.8 2217.7 1055.4 2223.9C1060.9 2230.1 1065 2234.9 1071.9 2244.6C1078.8 2254.2 1089.9 2272.8 1096.8 2281.8C1103.6 2290.8 1107.8 2291.5 1113.3 2298.4C1118.8 2305.3 1124.3 2317 1129.9 2323.2C1135.4 2329.4 1143.7 2333.6 1146.4 2335.6M918.7 2124.5C920.8 2125.9 923.6 2129.7 931.2 2132.8C938.8 2135.9 953.9 2137.6 964.3 2143.1C974.6 2148.7 983.6 2157.6 993.3 2165.9C1002.9 2174.2 1015.3 2185.2 1022.2 2192.8C1029.1 2200.4 1027.1 2202.1 1034.7 2211.4C1042.2 2220.8 1058.1 2236.3 1067.8 2248.7C1077.4 2261.1 1085.7 2276.3 1092.6 2286C1099.5 2295.6 1103.6 2299.1 1109.2 2306.7C1114.7 2314.2 1120.2 2326 1125.7 2331.5C1131.2 2337 1139.5 2338.4 1142.3 2339.8M1146.4 2335.6C1148.5 2337.7 1155.4 2341.2 1158.8 2348.1C1162.3 2354.9 1166.4 2368.1 1167.1 2377C1167.8 2386 1167.8 2394.3 1163 2401.9C1158.2 2409.5 1142.3 2419.1 1138.1 2422.6M1138.1 2422.6L1055.4 2464M1055.4 2464C1054 2470.9 1050.5 2491.6 1047.1 2505.4C1043.6 2519.2 1038.8 2533.6 1034.7 2546.8C1030.5 2559.9 1023.6 2571.6 1022.2 2584C1020.9 2596.4 1027.8 2612.3 1026.4 2621.3C1025 2630.2 1021.5 2633 1014 2637.8C1006.4 2642.7 986.4 2648.2 980.8 2650.2M1060.2 2464.9C1058.8 2471.9 1055.4 2492.7 1051.9 2506.6C1048.4 2520.4 1043.5 2535.2 1039.4 2548.2C1035.3 2561.2 1028.5 2572.3 1027.2 2584.6C1025.8 2596.9 1033 2612.4 1031.3 2622C1029.5 2631.6 1024.7 2636.5 1016.6 2642C1008.5 2647.5 988.3 2652.7 982.6 2654.9M844.2 2254.9L1014 2168M864.9 2281.8L951.9 2234.2M889.8 2298.4L997.4 2240.4M931.2 2372.9L1109.2 2277.7M980.8 2406L1134 2335.6M1014 2484.7L1138.1 2422.6M898.1 2219.7L1018.1 2153.5M956 2232.1L972.6 2223.9M980.8 2248.7L997.4 2240.4M1018.1 2215.6L1030.5 2209.4M873.2 2273.5L889.8 2265.3M889.8 2286L906.3 2277.7" fill="none" stroke="#000" stroke-width="3.7" stroke-linecap="round" stroke-linejoin="round"/>
<path d="M1063.6 2302.5L1109.2 2277.7" fill="none" stroke="#000" stroke-width="4.5" stroke-linecap="round" stroke-linejoin="round"/>
<path d="M914.6 2228L931.2 2232.1L947.7 2257L939.4 2265.3L922.9 2248.7Z" fill="none" stroke="#000" stroke-width="3.7" stroke-linecap="round" stroke-linejoin="round"/>
<ellipse cx="931.2" cy="2242.5" rx="5.8" ry="7.5" fill="none" stroke="#000" stroke-width="3.7"/>
<ellipse cx="970.5" cy="2279.7" rx="20.7" ry="20.7" fill="none" stroke="#000" stroke-width="3.7"/>
<ellipse cx="970.5" cy="2279.7" rx="13.7" ry="13.7" fill="none" stroke="#000" stroke-width="3.7"/>
<ellipse cx="914.6" cy="2314.9" rx="14.5" ry="15.7" fill="none" stroke="#000" stroke-width="3.7"/>
<ellipse cx="914.6" cy="2314.9" rx="8.3" ry="9.1" fill="none" stroke="#000" stroke-width="3.7"/>
<path d="M916.7 2339.8L885.6 2534.3M927 2343.9L893.9 2517.8M893.9 2517.8C896 2515.7 900.1 2508.8 906.3 2505.4C912.5 2501.9 927 2498.5 931.2 2497.1M918.7 2341.8C924.3 2347 942.9 2361.5 951.9 2372.9C960.8 2384.3 969.1 2403.9 972.6 2410.1M939.4 2439.1C941.5 2431.5 949.1 2424.6 956 2422.6C962.9 2420.5 972.6 2422.6 980.8 2426.7C989.1 2430.8 1000.2 2438.4 1005.7 2447.4C1011.2 2456.4 1015.3 2472.9 1014 2480.5C1012.6 2488.1 1005.7 2491.6 997.4 2492.9C989.1 2494.3 973.3 2492.9 964.3 2488.8C955.3 2484.7 947.7 2476.4 943.6 2468.1C939.4 2459.8 937.4 2446.7 939.4 2439.1ZM935.5 2438C937.9 2429.5 946.9 2421.1 954.8 2418.6C962.7 2416.1 973.6 2418.6 982.7 2423C991.8 2427.4 1003.3 2435.5 1009.2 2445.2C1015.1 2454.9 1019.9 2472.6 1018 2481.3C1016.2 2489.9 1007.3 2495.1 998.1 2497C988.8 2498.9 972.2 2497.1 962.5 2492.6C952.8 2488 944.4 2479 939.9 2469.9C935.4 2460.9 933 2446.6 935.5 2438Z" fill="none" stroke="#000" stroke-width="3.7" stroke-linecap="round" stroke-linejoin="round"/>
<ellipse cx="964.3" cy="2459.8" rx="22.8" ry="26.9" transform="rotate(-20 964.3 2459.8)" fill="none" stroke="#000" stroke-width="4"/>
<ellipse cx="964.3" cy="2459.8" rx="12.4" ry="16.6" transform="rotate(-20 964.3 2459.8)" fill="none" stroke="#000" stroke-width="3.7"/>
<path d="M914.6 2430.8C917.4 2431.5 927 2432.2 931.2 2435C935.3 2437.7 938.1 2445.3 939.4 2447.4M906.3 2480.5C907.7 2482.6 910.5 2490.2 914.6 2492.9C918.7 2495.7 925.6 2497.8 931.2 2497.1C936.7 2496.4 945 2490.2 947.7 2488.8M927 2356.3C929.8 2357.7 939.4 2360.5 943.6 2364.6C947.7 2368.7 952.6 2377 951.9 2381.2C951.2 2385.3 944.3 2389.4 939.4 2389.4C934.6 2389.4 925.6 2382.5 922.9 2381.2" fill="none" stroke="#000" stroke-width="3.7" stroke-linecap="round" stroke-linejoin="round"/>
<ellipse cx="878.2" cy="2557.1" rx="9.1" ry="13.2" transform="rotate(-15 878.2 2557.1)" fill="none" stroke="#000" stroke-width="3.7"/>
<path d="M869.1 2530.2C868.4 2533 864.2 2539.9 864.9 2546.8C865.6 2553.6 869.1 2568.1 873.2 2571.6C877.4 2575 887 2568.1 889.8 2567.4M889.8 2567.4L989.1 2517.8M873.2 2579.9L889.8 2600.6L993.3 2546.8M873.2 2571.6L873.2 2584M989.1 2501.2L1014 2492.9L1022.2 2509.5L1022.2 2546.8L997.4 2559.2L980.8 2555L989.1 2517.8ZM997.4 2559.2L989.1 2600.6L993.3 2608.8M980.8 2559.2L972.6 2637.8M856.7 2646.1L989.1 2584" fill="none" stroke="#000" stroke-width="3.7" stroke-linecap="round" stroke-linejoin="round"/>
<path d="M858.7 2652.3L918.7 2623.3" fill="none" stroke="#000" stroke-width="4.5" stroke-linecap="round" stroke-linejoin="round"/>
<path d="M864.9 2708.2L972.6 2654.4M864.9 2687.5L964.3 2637.8M962.2 2629.5L985 2617.1L974.6 2656.4ZM1022.2 2546.8C1023.6 2550.9 1031.2 2564.7 1030.5 2571.6C1029.8 2578.5 1018.8 2579.9 1018.1 2588.1C1017.4 2596.4 1025 2615.7 1026.4 2621.3M1051.2 2468.1L1042.9 2505.4" fill="none" stroke="#000" stroke-width="3.7" stroke-linecap="round" stroke-linejoin="round"/>
<ellipse cx="871.1" cy="2153.5" rx="5.8" ry="8.3" fill="none" stroke="#000" stroke-width="3.7"/>
<path d="M864.9 2149.4C864.2 2152.8 863.6 2163.8 860.8 2170C858 2176.3 850.4 2183.8 848.4 2186.6M873.2 2165.9C876 2165.2 884.3 2162.1 889.8 2161.8C895.3 2161.4 903.6 2163.5 906.3 2163.8M815.3 2091.4C817.3 2094.8 826.3 2106.6 827.7 2112.1C829.1 2117.6 820.1 2121.8 823.5 2124.5C827 2127.3 837.3 2129 848.4 2128.7C859.4 2128.3 879.4 2124.9 889.8 2122.4C900.1 2120 907 2115.5 910.5 2114.2M765.6 2149.4C767 2147.3 765.6 2142.5 773.9 2136.9C782.1 2131.4 808.4 2119.7 815.3 2116.2M759.4 2149.4L769.7 2143.1L782.1 2157.6L771.8 2159.7ZM794.6 2132.8C793.9 2136.2 787 2150.4 790.4 2153.5C793.9 2156.6 805.6 2152.1 815.3 2151.4C824.9 2150.7 842.9 2149.7 848.4 2149.4M767.7 2159.7C768.7 2164.2 769.4 2178.7 773.9 2186.6C778.3 2194.5 789.7 2201.8 794.6 2207.3C799.4 2212.8 801.5 2217.7 802.8 2219.7M889.8 2145.2L922.9 2128.7M922.9 2132.8L947.7 2153.5M914.6 2120.4C916.7 2123.1 922.2 2132.8 927 2136.9C931.9 2141.1 940.8 2143.8 943.6 2145.2" fill="none" stroke="#000" stroke-width="3.7" stroke-linecap="round" stroke-linejoin="round"/>

<!-- 62_lh_D3.svg -->
<path d="M472.3 2439.9C474.8 2440.2 482.5 2436.1 487.6 2441.5C492.8 2446.8 498.4 2464 503 2472.2C507.6 2480.4 511.7 2484 515.3 2490.7C518.9 2497.3 520.4 2508.6 524.5 2512.2C528.6 2515.8 533.2 2509.6 539.9 2512.2C546.6 2514.7 555.3 2522.4 564.5 2527.6C573.7 2532.7 587.1 2539.1 595.3 2542.9C603.5 2546.8 606.5 2548.8 613.7 2550.6C620.9 2552.4 632.7 2554.5 638.3 2553.7C643.9 2552.9 646 2547.3 647.5 2546M456.9 2366.1C458.9 2368.4 464.6 2370.5 469.2 2380C473.8 2389.4 479.9 2411.7 484.6 2423C489.2 2434.3 492.2 2438.4 496.9 2447.6C501.5 2456.8 507.6 2471.2 512.2 2478.4C516.8 2485.5 520.4 2487.1 524.5 2490.7C528.6 2494.2 532.2 2496.3 536.8 2499.9C541.4 2503.5 545 2507.6 552.2 2512.2C559.4 2516.8 570.7 2522.9 579.9 2527.6C589.1 2532.2 599.9 2537.5 607.6 2539.9C615.2 2542.2 622.9 2541.1 626 2541.4M443 2380C442.8 2383.5 439.7 2393.8 441.5 2401.5C443.3 2409.2 448.7 2419.7 453.8 2426.1C458.9 2432.5 469.2 2437.6 472.3 2439.9" fill="none" stroke="#000" stroke-width="3.7" stroke-linecap="round" stroke-linejoin="round"/>
<ellipse cx="465.5" cy="2406.1" rx="11.7" ry="15.4" transform="rotate(-20 465.5 2406.1)" fill="none" stroke="#000" stroke-width="3.7"/>
<ellipse cx="529.8" cy="2499.3" rx="4.3" ry="7.4" transform="rotate(-20 529.8 2499.3)" fill="none" stroke="#000" stroke-width="3.7"/>
<ellipse cx="637.7" cy="2538.3" rx="4.9" ry="7.4" transform="rotate(-20 637.7 2538.3)" fill="none" stroke="#000" stroke-width="3.7"/>
<ellipse cx="674.6" cy="2587.5" rx="4.9" ry="7.4" transform="rotate(-20 674.6 2587.5)" fill="none" stroke="#000" stroke-width="3.7"/>
<path d="M529.1 2473.7L601.4 2433.8M552.2 2495.3L615.2 2459.9M647.5 2546C648 2540.9 651.1 2523.5 650.6 2515.3C650.1 2507.1 644.5 2504 644.5 2496.8C644.5 2489.6 647.5 2479.9 650.6 2472.2C653.7 2464.5 657.8 2455.8 662.9 2450.7C668 2445.6 678.3 2443 681.4 2441.5M653.7 2542.9C654.2 2538.3 657 2522.9 656.8 2515.3C656.5 2507.6 652.1 2503.5 652.1 2496.8C652.1 2490.1 654.2 2482.2 656.8 2475.3C659.3 2468.4 663.2 2459.9 667.5 2455.3C671.9 2450.7 680.3 2448.9 682.9 2447.6M626 2541.4C626.5 2539.6 626 2533.4 629.1 2530.6C632.2 2527.8 641.9 2525.5 644.5 2524.5M666 2570.6C665.2 2572.7 660.9 2577.8 661.4 2582.9C661.9 2588 665.7 2597.8 669.1 2601.4C672.4 2604.9 679.3 2603.9 681.4 2604.4M619.9 2401.5C620.4 2409.2 620.4 2437.9 622.9 2447.6C625.5 2457.3 630.6 2457.3 635.2 2459.9C639.8 2462.5 648 2462.5 650.6 2463M629.1 2410.7L650.6 2401.5L662.9 2407.6L669.1 2423L656.8 2435.3L632.2 2441.5ZM632.2 2441.5L672.1 2419.9M644.5 2441.5L656.8 2453.8" fill="none" stroke="#000" stroke-width="3.7" stroke-linecap="round" stroke-linejoin="round"/>
<ellipse cx="678.9" cy="2426.7" rx="4.9" ry="8" transform="rotate(-20 678.9 2426.7)" fill="none" stroke="#000" stroke-width="3.7"/>
<circle cx="678.9" cy="2426.7" r="2.8" fill="#000"/>
<ellipse cx="745.3" cy="2439.9" rx="4.9" ry="8" transform="rotate(-20 745.3 2439.9)" fill="none" stroke="#000" stroke-width="3.7"/>

<!-- 70_lhbox_E1.svg -->
<path d="M652.5 3150L621.5 3170.7L462.1 3361.1M462.1 3361.1C460 3365.9 453.1 3381.1 449.7 3390.1C446.2 3399.1 446.2 3405.3 441.4 3414.9C436.6 3424.6 424.8 3437.7 420.7 3448.1C416.6 3458.4 415.9 3468.1 416.6 3477C417.2 3486 420 3495 424.8 3501.9C429.7 3508.8 439.3 3513.6 445.5 3518.4C451.7 3523.3 453.8 3527.4 462.1 3530.8C470.4 3534.3 482.8 3535 495.2 3539.1C507.6 3543.3 525.9 3551.5 536.6 3555.7C547.3 3559.8 555.6 3562.6 559.4 3564M467.4 3363.4C465.4 3368.2 458.6 3383.2 455.1 3392.2C451.6 3401.2 451.4 3407.9 446.6 3417.5C441.7 3427.2 430.1 3440.4 426.1 3450.2C422 3460 421.8 3468.5 422.3 3476.6C422.9 3484.6 425.1 3492.3 429.6 3498.5C434 3504.8 443.3 3509.4 449.1 3513.8C454.9 3518.3 456.3 3522.2 464.3 3525.5C472.3 3528.8 484.6 3529.5 497 3533.6C509.4 3537.8 528 3546.1 538.7 3550.3C549.4 3554.4 557.6 3557.1 561.4 3558.5M559.4 3564L559.4 3713L625.6 3713M625.6 3713C625.6 3715.7 624.6 3722.6 625.6 3729.5C626.6 3736.4 626.6 3747.5 631.8 3754.4C637 3761.3 647.7 3768.2 656.7 3770.9C665.6 3773.7 673.2 3774.4 685.6 3770.9C698.1 3767.5 719.4 3755.1 731.2 3750.2C742.9 3745.4 751.2 3745.4 756 3742C760.8 3738.5 757.4 3732.6 760.1 3729.5C762.9 3726.4 768.1 3723.3 772.6 3723.3C777 3723.3 784.3 3725.7 787.1 3729.5C789.8 3733.3 784.6 3739.9 789.1 3746.1C793.6 3752.3 805.7 3760.6 814 3766.8C822.2 3773 828.4 3779.9 838.8 3783.4C849.1 3786.8 866.4 3787.5 876.1 3787.5C885.7 3787.5 891.2 3782 896.8 3783.4C902.3 3784.7 904.3 3795.1 909.2 3795.8C914 3796.5 920.9 3790.3 925.7 3787.5C930.6 3784.7 930.6 3780.6 938.1 3779.2C945.7 3777.8 964.4 3777.5 971.3 3779.2C978.2 3780.9 967.1 3788.9 979.5 3789.6C992 3790.3 1032 3786.5 1045.8 3783.4C1059.6 3780.3 1056.8 3770.9 1062.3 3770.9C1067.9 3770.9 1072.6 3783.4 1078.9 3783.4C1085.2 3783.4 1096.5 3773 1100 3770.9M631.4 3713C631.4 3715.6 630.5 3722.4 631.3 3728.7C632.2 3735 631.9 3744.8 636.5 3750.9C641 3757 650.4 3763 658.4 3765.4C666.3 3767.8 672.3 3768.8 684.1 3765.4C695.8 3761.9 717.5 3749.6 729 3744.9C740.4 3740.2 748.2 3740.4 752.6 3737.2C757.1 3734 752.5 3729 755.8 3725.7C759.1 3722.4 766.6 3717.5 772.6 3717.5C778.6 3717.6 788.2 3721.9 791.7 3726.1C795.3 3730.3 789.5 3736.7 793.8 3742.7C798.1 3748.7 809.6 3756.3 817.4 3762.2C825.2 3768 830.9 3774.6 840.6 3777.9C850.4 3781.1 866.5 3781.7 876.1 3781.7C885.6 3781.7 892.5 3776.3 898.2 3777.7C903.8 3779.1 905.9 3789.3 910 3790C914.1 3790.8 918.3 3785.2 922.9 3782.5C927.4 3779.7 928.8 3775 937.1 3773.5C945.4 3772 965.5 3771.9 972.7 3773.6C979.8 3775.3 967.9 3783.1 979.9 3783.8C991.8 3784.5 1030.8 3780.8 1044.5 3777.7C1058.2 3774.6 1056.6 3765.2 1062.3 3765.1C1068.1 3765.1 1073.1 3777.4 1078.9 3777.6C1084.7 3777.7 1094 3767.9 1097.1 3765.9M760.1 3150L979.5 3323.9L987.8 3328L1045.8 3303.2L1083 3282.5M739.4 3162.4L971.3 3344.6M664.9 3174.8L499.4 3365.3M648.4 3162.4L631.8 3179M675.3 3195.5L644.2 3232.8M499.4 3365.3C496.6 3370.8 488.3 3386 482.8 3398.4C477.3 3410.8 468.6 3426 466.2 3439.8C463.8 3453.6 465.5 3470.1 468.3 3481.2C471.1 3492.2 476.2 3499.1 482.8 3506C489.3 3512.9 498 3517 507.6 3522.6C517.3 3528.1 529.7 3532.9 540.7 3539.1C551.8 3545.3 564.2 3555.7 573.9 3559.8C583.5 3564 589 3560.5 598.7 3564C608.4 3567.4 620.8 3575 631.8 3580.5C642.9 3586 651.1 3592.9 664.9 3597.1C678.7 3601.2 700.1 3602.6 714.6 3605.4C729.1 3608.1 742.2 3606.7 751.9 3613.6C761.5 3620.5 765 3634.3 772.6 3646.8C780.2 3659.2 789.1 3675.7 797.4 3688.1C805.7 3700.6 812.6 3716.4 822.2 3721.3C831.9 3726.1 836 3718.5 855.4 3717.1C874.7 3715.7 917.4 3715.1 938.1 3713C958.8 3710.9 969.9 3710.2 979.5 3704.7C989.2 3699.2 992.7 3696.4 996.1 3679.9C999.6 3663.3 998.2 3626.1 1000.2 3605.4C1002.3 3584.7 1009.2 3569.5 1008.5 3555.7C1007.8 3541.9 1000.9 3537.7 996.1 3522.6C991.3 3507.4 983.7 3478.4 979.5 3464.6C975.4 3450.8 983.7 3443.9 971.3 3439.8C958.8 3435.6 917.4 3443.9 905 3439.8C892.6 3435.6 898.8 3424.6 896.8 3414.9C894.7 3405.3 887.1 3393.5 892.6 3381.8C898.1 3370.1 916.8 3350.8 929.9 3344.6C943 3338.4 964.4 3344.6 971.3 3344.6M503.8 3367.5C501 3373 492.8 3388.2 487.3 3400.4C481.9 3412.6 473.5 3427.4 471.1 3440.6C468.8 3453.9 470.6 3469.6 473.1 3480C475.7 3490.3 480.2 3496.2 486.4 3502.6C492.6 3509 500.6 3512.9 510.1 3518.2C519.6 3523.6 532.2 3528.6 543.2 3534.8C554.1 3541 566.3 3551.2 575.8 3555.3C585.4 3559.3 590.7 3555.8 600.4 3559.3C610.1 3562.8 623 3570.6 634 3576.1C645 3581.6 652.8 3588.3 666.4 3592.3C679.9 3596.4 700.8 3597.6 715.5 3600.5C730.3 3603.4 744.5 3602.3 754.8 3609.6C765 3616.9 769 3631.5 776.8 3644.2C784.6 3656.8 793.6 3673.3 801.5 3685.4C809.5 3697.5 815.5 3712.4 824.5 3716.8C833.4 3721.3 836.1 3713.6 855 3712.2C873.9 3710.7 917.3 3710 937.7 3708C958 3706.1 968.1 3705.3 977.1 3700.4C986 3695.5 988.2 3694.8 991.2 3678.9C994.3 3662.9 993.2 3625.3 995.3 3604.9C997.4 3584.4 1004.2 3569.4 1003.6 3555.9C1002.9 3542.5 996.2 3539.1 991.4 3524.1C986.6 3509.1 978.4 3479.3 974.8 3466C971.2 3452.8 981.6 3448.1 969.7 3444.5C957.8 3440.9 916.4 3449.2 903.5 3444.5C890.5 3439.7 894.5 3426.8 891.9 3416C889.3 3405.2 882.1 3392.4 888.1 3379.7C894.1 3367.1 913.9 3346.8 927.7 3340.1C941.6 3333.4 964 3339.7 971.3 3339.6M565.6 3245.2C570.4 3239 587.7 3230 594.6 3228.7C601.5 3227.3 604.9 3233.5 607 3236.9C609 3240.4 611.8 3243.8 607 3249.4C602.1 3254.9 584.9 3267.3 578 3270C571.1 3272.8 567.7 3270 565.6 3265.9C563.5 3261.8 560.8 3251.4 565.6 3245.2ZM561.4 3282.5C563.9 3278 572.5 3270.7 578 3272.1C583.5 3273.5 591.8 3285.6 594.6 3290.7C597.3 3295.9 597.3 3299.4 594.6 3303.2C591.8 3307 583.2 3314.2 578 3313.5C572.8 3312.8 566.3 3304.2 563.5 3299C560.8 3293.9 559 3287 561.4 3282.5ZM526.3 3292.8L544.9 3286.6L553.2 3303.2L536.6 3313.5ZM503.5 3323.9L520 3315.6L528.3 3332.1L511.8 3340.4ZM524.2 3307.3L561.4 3270M495.2 3336.3L524.2 3307.3M598.7 3203.8L631.8 3166.6M594.6 3220.4L615.3 3195.5M594.6 3253.5C598 3247.6 609 3238.3 615.3 3239C621.5 3239.7 630.4 3249.7 631.8 3257.6C633.2 3265.6 627.7 3281.1 623.5 3286.6C619.4 3292.1 611.8 3292.8 607 3290.7C602.1 3288.7 596.6 3280.4 594.6 3274.2C592.5 3268 591.1 3259.4 594.6 3253.5Z" fill="none" stroke="#000" stroke-width="3.5" stroke-linecap="round" stroke-linejoin="round"/>
<circle cx="631" cy="3187.3" r="9.1" fill="#000"/>
<ellipse cx="631" cy="3187.3" rx="14.9" ry="14.9" fill="none" stroke="#000" stroke-width="3.5"/>
<circle cx="470.4" cy="3376.8" r="9.1" fill="#000"/>
<ellipse cx="470.4" cy="3376.8" rx="15.7" ry="15.7" fill="none" stroke="#000" stroke-width="3.5"/>
<circle cx="564.8" cy="3522.6" r="9.1" fill="#000"/>
<ellipse cx="564.8" cy="3522.6" rx="15.7" ry="15.7" fill="none" stroke="#000" stroke-width="3.5"/>
<circle cx="873.2" cy="3548.6" r="9.9" fill="#000"/>
<ellipse cx="873.2" cy="3548.6" rx="16.6" ry="16.6" fill="none" stroke="#000" stroke-width="3.5"/>
<circle cx="638" cy="3663.3" r="6.6" fill="#000"/>
<ellipse cx="638" cy="3663.3" rx="11.6" ry="11.6" fill="none" stroke="#000" stroke-width="3.5"/>
<circle cx="772.6" cy="3735.8" r="5.8" fill="#000"/>
<circle cx="908.3" cy="3795.8" r="6.6" fill="#000"/>
<ellipse cx="908.3" cy="3795.8" rx="11.6" ry="11.6" fill="none" stroke="#000" stroke-width="3.5"/>
<circle cx="1061.1" cy="3784.6" r="6.6" fill="#000"/>
<ellipse cx="1061.1" cy="3784.6" rx="11.6" ry="11.6" fill="none" stroke="#000" stroke-width="3.5"/>
<ellipse cx="727" cy="3431.5" rx="51.7" ry="51.7" fill="none" stroke="#000" stroke-width="4.5"/>
<ellipse cx="727" cy="3431.5" rx="58.8" ry="58.8" fill="none" stroke="#000" stroke-width="3.5"/>
<path d="M648.4 3414.9C649.8 3426 648.4 3464.6 656.7 3481.2C664.9 3497.7 682.2 3508.1 698.1 3514.3C713.9 3520.5 735.3 3522.6 751.9 3518.4C768.4 3514.3 787.1 3502.6 797.4 3489.4C807.7 3476.3 811.9 3452.2 814 3439.8C816 3427.4 810.5 3419.1 809.8 3414.9M653.3 3414.3C654.6 3425.1 653.3 3463.1 661.1 3478.9C668.9 3494.8 684.9 3503.9 699.9 3509.7C714.8 3515.4 735.1 3517.5 750.7 3513.6C766.3 3509.7 783.8 3498.8 793.5 3486.4C803.2 3473.9 807.2 3450.7 809.1 3439C811 3427.2 805.6 3419.6 804.9 3415.8M582.1 3406.7C582.1 3419.1 576.6 3459.1 582.1 3481.2C587.7 3503.2 601.5 3523.9 615.3 3539.1C629.1 3554.3 656.7 3566.7 664.9 3572.2M587.1 3406.7C587.1 3418.9 581.7 3458.4 587 3480C592.3 3501.5 605.5 3521.1 618.9 3535.8C632.4 3550.5 659.6 3562.7 667.7 3568.1M867.8 3381.8C868.5 3395.6 877.4 3439.8 871.9 3464.6C866.4 3489.4 849.8 3513.6 834.7 3530.8C819.5 3548.1 789.8 3561.9 780.8 3568.1M862.8 3382.1C863.5 3395.6 872.4 3439.3 867.1 3463.5C861.7 3487.8 845.8 3510.8 830.9 3527.6C816.1 3544.3 786.8 3557.9 778 3564M648.4 3398.4C651.1 3392.9 658 3372.2 664.9 3365.3C671.8 3358.4 685.6 3358.4 689.8 3357" fill="none" stroke="#000" stroke-width="3.5" stroke-linecap="round" stroke-linejoin="round"/>
<ellipse cx="712.5" cy="3257.6" rx="22.8" ry="22.8" fill="none" stroke="#000" stroke-width="4.5"/>
<ellipse cx="712.5" cy="3257.6" rx="31" ry="31" fill="none" stroke="#000" stroke-width="3.5"/>
<path d="M673.2 3245.2C671.8 3248.7 664.9 3258.3 664.9 3265.9C664.9 3273.5 667.7 3284.5 673.2 3290.7C678.7 3297 688.4 3301.8 698.1 3303.2C707.7 3304.5 722.2 3303.9 731.2 3299C740.1 3294.2 749.1 3283.8 751.9 3274.2C754.6 3264.5 751.9 3250 747.7 3241.1C743.6 3232.1 735.3 3224.2 727 3220.4C718.7 3216.6 706.3 3216.6 698.1 3218.3C689.8 3220 680.8 3228.7 677.4 3230.7M706.3 3234.9L706.3 3239M718.7 3234.9L718.7 3239M681.5 3311.4C682.9 3315.6 687 3329.4 689.8 3336.3C692.5 3343.2 687 3350.1 698.1 3352.8C709.1 3355.6 745 3356.3 756 3352.8C767 3349.4 764.3 3339.7 764.3 3332.1C764.3 3324.6 757.4 3311.4 756 3307.3" fill="none" stroke="#000" stroke-width="3.5" stroke-linecap="round" stroke-linejoin="round"/>
<ellipse cx="462.1" cy="3477" rx="31" ry="31" fill="none" stroke="#000" stroke-width="3.5"/>
<ellipse cx="462.1" cy="3477" rx="36.4" ry="36.4" fill="none" stroke="#000" stroke-width="3.5"/>
<ellipse cx="536.6" cy="3458.4" rx="17.4" ry="17.4" fill="none" stroke="#000" stroke-width="3.5"/>
<ellipse cx="536.6" cy="3458.4" rx="11.6" ry="11.6" fill="none" stroke="#000" stroke-width="3.5"/>
<ellipse cx="809.8" cy="3265.9" rx="12.4" ry="12.4" fill="none" stroke="#000" stroke-width="3.5"/>
<ellipse cx="809.8" cy="3265.9" rx="7.5" ry="7.5" fill="none" stroke="#000" stroke-width="3.5"/>
<ellipse cx="580.1" cy="3628.1" rx="18.6" ry="18.6" fill="none" stroke="#000" stroke-width="3.5"/>
<ellipse cx="580.1" cy="3628.1" rx="9.1" ry="9.1" fill="none" stroke="#000" stroke-width="3.5"/>
<ellipse cx="668.2" cy="3729.5" rx="31" ry="31" fill="none" stroke="#000" stroke-width="4.5"/>
<ellipse cx="668.2" cy="3729.5" rx="14.5" ry="14.5" fill="none" stroke="#000" stroke-width="4.5"/>
<ellipse cx="668.2" cy="3729.5" rx="37.3" ry="37.3" fill="none" stroke="#000" stroke-width="3.5"/>
<path d="M631.8 3696.4C630.8 3701.9 624.9 3719.2 625.6 3729.5C626.3 3739.9 629.4 3751.3 636 3758.5C642.5 3765.8 660.1 3770.6 664.9 3773" fill="none" stroke="#000" stroke-width="3.5" stroke-linecap="round" stroke-linejoin="round"/>
<ellipse cx="909.2" cy="3611.6" rx="13.2" ry="13.2" fill="none" stroke="#000" stroke-width="3.5"/>
<ellipse cx="857.4" cy="3592.9" rx="11.6" ry="11.6" fill="none" stroke="#000" stroke-width="3.5"/>
<ellipse cx="987.8" cy="3427.4" rx="10.8" ry="10.8" fill="none" stroke="#000" stroke-width="3.5"/>
<ellipse cx="983.7" cy="3406.7" rx="9.1" ry="9.1" fill="none" stroke="#000" stroke-width="3.5"/>
<circle cx="983.7" cy="3406.7" r="4.1" fill="#000"/>
<ellipse cx="636.8" cy="3225.8" rx="8.3" ry="8.3" fill="none" stroke="#000" stroke-width="3.5"/>
<ellipse cx="636.8" cy="3225.8" rx="4.1" ry="4.1" fill="none" stroke="#000" stroke-width="3.5"/>
<ellipse cx="634.7" cy="3281.6" rx="8.3" ry="8.3" fill="none" stroke="#000" stroke-width="3.5"/>
<ellipse cx="634.7" cy="3281.6" rx="4.1" ry="4.1" fill="none" stroke="#000" stroke-width="3.5"/>
<ellipse cx="704.3" cy="3317.7" rx="8.3" ry="8.3" fill="none" stroke="#000" stroke-width="3.5"/>
<ellipse cx="704.3" cy="3317.7" rx="4.1" ry="4.1" fill="none" stroke="#000" stroke-width="3.5"/>
<ellipse cx="728.3" cy="3316.8" rx="8.3" ry="8.3" fill="none" stroke="#000" stroke-width="3.5"/>
<ellipse cx="728.3" cy="3316.8" rx="4.1" ry="4.1" fill="none" stroke="#000" stroke-width="3.5"/>
<ellipse cx="826.4" cy="3328" rx="9.9" ry="9.9" fill="none" stroke="#000" stroke-width="3.5"/>
<ellipse cx="826.4" cy="3328" rx="5" ry="5" fill="none" stroke="#000" stroke-width="3.5"/>
<ellipse cx="828.4" cy="3376.8" rx="9.9" ry="9.9" fill="none" stroke="#000" stroke-width="3.5"/>
<ellipse cx="828.4" cy="3376.8" rx="5" ry="5" fill="none" stroke="#000" stroke-width="3.5"/>
<ellipse cx="647.1" cy="3421.1" rx="8.3" ry="8.3" fill="none" stroke="#000" stroke-width="3.5"/>
<ellipse cx="647.1" cy="3421.1" rx="4.1" ry="4.1" fill="none" stroke="#000" stroke-width="3.5"/>
<ellipse cx="657.9" cy="3488.6" rx="12.4" ry="12.4" fill="none" stroke="#000" stroke-width="3.5"/>
<ellipse cx="657.9" cy="3488.6" rx="8.3" ry="8.3" fill="none" stroke="#000" stroke-width="3.5"/>
<ellipse cx="657.9" cy="3488.6" rx="4.1" ry="4.1" fill="none" stroke="#000" stroke-width="3.5"/>
<ellipse cx="668.2" cy="3538.3" rx="12.4" ry="12.4" fill="none" stroke="#000" stroke-width="3.5"/>
<ellipse cx="668.2" cy="3538.3" rx="7.5" ry="7.5" fill="none" stroke="#000" stroke-width="3.5"/>
<ellipse cx="456.7" cy="3422.4" rx="7.5" ry="7.5" fill="none" stroke="#000" stroke-width="3.5"/>
<ellipse cx="456.7" cy="3422.4" rx="3.7" ry="3.7" fill="none" stroke="#000" stroke-width="3.5"/>
<ellipse cx="469.5" cy="3520.5" rx="7.5" ry="7.5" fill="none" stroke="#000" stroke-width="3.5"/>
<ellipse cx="469.5" cy="3520.5" rx="3.7" ry="3.7" fill="none" stroke="#000" stroke-width="3.5"/>
<ellipse cx="554.4" cy="3343.7" rx="8.3" ry="8.3" fill="none" stroke="#000" stroke-width="3.5"/>
<ellipse cx="554.4" cy="3343.7" rx="4.1" ry="4.1" fill="none" stroke="#000" stroke-width="3.5"/>
<ellipse cx="804.4" cy="3189.3" rx="8.3" ry="8.3" fill="none" stroke="#000" stroke-width="3.5"/>
<ellipse cx="804.4" cy="3189.3" rx="4.1" ry="4.1" fill="none" stroke="#000" stroke-width="3.5"/>
<ellipse cx="916.2" cy="3284.5" rx="8.3" ry="8.3" fill="none" stroke="#000" stroke-width="3.5"/>
<ellipse cx="916.2" cy="3284.5" rx="4.1" ry="4.1" fill="none" stroke="#000" stroke-width="3.5"/>
<ellipse cx="580.1" cy="3562.7" rx="9.1" ry="9.1" fill="none" stroke="#000" stroke-width="3.5"/>
<ellipse cx="580.1" cy="3562.7" rx="5" ry="5" fill="none" stroke="#000" stroke-width="3.5"/>
<ellipse cx="604.1" cy="3576.4" rx="8.3" ry="8.3" fill="none" stroke="#000" stroke-width="3.5"/>
<ellipse cx="604.1" cy="3576.4" rx="4.1" ry="4.1" fill="none" stroke="#000" stroke-width="3.5"/>
<ellipse cx="708.4" cy="3632.3" rx="12.4" ry="12.4" fill="none" stroke="#000" stroke-width="3.5"/>
<ellipse cx="708.4" cy="3632.3" rx="7.5" ry="7.5" fill="none" stroke="#000" stroke-width="3.5"/>
<circle cx="708.4" cy="3632.3" r="3.3" fill="#000"/>
<ellipse cx="740.3" cy="3623.2" rx="7.5" ry="7.5" fill="none" stroke="#000" stroke-width="3.5"/>
<ellipse cx="740.3" cy="3623.2" rx="3.7" ry="3.7" fill="none" stroke="#000" stroke-width="3.5"/>
<ellipse cx="799.5" cy="3633.1" rx="14.5" ry="14.5" fill="none" stroke="#000" stroke-width="3.5"/>
<ellipse cx="799.5" cy="3633.1" rx="9.1" ry="9.1" fill="none" stroke="#000" stroke-width="3.5"/>
<ellipse cx="799.5" cy="3633.1" rx="4.1" ry="4.1" fill="none" stroke="#000" stroke-width="3.5"/>
<ellipse cx="834.7" cy="3640.5" rx="8.3" ry="8.3" fill="none" stroke="#000" stroke-width="3.5"/>
<ellipse cx="834.7" cy="3640.5" rx="4.1" ry="4.1" fill="none" stroke="#000" stroke-width="3.5"/>
<ellipse cx="727" cy="3688.1" rx="12.4" ry="12.4" fill="none" stroke="#000" stroke-width="3.5"/>
<ellipse cx="727" cy="3688.1" rx="6.2" ry="6.2" fill="none" stroke="#000" stroke-width="3.5"/>
<ellipse cx="828.4" cy="3710.9" rx="8.3" ry="8.3" fill="none" stroke="#000" stroke-width="3.5"/>
<ellipse cx="828.4" cy="3710.9" rx="4.1" ry="4.1" fill="none" stroke="#000" stroke-width="3.5"/>
<ellipse cx="927.8" cy="3675.7" rx="8.3" ry="8.3" fill="none" stroke="#000" stroke-width="3.5"/>
<ellipse cx="927.8" cy="3675.7" rx="4.1" ry="4.1" fill="none" stroke="#000" stroke-width="3.5"/>
<ellipse cx="965.1" cy="3688.1" rx="8.3" ry="8.3" fill="none" stroke="#000" stroke-width="3.5"/>
<ellipse cx="965.1" cy="3688.1" rx="4.1" ry="4.1" fill="none" stroke="#000" stroke-width="3.5"/>
<ellipse cx="942.3" cy="3549.5" rx="8.3" ry="8.3" fill="none" stroke="#000" stroke-width="3.5"/>
<ellipse cx="942.3" cy="3549.5" rx="4.1" ry="4.1" fill="none" stroke="#000" stroke-width="3.5"/>
<ellipse cx="954.7" cy="3568.1" rx="5" ry="5" fill="none" stroke="#000" stroke-width="3.5"/>
<ellipse cx="1016.8" cy="3537.1" rx="7.5" ry="7.5" fill="none" stroke="#000" stroke-width="3.5"/>
<ellipse cx="1016.8" cy="3537.1" rx="3.7" ry="3.7" fill="none" stroke="#000" stroke-width="3.5"/>
<ellipse cx="1012.7" cy="3717.1" rx="8.3" ry="8.3" fill="none" stroke="#000" stroke-width="3.5"/>
<ellipse cx="1012.7" cy="3717.1" rx="4.1" ry="4.1" fill="none" stroke="#000" stroke-width="3.5"/>
<ellipse cx="1047.8" cy="3576.4" rx="11.6" ry="11.6" fill="none" stroke="#000" stroke-width="3.5"/>
<ellipse cx="1047.8" cy="3576.4" rx="5.8" ry="5.8" fill="none" stroke="#000" stroke-width="3.5"/>
<ellipse cx="1047.8" cy="3702.6" rx="11.6" ry="11.6" fill="none" stroke="#000" stroke-width="3.5"/>
<ellipse cx="1047.8" cy="3702.6" rx="5.8" ry="5.8" fill="none" stroke="#000" stroke-width="3.5"/>
<ellipse cx="1062.3" cy="3492.8" rx="12.4" ry="12.4" fill="none" stroke="#000" stroke-width="3.5"/>
<ellipse cx="1062.3" cy="3492.8" rx="6.2" ry="6.2" fill="none" stroke="#000" stroke-width="3.5"/>
<ellipse cx="1093.4" cy="3414.9" rx="10.3" ry="10.3" fill="none" stroke="#000" stroke-width="3.5"/>
<ellipse cx="1093.4" cy="3414.9" rx="5" ry="5" fill="none" stroke="#000" stroke-width="3.5"/>
<ellipse cx="931.9" cy="3505.2" rx="5.8" ry="5.8" fill="none" stroke="#000" stroke-width="3.5"/>
<ellipse cx="855.4" cy="3621.9" rx="5" ry="5" fill="none" stroke="#000" stroke-width="3.5"/>
<ellipse cx="613.2" cy="3347.9" rx="5.8" ry="5.8" fill="none" stroke="#000" stroke-width="3.5"/>
<ellipse cx="863.6" cy="3750.2" rx="13.2" ry="13.2" fill="none" stroke="#000" stroke-width="3.5"/>
<path d="M851.2 3750.2L876.1 3750.2" fill="none" stroke="#000" stroke-width="3.5" stroke-linecap="round" stroke-linejoin="round"/>
<path d="M629.7 3350.8L677.4 3388M766.4 3381.8L807.7 3336.3M652.5 3580.5L689.8 3626.1" fill="none" stroke="#000" stroke-width="5" stroke-linecap="round" stroke-linejoin="round"/>
<path d="M528.3 3388L648.4 3421.1M536.6 3398.4L644.2 3428.2M582.1 3510.1L638 3481.2M588.4 3519.3L644.2 3488.6M814 3489.4L859.5 3539.1M805.7 3497.7L851.2 3547.4M834.7 3381.8L892.6 3361.1M838.8 3390.9L896.8 3370.2M900.9 3365.3L934 3340.4M907.1 3373.5L940.2 3347.9M772.6 3187.3L760.1 3357M793.3 3220.4L764.3 3357M511.8 3394.2L524.2 3435.6M520 3392.2L532.5 3431.5M660.8 3576.4L698.1 3613.6M656.7 3572.2L855.4 3572.2M689.8 3626.1L706.3 3617.8M588.4 3344.6C593.5 3335.6 607.3 3313.9 615.3 3307.3C623.2 3300.7 630.8 3303.2 636 3305.2C641.1 3307.3 645.6 3314.5 646.3 3319.7C647 3324.9 645.3 3327.3 640.1 3336.3C634.9 3345.3 622.8 3367.3 615.3 3373.5C607.7 3379.7 599.7 3375.6 594.6 3373.5C589.4 3371.5 585.2 3365.9 584.2 3361.1C583.2 3356.3 583.2 3353.5 588.4 3344.6ZM913.3 3468.7C918.1 3463.6 925 3459.1 934 3458.4C943 3457.7 960.2 3460.8 967.1 3464.6C974 3468.4 975.4 3471.5 975.4 3481.2C975.4 3490.8 971.3 3514.3 967.1 3522.6C963 3530.8 958.2 3529.8 950.6 3530.8C943 3531.9 929.5 3531.5 921.6 3528.8C913.7 3526 905.7 3520.8 903 3514.3C900.2 3507.7 903.3 3497 905 3489.4C906.8 3481.9 908.5 3473.9 913.3 3468.7ZM909.2 3421.1L913.3 3406.7L929.9 3396.3L946.4 3402.5L952.6 3421.1ZM903 3423.2C903.6 3419.1 902.6 3404.6 907.1 3398.4C911.6 3392.2 922.6 3386.6 929.9 3386C937.1 3385.3 945.4 3388 950.6 3394.2C955.7 3400.4 968.8 3418.4 960.9 3423.2C953 3428 912.6 3423.2 903 3423.2M838.8 3584.7C842.2 3577.1 847.1 3573.6 855.4 3572.2C863.6 3570.9 876.1 3576.4 888.5 3576.4C900.9 3576.4 920.9 3571.5 929.9 3572.2C938.8 3572.9 935.4 3575 942.3 3580.5C949.2 3586 967.1 3590.9 971.3 3605.4C975.4 3619.8 970.6 3653.6 967.1 3667.4C963.7 3681.2 956.1 3682.6 950.6 3688.1C945 3693.7 940.9 3699.2 934 3700.6C927.1 3701.9 916.8 3698.5 909.2 3696.4C901.6 3694.4 896.1 3688.8 888.5 3688.1C880.9 3687.5 870.5 3693 863.6 3692.3C856.7 3691.6 851.2 3691.6 847.1 3684C842.9 3676.4 842.9 3655 838.8 3646.8C834.7 3638.5 822.9 3639.2 822.2 3634.3C821.5 3629.5 831.9 3626.1 834.7 3617.8C837.4 3609.5 835.3 3592.2 838.8 3584.7ZM851.2 3653L884.3 3653L884.3 3688.1L851.2 3688.1ZM847.1 3650.9L888.5 3617.8L934 3621.9M867.8 3580.5C879.5 3579.8 925.7 3575.7 938.1 3576.4C950.6 3577.1 950.6 3582.6 942.3 3584.7C934 3586.7 898.1 3586 888.5 3588.8C878.8 3591.6 885 3599.1 884.3 3601.2M797.4 3663.3C799.8 3657.8 807.7 3655 814 3655C820.2 3655 831.2 3657.8 834.7 3663.3C838.1 3668.8 838.1 3682.6 834.7 3688.1C831.2 3693.7 819.8 3696.4 814 3696.4C808.1 3696.4 802.2 3693.7 799.5 3688.1C796.7 3682.6 795 3668.8 797.4 3663.3ZM797.4 3390.1C798.8 3392.9 800.2 3404.6 805.7 3406.7C811.2 3408.7 825 3401.1 830.5 3402.5C836 3403.9 838.8 3410.8 838.8 3414.9C838.8 3419.1 835.3 3425.3 830.5 3427.4C825.7 3429.4 814.6 3429.4 809.8 3427.4C805 3425.3 802.9 3417 801.5 3414.9M789.1 3307.3C790.5 3309.4 793.3 3318.3 797.4 3319.7C801.5 3321.1 811.2 3316.3 814 3315.6M838.8 3286.6C840.9 3284.5 847.1 3274.9 851.2 3274.2C855.4 3273.5 857.4 3280.4 863.6 3282.5C869.8 3284.5 883 3288 888.5 3286.6C894 3285.2 895.4 3276.3 896.8 3274.2M685.6 3191.4C684.9 3193.5 679.4 3202.1 681.5 3203.8C683.6 3205.5 687 3208.6 698.1 3201.7C709.1 3194.8 739.4 3169 747.7 3162.4M743.6 3174.8C745 3177.6 747 3189.3 751.9 3191.4C756.7 3193.5 769.1 3187.9 772.6 3187.3M785 3212.1C787.1 3215.5 792.6 3228.7 797.4 3232.8C802.2 3236.9 809.1 3237.6 814 3236.9C818.8 3236.2 824.3 3230 826.4 3228.7M565.6 3580.5L565.6 3704.7M575.9 3580.5L575.9 3700.6M602.8 3588.8L602.8 3692.3M559.4 3713L573.9 3702.6L598.7 3696.4M607 3611.6L623.5 3611.6L623.5 3663.3M623.5 3615.7L685.6 3615.7M565.6 3580.5L602.8 3588.8M946.4 3332.1C948.5 3340.4 953.3 3370.8 958.8 3381.8C964.4 3392.9 972.6 3392.9 979.5 3398.4C986.4 3403.9 996.1 3408 1000.2 3414.9C1004.4 3421.8 1007.8 3434.3 1004.4 3439.8C1000.9 3445.3 982.3 3441.2 979.5 3448.1C976.8 3454.9 984.4 3468.7 987.8 3481.2C991.3 3493.6 996.8 3511.5 1000.2 3522.6C1003.7 3533.6 1008.5 3537.7 1008.5 3547.4C1008.5 3557.1 1003.7 3570.9 1000.2 3580.5C996.8 3590.2 991.3 3590.9 987.8 3605.4C984.4 3619.8 982.3 3653.6 979.5 3667.4C976.8 3681.2 972.6 3684.7 971.3 3688.1M951.2 3330.9C953.3 3339 958.1 3369 963.3 3379.6C968.5 3390.2 975.8 3389 982.6 3394.5C989.5 3400 1000.2 3404.4 1004.5 3412.4C1008.8 3420.4 1012 3436.2 1008.6 3442.4C1005.2 3448.7 986.8 3443.7 984.2 3449.9C981.5 3456.1 989.1 3468 992.6 3479.8C996.1 3491.7 1001.5 3509.8 1005 3521.1C1008.5 3532.3 1013.5 3537.2 1013.5 3547.4C1013.5 3557.6 1008.4 3572.3 1004.9 3582.2C1001.4 3592 996.1 3592.1 992.7 3606.5C989.2 3620.9 987.2 3654.5 984.4 3668.4C981.6 3682.3 977.3 3686.4 975.9 3690M983.7 3328C983 3330.8 983.7 3341.1 979.5 3344.6C975.4 3348 962.3 3348 958.8 3348.7M1012.7 3394.2C1016.8 3395.6 1029.2 3403.2 1037.5 3402.5C1045.8 3401.8 1055.4 3399.1 1062.3 3390.1C1069.2 3381.1 1076.1 3362.5 1078.9 3348.7C1081.7 3334.9 1076.1 3317 1078.9 3307.3C1081.7 3297.6 1092.7 3293.5 1095.5 3290.7M1008.5 3386C1013.7 3387.3 1031.3 3394.9 1039.6 3394.2C1047.8 3393.5 1052.7 3390.1 1058.2 3381.8C1063.7 3373.5 1070.3 3357.7 1072.7 3344.6C1075.1 3331.5 1070.3 3313.5 1072.7 3303.2C1075.1 3292.8 1084.8 3285.9 1087.2 3282.5M1029.2 3477C1030.6 3473.6 1032 3461.8 1037.5 3456.3C1043 3450.8 1051.9 3446.7 1062.3 3443.9C1072.8 3441.2 1093.7 3440.5 1100 3439.8M1029.2 3477C1029.9 3481.2 1029.2 3494.3 1033.4 3501.9C1037.5 3509.5 1046.5 3519.8 1054.1 3522.6C1061.6 3525.3 1074.8 3519.1 1078.9 3518.4M1066.5 3477L1074.8 3460.5M731.2 3750.2C741.5 3756.1 779.5 3781.3 793.3 3785.4C807.1 3789.6 810.5 3776.8 814 3775.1M648.4 3663.3L656.7 3650.9L689.8 3646.8M756 3613.6C758.8 3612.9 760.1 3609.5 772.6 3609.5C785 3609.5 819.5 3610.9 830.5 3613.6C841.6 3616.4 837.4 3624 838.8 3626.1" fill="none" stroke="#000" stroke-width="3.5" stroke-linecap="round" stroke-linejoin="round"/>

<!-- 71_lhbox_E2.svg -->
<ellipse cx="1119.2" cy="3638.8" rx="120.9" ry="120.9" fill="none" stroke="#000" stroke-width="5.5"/>
<ellipse cx="1119.2" cy="3638.8" rx="113.4" ry="113.4" fill="none" stroke="#000" stroke-width="3.5"/>
<ellipse cx="1119.2" cy="3638.8" rx="80.7" ry="80.7" fill="none" stroke="#000" stroke-width="3.6"/>
<ellipse cx="1119.2" cy="3638.8" rx="89" ry="89" fill="none" stroke="#000" stroke-width="3.5"/>
<ellipse cx="1047.6" cy="3576.7" rx="12.4" ry="12.4" fill="none" stroke="#000" stroke-width="3.5"/>
<ellipse cx="1047.6" cy="3576.7" rx="6.2" ry="6.2" fill="none" stroke="#000" stroke-width="3.5"/>
<ellipse cx="1188.4" cy="3576.7" rx="12.4" ry="12.4" fill="none" stroke="#000" stroke-width="3.5"/>
<ellipse cx="1188.4" cy="3576.7" rx="6.2" ry="6.2" fill="none" stroke="#000" stroke-width="3.5"/>
<ellipse cx="1047.6" cy="3700.9" rx="12.4" ry="12.4" fill="none" stroke="#000" stroke-width="3.5"/>
<ellipse cx="1047.6" cy="3700.9" rx="6.2" ry="6.2" fill="none" stroke="#000" stroke-width="3.5"/>
<ellipse cx="1188.4" cy="3700.9" rx="12.4" ry="12.4" fill="none" stroke="#000" stroke-width="3.5"/>
<ellipse cx="1188.4" cy="3700.9" rx="6.2" ry="6.2" fill="none" stroke="#000" stroke-width="3.5"/>
<path d="M1049.7 3560.1C1055.2 3559.5 1071.1 3558.8 1082.8 3556C1094.5 3553.2 1106.2 3544.3 1120 3543.6C1133.8 3542.9 1155.2 3549.1 1165.6 3551.9C1175.9 3554.6 1179.4 3558.8 1182.1 3560.1M1053.8 3566.4C1058.6 3566 1071.8 3566.7 1082.8 3564.3C1093.8 3561.9 1106.9 3552.6 1120 3551.9C1133.2 3551.2 1154.5 3558.8 1161.4 3560.1M1120 3742.3C1122.1 3739.2 1130.4 3736.1 1136.6 3734C1142.8 3731.9 1153.5 3729.2 1157.3 3729.9C1161.1 3730.6 1162.1 3734.7 1159.4 3738.1C1156.6 3741.6 1146.6 3748.2 1140.7 3750.6C1134.9 3753 1127.6 3754 1124.2 3752.6C1120.7 3751.3 1118 3745.4 1120 3742.3ZM1244.2 3597.4C1244.9 3607.1 1246.3 3640.2 1248.4 3655.4C1250.4 3670.5 1256.7 3679.5 1256.7 3688.5C1256.7 3697.4 1252.5 3698.8 1248.4 3709.2C1244.2 3719.5 1236 3740.9 1231.8 3750.6C1227.7 3760.2 1227.7 3763.7 1223.5 3767.1C1219.4 3770.6 1212.5 3772.6 1207 3771.3C1201.5 3769.9 1193.2 3760.9 1190.4 3758.8M1250.4 3597.4C1251.1 3607.1 1252.7 3640.2 1254.6 3655.4C1256.4 3670.5 1261.8 3679.2 1261.6 3688.5C1261.4 3697.8 1257.6 3700.2 1253.3 3711.2C1249.1 3722.3 1238.9 3747.5 1236 3754.7M1240.1 3585C1239.4 3581.5 1234.6 3569.8 1236 3564.3C1237.3 3558.8 1243.5 3550.5 1248.4 3551.9C1253.2 3553.2 1263.6 3565 1264.9 3572.6C1266.3 3580.2 1260.1 3593.3 1256.7 3597.4C1253.2 3601.5 1246.3 3597.4 1244.2 3597.4" fill="none" stroke="#000" stroke-width="3.5" stroke-linecap="round" stroke-linejoin="round"/>
<circle cx="1248.4" cy="3575.9" r="9.1" fill="#000"/>
<ellipse cx="1248.4" cy="3575.9" rx="15.7" ry="15.7" fill="none" stroke="#000" stroke-width="3.5"/>
<circle cx="1211.9" cy="3749.7" r="9.1" fill="#000"/>
<ellipse cx="1211.9" cy="3749.7" rx="14.9" ry="14.9" fill="none" stroke="#000" stroke-width="3.5"/>
<circle cx="1061.3" cy="3785.8" r="8.3" fill="#000"/>
<ellipse cx="1061.3" cy="3785.8" rx="14.1" ry="14.1" fill="none" stroke="#000" stroke-width="3.5"/>
<path d="M1000 3787.8C1005.5 3787.1 1025.5 3786.1 1033.1 3783.7C1040.7 3781.3 1040.7 3775.5 1045.5 3773.3C1050.4 3771.1 1056.6 3769.7 1062.1 3770.4C1067.6 3771.1 1073.1 3777 1078.7 3777.5C1084.2 3778 1080.7 3775.7 1095.2 3773.3C1109.7 3770.9 1149.7 3765.4 1165.6 3763C1181.5 3760.6 1186.3 3759.5 1190.4 3758.8M1000 3794C1005.5 3793.3 1025.5 3789.5 1033.1 3789.9C1040.7 3790.2 1040.7 3794 1045.5 3796.1C1050.4 3798.2 1056.6 3802.3 1062.1 3802.3C1067.6 3802.3 1073.1 3799.9 1078.7 3796.1C1084.2 3792.3 1092.5 3782.3 1095.2 3779.5" fill="none" stroke="#000" stroke-width="3.5" stroke-linecap="round" stroke-linejoin="round"/>
<ellipse cx="1238" cy="3692.6" rx="9.9" ry="9.9" fill="none" stroke="#000" stroke-width="3.5"/>
<ellipse cx="1238" cy="3692.6" rx="5" ry="5" fill="none" stroke="#000" stroke-width="3.5"/>
<ellipse cx="1012.4" cy="3717.4" rx="7.5" ry="7.5" fill="none" stroke="#000" stroke-width="3.5"/>
<ellipse cx="1012.4" cy="3717.4" rx="3.7" ry="3.7" fill="none" stroke="#000" stroke-width="3.5"/>
<ellipse cx="1017.4" cy="3537.4" rx="8.3" ry="8.3" fill="none" stroke="#000" stroke-width="3.5"/>
<ellipse cx="1017.4" cy="3537.4" rx="4.1" ry="4.1" fill="none" stroke="#000" stroke-width="3.5"/>
<ellipse cx="1102.7" cy="3508.4" rx="9.1" ry="9.1" fill="none" stroke="#000" stroke-width="3.5"/>
<ellipse cx="1102.7" cy="3508.4" rx="4.6" ry="4.6" fill="none" stroke="#000" stroke-width="3.5"/>
<path d="M1264.9 3551.9C1269.1 3554.6 1285.6 3558.8 1289.8 3568.4C1293.9 3578.1 1295.3 3598.8 1289.8 3609.8C1284.3 3620.9 1263.6 3628.4 1256.7 3634.7C1249.8 3640.9 1249.8 3645 1248.4 3647.1M1258.7 3638.8L1258.7 3688.5" fill="none" stroke="#000" stroke-width="3.5" stroke-linecap="round" stroke-linejoin="round"/>
<ellipse cx="1161.4" cy="3357.3" rx="66.2" ry="66.2" fill="none" stroke="#000" stroke-width="3.5"/>
<path d="M1144.9 3431.8C1142.8 3436 1134.5 3447 1132.5 3456.7C1130.4 3466.3 1130.7 3480.1 1132.5 3489.8C1134.2 3499.4 1141.1 3510.5 1142.8 3514.6M1148.6 3433.7C1146.6 3437.6 1138.5 3448.3 1136.5 3457.5C1134.5 3466.8 1134.9 3479.8 1136.5 3489C1138.2 3498.3 1145 3509 1146.6 3513M1209 3413.2C1213.5 3417 1229.4 3426.6 1236 3436C1242.5 3445.3 1247.7 3458 1248.4 3469.1C1249.1 3480.1 1245.6 3493.2 1240.1 3502.2C1234.6 3511.2 1222.8 3518.1 1215.3 3522.9C1207.7 3527.7 1198 3529.8 1194.6 3531.2M1206.4 3416.3C1210.7 3420 1226.3 3429.5 1232.6 3438.3C1238.9 3447.2 1243.6 3459.1 1244.2 3469.3C1244.9 3479.6 1241.8 3491.7 1236.6 3500C1231.4 3508.4 1220.3 3514.8 1213 3519.4C1205.8 3523.9 1196.4 3526 1193 3527.3M1031 3464.9C1033.5 3462.2 1039.3 3452.5 1045.5 3448.4C1051.7 3444.2 1060.7 3440.1 1068.3 3440.1C1075.9 3440.1 1084.9 3443.5 1091.1 3448.4C1097.3 3453.2 1102.8 3460.8 1105.6 3469.1C1108.3 3477.4 1108.7 3490.5 1107.6 3498.1C1106.6 3505.6 1100.7 3511.8 1099.4 3514.6M1027.9 3462.2C1030.5 3459.3 1036.5 3449.3 1043.2 3444.9C1050 3440.6 1059.9 3435.9 1068.3 3436C1076.7 3436 1086.7 3439.8 1093.6 3445.1C1100.5 3450.4 1106.5 3458.8 1109.5 3467.8C1112.5 3476.7 1112.8 3490.5 1111.7 3498.6C1110.7 3506.7 1104.5 3513.5 1103.1 3516.5M1031 3464.9C1030.4 3469.1 1025.9 3481.5 1026.9 3489.8C1027.9 3498.1 1032.1 3508.7 1037.3 3514.6C1042.4 3520.5 1054.5 3523.2 1058 3525" fill="none" stroke="#000" stroke-width="3.5" stroke-linecap="round" stroke-linejoin="round"/>
<ellipse cx="1062.9" cy="3493.1" rx="13.2" ry="13.2" fill="none" stroke="#000" stroke-width="3.5"/>
<ellipse cx="1062.9" cy="3493.1" rx="6.6" ry="6.6" fill="none" stroke="#000" stroke-width="3.5"/>
<path d="M1066.2 3481.5L1074.5 3462.9M1071.2 3483.6L1079.5 3464.9" fill="none" stroke="#000" stroke-width="3.5" stroke-linecap="round" stroke-linejoin="round"/>
<ellipse cx="1124.2" cy="3324.2" rx="12.4" ry="12.4" fill="none" stroke="#000" stroke-width="3.5"/>
<ellipse cx="1124.2" cy="3324.2" rx="7.5" ry="7.5" fill="none" stroke="#000" stroke-width="3.5"/>
<ellipse cx="1200.8" cy="3323.4" rx="12.4" ry="12.4" fill="none" stroke="#000" stroke-width="3.5"/>
<ellipse cx="1200.8" cy="3323.4" rx="7.5" ry="7.5" fill="none" stroke="#000" stroke-width="3.5"/>
<ellipse cx="1153.2" cy="3387.1" rx="14.5" ry="14.5" fill="none" stroke="#000" stroke-width="3.5"/>
<ellipse cx="1153.2" cy="3387.1" rx="9.1" ry="9.1" fill="none" stroke="#000" stroke-width="3.5"/>
<ellipse cx="1153.2" cy="3387.1" rx="4.6" ry="4.6" fill="none" stroke="#000" stroke-width="3.5"/>
<ellipse cx="1095.2" cy="3415.3" rx="12.4" ry="12.4" fill="none" stroke="#000" stroke-width="3.5"/>
<ellipse cx="1095.2" cy="3415.3" rx="5" ry="5" fill="none" stroke="#000" stroke-width="3.5"/>
<ellipse cx="1228.5" cy="3455.8" rx="6.6" ry="6.6" fill="none" stroke="#000" stroke-width="3.5"/>
<circle cx="1098.5" cy="3277.8" r="7.5" fill="#000"/>
<ellipse cx="1098.5" cy="3277.8" rx="14.1" ry="14.1" fill="none" stroke="#000" stroke-width="3.5"/>
<circle cx="1228.5" cy="3286.1" r="7.5" fill="#000"/>
<ellipse cx="1228.5" cy="3286.1" rx="12.4" ry="12.4" fill="none" stroke="#000" stroke-width="3.5"/>
<circle cx="1313.4" cy="3345.7" r="9.1" fill="#000"/>
<ellipse cx="1313.4" cy="3345.7" rx="16.6" ry="16.6" fill="none" stroke="#000" stroke-width="3.5"/>
<circle cx="1293.9" cy="3472" r="8.3" fill="#000"/>
<ellipse cx="1293.9" cy="3472" rx="15.7" ry="15.7" fill="none" stroke="#000" stroke-width="3.5"/>
<ellipse cx="1264.9" cy="3331.6" rx="16.6" ry="16.6" fill="none" stroke="#000" stroke-width="3.5"/>
<ellipse cx="1264.9" cy="3331.6" rx="11.6" ry="11.6" fill="none" stroke="#000" stroke-width="3.5"/>
<ellipse cx="1264.9" cy="3331.6" rx="6.6" ry="6.6" fill="none" stroke="#000" stroke-width="3.5"/>
<ellipse cx="1285.6" cy="3298.5" rx="12.4" ry="12.4" fill="none" stroke="#000" stroke-width="3.5"/>
<ellipse cx="1285.6" cy="3298.5" rx="5.8" ry="5.8" fill="none" stroke="#000" stroke-width="3.5"/>
<path d="M1082.8 3278.7C1083.8 3276.6 1086.2 3269 1089 3266.2C1091.8 3263.5 1095.6 3261.7 1099.4 3262.1C1103.1 3262.4 1105.6 3267.6 1111.8 3268.3C1118 3269 1126.3 3267.3 1136.6 3266.2C1147 3265.2 1162.1 3261.4 1173.9 3262.1C1185.6 3262.8 1199.4 3268 1207 3270.4C1214.6 3272.8 1214.6 3276.2 1219.4 3276.6C1224.2 3276.9 1231.1 3271.8 1236 3272.4C1240.8 3273.1 1242.9 3279 1248.4 3280.7C1253.9 3282.4 1265.6 3282.4 1269.1 3282.8M1089 3299.4C1092.1 3296.6 1099.7 3286.9 1107.6 3282.8C1115.6 3278.7 1125.6 3276.4 1136.6 3274.5C1147.6 3272.6 1162.1 3270.2 1173.9 3271.2C1185.6 3272.2 1198.7 3276.7 1207 3280.7C1215.3 3284.7 1218 3292.8 1223.5 3295.2C1229.1 3297.6 1236 3295.9 1240.1 3295.2C1244.2 3294.5 1247 3291.8 1248.4 3291.1M1000 3324.2L1078.7 3282.8M1000 3328.3L1080.7 3289M1082.8 3278.7C1083.5 3282.1 1087.6 3292.5 1086.9 3299.4C1086.2 3306.2 1080.7 3309 1078.7 3320C1076.6 3331.1 1076.6 3353.9 1074.5 3365.6C1072.4 3377.3 1074.5 3382.8 1066.2 3390.4C1058 3398 1035.9 3409.7 1024.8 3411.1C1013.8 3412.5 1004.1 3400.8 1000 3398.7M1089 3299.4C1087.6 3303.5 1082.4 3313.1 1080.7 3324.2C1079 3335.2 1080.4 3353.9 1078.7 3365.6C1076.9 3377.3 1078.7 3386.3 1070.4 3394.6C1062.1 3402.8 1040.7 3413.5 1029 3415.3C1017.2 3417 1004.8 3406.6 1000 3404.9M1300.1 3246.8L1333.2 3276.6L1306.3 3311.8L1273.2 3282.8ZM1285.6 3273.7L1310.5 3294.4L1297.2 3313.8L1271.1 3293.1ZM1306.3 3309.7C1310.5 3310.7 1322.2 3310.4 1331.2 3315.9C1340.1 3321.4 1349.8 3335.2 1360.1 3342.8C1370.5 3350.4 1384.3 3354.2 1393.3 3361.4C1402.2 3368.7 1410.5 3377.3 1414 3386.3C1417.4 3395.3 1417.4 3406.3 1414 3415.3C1410.5 3424.2 1405.7 3429.7 1393.3 3440.1C1380.8 3450.4 1351.2 3469.1 1339.4 3477.4C1327.7 3485.6 1331.2 3485.6 1322.9 3489.8C1314.6 3493.9 1298.7 3496 1289.8 3502.2C1280.8 3508.4 1273.2 3518.7 1269.1 3527C1264.9 3535.3 1265.6 3547.7 1264.9 3551.9M1314.6 3320C1318.1 3320.7 1327 3319 1335.3 3324.2C1343.6 3329.4 1353.9 3343.5 1364.3 3351.1C1374.6 3358.7 1390.2 3363.5 1397.4 3369.7C1404.6 3375.9 1406 3381.1 1407.7 3388.4C1409.5 3395.6 1410.9 3405.3 1407.7 3413.2C1404.6 3421.1 1400.8 3426.3 1389.1 3436C1377.4 3445.6 1349.1 3462.9 1337.4 3471.1C1325.6 3479.4 1327.4 3481.1 1318.7 3485.6C1310.1 3490.1 1294.6 3491.5 1285.6 3498.1C1276.7 3504.6 1269.2 3516 1264.9 3525C1260.7 3533.9 1260.8 3547.4 1260 3551.9M1296 3320L1258.7 3572.6M1227.7 3336.6L1248.4 3332.5M1227.7 3336.6C1227.3 3347 1228.7 3385.9 1225.6 3398.7C1222.5 3411.5 1211.8 3410.8 1209 3413.2" fill="none" stroke="#000" stroke-width="3.5" stroke-linecap="round" stroke-linejoin="round"/>
<ellipse cx="1372.6" cy="3400.8" rx="43.5" ry="43.5" fill="none" stroke="#000" stroke-width="4"/>
<ellipse cx="1372.6" cy="3400.8" rx="16.6" ry="16.6" fill="none" stroke="#000" stroke-width="4"/>
<ellipse cx="1372.6" cy="3400.8" rx="35.2" ry="35.2" fill="none" stroke="#000" stroke-width="3.5"/>
<path d="M1285.6 3431.8C1287 3424.6 1293.2 3419.4 1298.1 3417.3C1302.9 3415.3 1310.5 3416.3 1314.6 3419.4C1318.7 3422.5 1322.9 3430.4 1322.9 3436C1322.9 3441.5 1317.4 3447.7 1314.6 3452.5C1311.8 3457.3 1310.5 3463.6 1306.3 3464.9C1302.2 3466.3 1293.2 3466.3 1289.8 3460.8C1286.3 3455.3 1284.3 3439.1 1285.6 3431.8ZM1198.7 3531.2C1200.1 3533.2 1202.8 3538.1 1207 3543.6C1211.1 3549.1 1218.4 3555.3 1223.5 3564.3C1228.7 3573.3 1235.6 3591.9 1238 3597.4M1000 3431.8C1002.1 3434.6 1011 3440.1 1012.4 3448.4C1013.8 3456.7 1010.3 3474.6 1008.3 3481.5C1006.2 3488.4 1001.4 3488.4 1000 3489.8" fill="none" stroke="#000" stroke-width="3.5" stroke-linecap="round" stroke-linejoin="round"/>
<ellipse cx="1161.4" cy="3357.3" rx="71.2" ry="71.2" fill="none" stroke="#000" stroke-width="3.5"/>

<!-- 72_lhbox_top.svg -->
<path d="M681.2 3088.4C682.2 3087 683.7 3081.3 687.1 3079.6C690.6 3077.8 698 3077.1 701.9 3078.1C705.9 3079.1 707.3 3084.2 710.8 3085.5C714.2 3086.7 719.2 3084 722.6 3085.5C726.1 3087 730.3 3090.7 731.5 3094.4C732.7 3098 730.3 3105.4 730 3107.7M681.2 3088.4C681.7 3091.4 685.7 3101.3 684.2 3106.2C682.7 3111.1 675.8 3114.1 672.4 3118C668.9 3121.9 665.5 3125.9 663.5 3129.8C661.5 3133.8 665.5 3135.3 660.5 3141.7C655.6 3148.1 640.3 3163.3 633.9 3168.3C627.5 3173.2 624.1 3170.7 622.1 3171.2M688.6 3089.9C689.1 3092.4 689.9 3103.5 691.6 3104.7C693.3 3105.9 696.8 3100 699 3097.3C701.2 3094.6 703.9 3089.9 704.9 3088.4" fill="none" stroke="#000" stroke-width="3.5" stroke-linecap="round" stroke-linejoin="round"/>
<ellipse cx="716.7" cy="3099.7" rx="6.5" ry="6.5" fill="none" stroke="#000" stroke-width="3.5"/>
<ellipse cx="716.7" cy="3099.7" rx="3.3" ry="3.3" fill="none" stroke="#000" stroke-width="3.5"/>
<ellipse cx="702.5" cy="3142.3" rx="20.1" ry="20.1" fill="none" stroke="#000" stroke-width="4.5"/>
<path d="M672.4 3138.7C673.3 3131.3 678.3 3122.2 684.2 3118C690.1 3113.8 700.9 3112.1 707.8 3113.6C714.7 3115.1 721.9 3121.2 725.6 3126.9C729.3 3132.5 731 3141.2 730 3147.6C729 3154 724.8 3161.9 719.7 3165.3C714.5 3168.8 705.9 3168.8 699 3168.3C692.1 3167.8 682.7 3167.3 678.3 3162.4C673.8 3157.4 671.4 3146.1 672.4 3138.7ZM730 3107.7L976.9 3317.6M727.1 3118.6L855.7 3227.4M767 3144.6L762.5 3150.5M790.6 3163.8L784.7 3171.2M837.9 3206.7L832 3215.6M743.3 3128.4L767 3147.6" fill="none" stroke="#000" stroke-width="3.5" stroke-linecap="round" stroke-linejoin="round"/>
<ellipse cx="803.9" cy="3189" rx="8.3" ry="8.3" fill="none" stroke="#000" stroke-width="3.5"/>
<ellipse cx="803.9" cy="3189" rx="4.1" ry="4.1" fill="none" stroke="#000" stroke-width="3.5"/>
<path d="M657.6 3138.7L642.8 3162.4M725.6 3153.5C727.6 3153 733.5 3150 737.4 3150.5C741.4 3151 748.3 3152.5 749.2 3156.4C750.2 3160.4 743.3 3168.8 743.3 3174.2C743.3 3179.6 745.8 3186.5 749.2 3189C752.7 3191.4 760.1 3190.4 764 3189C768 3187.5 771.4 3181.6 772.9 3180.1M772.9 3180.1L771.4 3203.8" fill="none" stroke="#000" stroke-width="3.5" stroke-linecap="round" stroke-linejoin="round"/>

<!-- 80_rhbox_F1.svg -->
<path d="M2516.8 3279C2503 3278.3 2468.5 3275.5 2434 3274.8C2399.5 3274.1 2342.9 3272.8 2309.8 3274.8C2276.7 3276.9 2254.6 3282.4 2235.3 3287.3C2215.9 3292.1 2202.1 3301.7 2193.9 3303.8C2185.6 3305.9 2188.7 3301.7 2185.6 3299.7C2182.5 3297.6 2179.4 3292.8 2175.2 3291.4C2171.1 3290 2164.5 3289.7 2160.7 3291.4C2157 3293.1 2153.2 3296.2 2152.5 3301.7C2151.8 3307.3 2161.4 3314.5 2156.6 3324.5C2151.8 3334.5 2133.8 3346.6 2123.5 3361.8C2113.1 3376.9 2102.8 3397.6 2094.5 3415.6C2086.2 3433.5 2079.3 3452.1 2073.8 3469.4C2068.3 3486.6 2064.2 3506 2061.4 3519.1C2058.6 3532.2 2060.7 3543.2 2057.3 3548.1C2053.8 3552.9 2045.2 3546.3 2040.7 3548.1C2036.2 3549.8 2031 3554.3 2030.3 3558.4C2029.7 3562.5 2032.8 3569.4 2036.6 3572.9C2040.4 3576.3 2049 3577.7 2053.1 3579.1C2057.3 3580.5 2057.9 3573.9 2061.4 3581.2C2064.8 3588.4 2066.9 3606.7 2073.8 3622.6C2080.7 3638.4 2091.1 3660.5 2102.8 3676.4C2114.5 3692.2 2130.4 3705 2144.2 3717.8C2158 3730.5 2177.3 3744.7 2185.6 3753C2193.9 3761.2 2191.8 3762.3 2193.9 3767.4C2195.9 3772.6 2194.6 3780.6 2198 3784C2201.5 3787.5 2210.4 3789.2 2214.6 3788.1C2218.7 3787.1 2213.9 3778.5 2222.8 3777.8C2231.8 3777.1 2260.8 3783 2268.4 3784M2512.6 3291.4C2499.5 3290.7 2467.8 3287.8 2434 3287.3C2400.2 3286.7 2341.5 3286 2309.8 3288.1C2278 3290.2 2261.5 3294.6 2243.5 3299.7C2225.6 3304.7 2215.3 3310 2202.1 3318.3C2189 3326.6 2176.6 3337.3 2164.9 3349.4C2153.2 3361.4 2142.1 3374.9 2131.8 3390.7C2121.4 3406.6 2110.4 3426.6 2102.8 3444.6C2095.2 3462.5 2090.4 3481.1 2086.2 3498.4C2082.1 3515.6 2078.6 3532.9 2078 3548.1C2077.3 3563.2 2078 3573.6 2082.1 3589.4C2086.2 3605.3 2093.1 3625.3 2102.8 3643.3C2112.5 3661.2 2126.2 3681.9 2140 3697.1C2153.8 3712.3 2169.7 3724.7 2185.6 3734.3C2201.5 3744 2214.6 3749.5 2235.3 3755C2256 3760.5 2283.6 3763.3 2309.8 3767.4C2336 3771.6 2352.5 3774 2392.6 3779.9C2432.6 3785.7 2508.5 3797.1 2549.9 3802.6C2591.3 3808.2 2612.6 3809.2 2640.9 3813C2669.3 3816.8 2706.8 3823.3 2720 3825.4M2392.6 3308C2378.8 3308.3 2336 3306.6 2309.8 3310C2283.6 3313.5 2256 3319.3 2235.3 3328.7C2214.6 3338 2200.8 3351.4 2185.6 3365.9C2170.4 3380.4 2155.9 3398.3 2144.2 3415.6C2132.5 3432.8 2122.8 3452.1 2115.2 3469.4C2107.6 3486.6 2102.1 3503.2 2098.7 3519.1C2095.2 3534.9 2093.8 3548.7 2094.5 3564.6C2095.2 3580.5 2097.3 3597.7 2102.8 3614.3C2108.3 3630.8 2117.3 3648.8 2127.6 3664C2138 3679.1 2151.1 3693.6 2164.9 3705.4C2178.7 3717.1 2202.8 3729.5 2210.4 3734.3" fill="none" stroke="#000" stroke-width="3.5" stroke-linecap="round" stroke-linejoin="round"/>
<ellipse cx="2165.7" cy="3308" rx="6.6" ry="6.6" fill="none" stroke="#000" stroke-width="3.5"/>
<ellipse cx="2165.7" cy="3308" rx="3.3" ry="3.3" fill="none" stroke="#000" stroke-width="3.5"/>
<ellipse cx="2531.2" cy="3279.8" rx="6.6" ry="6.6" fill="none" stroke="#000" stroke-width="3.5"/>
<ellipse cx="2531.2" cy="3279.8" rx="3.3" ry="3.3" fill="none" stroke="#000" stroke-width="3.5"/>
<ellipse cx="2046.9" cy="3560.5" rx="6.6" ry="6.6" fill="none" stroke="#000" stroke-width="3.5"/>
<ellipse cx="2046.9" cy="3560.5" rx="3.3" ry="3.3" fill="none" stroke="#000" stroke-width="3.5"/>
<ellipse cx="2207.1" cy="3777" rx="6.6" ry="6.6" fill="none" stroke="#000" stroke-width="3.5"/>
<ellipse cx="2207.1" cy="3777" rx="3.3" ry="3.3" fill="none" stroke="#000" stroke-width="3.5"/>
<ellipse cx="2551.9" cy="3834.5" rx="6.6" ry="6.6" fill="none" stroke="#000" stroke-width="3.5"/>
<ellipse cx="2551.9" cy="3834.5" rx="3.3" ry="3.3" fill="none" stroke="#000" stroke-width="3.5"/>
<path d="M2516.8 3279C2517.8 3277.3 2519.5 3270.7 2523 3268.6C2526.4 3266.6 2533.3 3264.8 2537.4 3266.6C2541.6 3268.3 2544.3 3274.8 2547.8 3279C2551.2 3283.1 2549.5 3287.3 2558.1 3291.4C2566.8 3295.5 2572.6 3298.3 2599.5 3303.8C2626.5 3309.3 2699.9 3321.1 2720 3324.5M2512.6 3291.4C2520.2 3293.1 2523.6 3294.5 2558.1 3301.7C2592.7 3309 2693 3329.3 2720 3334.9M2309.8 3788.1L2533.3 3821.3L2537.4 3842L2549.9 3850.2L2566.4 3846.1L2574.7 3829.5L2720 3846.1" fill="none" stroke="#000" stroke-width="3.5" stroke-linecap="round" stroke-linejoin="round"/>
<ellipse cx="2311.8" cy="3531.5" rx="49.7" ry="49.7" fill="none" stroke="#000" stroke-width="4"/>
<ellipse cx="2311.8" cy="3531.5" rx="55.9" ry="55.9" fill="none" stroke="#000" stroke-width="3.5"/>
<path d="M2235.3 3514.9C2237 3509.8 2239.7 3493.2 2245.6 3483.9C2251.5 3474.6 2262.5 3464.6 2270.4 3459C2278.4 3453.5 2289.4 3452.1 2293.2 3450.8M2305.6 3448.7C2311.2 3449.4 2328.4 3448.7 2338.7 3452.8C2349.1 3457 2359.8 3465.3 2367.7 3473.5C2375.7 3481.8 2383.2 3497.7 2386.4 3502.5M2249.7 3519.1C2251.5 3513.9 2254.9 3496.3 2260.1 3488C2265.3 3479.7 2274.9 3473.5 2280.8 3469.4C2286.7 3465.3 2292.9 3464.2 2295.3 3463.2M2307.7 3463.2C2312.2 3463.9 2326.3 3464.2 2334.6 3467.3C2342.9 3470.4 2351.2 3475.3 2357.4 3481.8C2363.6 3488.4 2369.5 3502.5 2371.9 3506.7M2212.5 3552.2C2214.9 3557 2219.7 3571.5 2227 3581.2C2234.2 3590.8 2244.9 3602.6 2256 3610.1C2267 3617.7 2280.1 3623.6 2293.2 3626.7C2306.3 3629.8 2321.5 3630.8 2334.6 3628.8C2347.7 3626.7 2360.8 3622.2 2371.9 3614.3C2382.9 3606.3 2394.3 3592.2 2400.8 3581.2C2407.4 3570.1 2409.8 3557 2411.2 3548.1C2412.6 3539.1 2409.5 3530.8 2409.1 3527.4M2217.7 3549.6C2220 3554.3 2224.7 3568.4 2231.6 3577.7C2238.5 3587 2248.8 3598.1 2259.2 3605.4C2269.7 3612.6 2282.1 3618.1 2294.5 3621.1C2307 3624 2321.4 3625 2333.7 3623C2346 3621.1 2358.1 3617.1 2368.5 3609.6C2378.8 3602.1 2389.7 3588.6 2395.9 3578.2C2402 3567.8 2404.2 3555.5 2405.5 3547.2C2406.7 3538.8 2403.7 3531.1 2403.4 3527.9M2140 3510.8C2142.1 3515.6 2145.6 3534.6 2152.5 3539.8C2159.4 3544.9 2175.2 3539.8 2181.4 3541.8C2187.7 3543.9 2184.5 3524.9 2189.7 3552.2C2194.9 3579.4 2208.4 3679.1 2212.5 3705.4C2216.6 3731.6 2214.2 3708.8 2214.6 3709.5M2144.6 3508.8C2146.4 3513.3 2149 3531.1 2155.4 3535.8C2161.8 3540.5 2176.5 3534.6 2183 3537.1C2189.5 3539.7 2188.9 3523.4 2194.6 3551.3C2200.3 3579.2 2213.3 3678.6 2217.4 3704.6C2221.5 3730.6 2218.7 3706.8 2219 3707.3M2140 3510.8L2284.9 3442.5M2156.6 3504.6L2167 3531.5M2284.9 3442.5L2326.3 3444.6L2373.9 3405.2L2384.3 3407.3L2467.1 3500.4L2456.7 3506.7L2450.5 3519.1L2434 3524L2371.9 3531.5M2347 3432.1L2452.6 3512.9M2185.6 3543.9L2189.7 3552.2L2256 3546M2193.9 3560.5L2214.6 3701.2M2293.2 3450.8L2295.3 3475.6M2305.6 3450.8L2307.7 3475.6M2371.9 3531.5L2487.8 3519.1M2371.9 3537.7L2487.8 3525.3M2278.7 3581.2L2218.7 3690.9M2289.1 3585.3L2231.1 3697.1M2491.9 3525.3L2434 3606M2502.3 3529.4L2442.2 3610.1" fill="none" stroke="#000" stroke-width="3.5" stroke-linecap="round" stroke-linejoin="round"/>
<circle cx="2504.3" cy="3507.5" r="10.8" fill="#000"/>
<ellipse cx="2504.3" cy="3507.5" rx="17.4" ry="17.4" fill="none" stroke="#000" stroke-width="3.5"/>
<path d="M2355.3 3635C2355 3639.8 2351.2 3654.3 2353.2 3664C2355.3 3673.6 2361.9 3685.7 2367.7 3692.9C2373.6 3700.2 2385 3705 2388.4 3707.4M2360.3 3635.3C2359.9 3639.9 2356.2 3653.8 2358.1 3662.9C2360 3672 2366.1 3683.1 2371.6 3689.8C2377.1 3696.5 2388 3701.1 2391.3 3703.4M2392.6 3707.4C2398.1 3706.7 2416 3707.8 2425.7 3703.3C2435.3 3698.8 2445.3 3689.8 2450.5 3680.5C2455.7 3671.2 2457.4 3657.1 2456.7 3647.4C2456 3637.7 2449.5 3628.8 2446.4 3622.6C2443.3 3616.4 2439.5 3612.2 2438.1 3610.1M2391.9 3702.5C2397.2 3701.9 2414.5 3702.8 2423.6 3698.8C2432.6 3694.7 2441.5 3686.6 2446.2 3678.1C2450.9 3669.6 2452.5 3656.6 2451.8 3647.8C2451.1 3638.9 2444.9 3630.6 2441.9 3624.8C2439 3619 2435.3 3614.9 2434 3612.9M2253.9 3661.9C2256.3 3664.3 2261.8 3673.6 2268.4 3676.4C2274.9 3679.1 2286.3 3680.5 2293.2 3678.4C2300.1 3676.4 2306.7 3671.2 2309.8 3664C2312.9 3656.7 2311.5 3639.8 2311.8 3635M2245.6 3668.1C2248.7 3670.9 2255.6 3681.6 2264.2 3684.7C2272.9 3687.8 2288.4 3688.8 2297.4 3686.7C2306.3 3684.7 2313.9 3680.2 2318.1 3672.2C2322.2 3664.3 2319.8 3645.7 2322.2 3639.1C2324.6 3632.6 2330.8 3633.9 2332.5 3632.9M2332.5 3632.9C2333.6 3638.1 2335.6 3654.6 2338.7 3664C2341.9 3673.3 2345 3681.9 2351.2 3688.8C2357.4 3695.7 2370.5 3701.9 2376 3705.4C2381.5 3708.8 2383.6 3705 2384.3 3709.5C2385 3714 2380.8 3728.5 2380.1 3732.3M2218.7 3690.9L2231.1 3697.1M2214.6 3707.4L2326.3 3707.4L2351.2 3715.7L2384.3 3734.3L2467.1 3734.3M2400.8 3572.9C2402.2 3574.3 2403.6 3579.1 2409.1 3581.2C2414.6 3583.2 2428.8 3581.9 2434 3585.3C2439.1 3588.8 2439.5 3597.7 2440.2 3601.9C2440.9 3606 2438.4 3608.8 2438.1 3610.1M2440.2 3614.3C2443.3 3615.7 2452.9 3617 2458.8 3622.6C2464.7 3628.1 2471.9 3640.5 2475.4 3647.4C2478.8 3654.3 2477.4 3661.9 2479.5 3664C2481.6 3666 2486.4 3660.5 2487.8 3659.8M2487.8 3659.8L2525 3556.3M2152.5 3664L2160.7 3657.7L2171.1 3664L2171.1 3676.4L2162.8 3682.6L2152.5 3676.4ZM2249.7 3707.4L2249.7 3750.9M2320.1 3709.5L2322.2 3767.4M2382.2 3738.5L2382.2 3767.4M2535.4 3738.5L2535.4 3800.6M2585.1 3759.2L2585.1 3784M2206.3 3738.5L2235.3 3734.3L2235.3 3750.9M2185.6 3721.9C2187 3720.5 2191.1 3714.3 2193.9 3713.6C2196.6 3712.9 2200.1 3713.6 2202.1 3717.8C2204.2 3721.9 2205.6 3735 2206.3 3738.5" fill="none" stroke="#000" stroke-width="3.5" stroke-linecap="round" stroke-linejoin="round"/>
<path d="M2720 3407.3C2711 3410.1 2683.1 3414.2 2665.8 3423.9C2648.5 3433.5 2631.3 3448.7 2616.1 3465.3C2600.9 3481.8 2584.4 3503.9 2574.7 3523.2C2565 3542.5 2560.9 3561.2 2558.1 3581.2C2555.4 3601.2 2555.4 3623.9 2558.1 3643.3C2560.9 3662.6 2566.4 3679.8 2574.7 3697.1C2583 3714.3 2594 3732.3 2607.8 3746.8C2621.6 3761.2 2638.8 3775 2657.5 3784C2676.2 3793 2709.6 3797.8 2720 3800.6" fill="none" stroke="#000" stroke-width="5" stroke-linecap="round" stroke-linejoin="round"/>
<path d="M2720 3419.7C2711.7 3422.1 2685.9 3425.2 2669.9 3434.2C2654 3443.2 2638.2 3458 2624.4 3473.5C2610.6 3489.1 2596.1 3509.4 2587.1 3527.4C2578.2 3545.3 2573.3 3562.5 2570.6 3581.2C2567.8 3599.8 2568.2 3621.2 2570.6 3639.1C2573 3657.1 2577.5 3672.9 2585.1 3688.8C2592.6 3704.7 2603.3 3720.9 2616.1 3734.3C2628.9 3747.8 2644.3 3760.9 2661.6 3769.5C2679 3778.1 2710.3 3783.3 2720 3786.1M2720 3514.9C2713.7 3516.3 2695.5 3517.7 2682.3 3523.2C2669.2 3528.7 2652 3538.4 2640.9 3548.1C2629.9 3557.7 2621.3 3568.7 2616.1 3581.2C2610.9 3593.6 2609.2 3608.8 2609.9 3622.6C2610.6 3636.4 2615.1 3651.5 2620.2 3664C2625.4 3676.4 2632 3688.1 2640.9 3697.1C2649.9 3706 2660.9 3712.9 2674.1 3717.8C2687.2 3722.6 2712.3 3724.7 2720 3726.1M2720 3548.1C2715.1 3550.1 2699 3554.3 2690.6 3560.5C2682.3 3566.7 2674.7 3576.3 2669.9 3585.3C2665.1 3594.3 2661.6 3603.9 2661.6 3614.3C2661.6 3624.6 2665.1 3637.7 2669.9 3647.4C2674.7 3657.1 2682.3 3666 2690.6 3672.2C2699 3678.4 2715.1 3682.6 2720 3684.7" fill="none" stroke="#000" stroke-width="3.5" stroke-linecap="round" stroke-linejoin="round"/>
<path d="M2720 3572.9C2716.5 3575 2704.1 3578.4 2698.9 3585.3C2693.6 3592.2 2689.2 3604.6 2688.5 3614.3C2687.9 3623.9 2689.5 3635 2694.8 3643.3C2700 3651.5 2715.8 3660.5 2720 3664" fill="none" stroke="#000" stroke-width="4" stroke-linecap="round" stroke-linejoin="round"/>
<ellipse cx="2636.8" cy="3576.2" rx="8.3" ry="8.3" fill="none" stroke="#000" stroke-width="3.5"/>
<ellipse cx="2636.8" cy="3576.2" rx="4.1" ry="4.1" fill="none" stroke="#000" stroke-width="3.5"/>
<ellipse cx="2659.6" cy="3554.3" rx="6.6" ry="6.6" fill="none" stroke="#000" stroke-width="3.5"/>
<path d="M2574.7 3539.8L2628.5 3556.3M2576.8 3548.1L2626.4 3564.6M2603.7 3713.6L2645.1 3680.5M2612 3721.9L2651.3 3688.8M2624.4 3593.6C2623.7 3595.7 2619.6 3601.2 2620.2 3606C2620.9 3610.8 2627.1 3619.8 2628.5 3622.6M2523 3481.8C2524.7 3487.3 2530.9 3503.9 2533.3 3514.9C2535.7 3526 2537.4 3537.7 2537.4 3548.1C2537.4 3558.4 2532.3 3570.5 2533.3 3577C2534.3 3583.6 2540.6 3586.7 2543.7 3587.4C2546.8 3588.1 2550.6 3582.2 2551.9 3581.2M2529.2 3477.7C2531.2 3483.9 2539 3503.2 2541.6 3514.9C2544.2 3526.7 2544.8 3537.7 2544.9 3548.1C2545 3558.4 2542.8 3572.2 2542.4 3577M2516.8 3486C2518.5 3491.5 2524.9 3508.7 2527.1 3519.1C2529.3 3529.4 2530.2 3537.7 2530 3548.1C2529.8 3558.4 2523.9 3573.6 2525.9 3581.2C2527.8 3588.8 2536.2 3592.9 2541.6 3593.6C2547 3594.3 2555.4 3573.6 2558.1 3585.3C2560.9 3597 2558.1 3650.8 2558.1 3664M2551.9 3655.7C2544.7 3657.1 2519.9 3661.2 2508.5 3664C2497.1 3666.7 2490.2 3668.1 2483.6 3672.2C2477.1 3676.4 2472.2 3682.6 2469.1 3688.8C2466 3695 2464 3702.6 2465 3709.5C2466 3716.4 2470.9 3724 2475.4 3730.2C2479.8 3736.4 2485 3740.5 2491.9 3746.8C2498.8 3753 2507.1 3759.9 2516.8 3767.4C2526.4 3775 2543 3786.8 2549.9 3792.3C2556.8 3797.8 2556.8 3799.2 2558.1 3800.6M2549.9 3649.5C2542.6 3650.8 2518.5 3654.6 2506.4 3657.7C2494.3 3660.9 2485 3662.9 2477.4 3668.1C2469.8 3673.3 2464.1 3681.6 2460.9 3688.8C2457.6 3696 2456.6 3704 2458 3711.6C2459.3 3719.2 2464.2 3727.4 2469.1 3734.3C2474.1 3741.2 2484.7 3749.9 2487.8 3753M2554 3664C2547.1 3665.3 2523.3 3669.5 2512.6 3672.2C2501.9 3675 2495.7 3677.1 2489.8 3680.5C2484 3684 2480.2 3688.1 2477.4 3692.9C2474.7 3697.8 2472.6 3704 2473.3 3709.5C2474 3715 2477.8 3720.9 2481.6 3726.1C2485.4 3731.2 2489.2 3734.7 2496.1 3740.5C2503 3746.4 2513.3 3754 2523 3761.2C2532.6 3768.5 2548.8 3780.2 2554 3784M2342.9 3767.4C2354.6 3766.4 2389.1 3763.7 2413.3 3761.2C2437.4 3758.8 2473.3 3752.6 2487.8 3753C2502.3 3753.3 2499.5 3760.2 2500.2 3763.3C2500.9 3766.4 2499.5 3769.9 2491.9 3771.6C2484.3 3773.3 2461.6 3771.9 2454.7 3773.7C2447.8 3775.4 2434.6 3778.1 2450.5 3781.9C2466.4 3785.7 2533.3 3794 2549.9 3796.4M2413.3 3775.7C2416.7 3774.3 2421.5 3769.5 2434 3767.4C2446.4 3765.4 2478.8 3764 2487.8 3763.3M2545.7 3316.2L2537.4 3374.2L2523 3403.2M2551.9 3316.2L2543.7 3378.3L2529.2 3407.3M2371.9 3303.8C2375.3 3305.2 2383.6 3307.3 2392.6 3312.1C2401.5 3316.9 2411.9 3323.1 2425.7 3332.8C2439.5 3342.5 2461.6 3358.3 2475.4 3370C2489.2 3381.8 2500.5 3394.2 2508.5 3403.2C2516.4 3412.1 2518.8 3414.9 2523 3423.9C2527.1 3432.8 2531.6 3451.5 2533.3 3457M2380.1 3308C2387.7 3307.3 2418.8 3302.8 2425.7 3303.8C2432.6 3304.8 2420.2 3312.1 2421.5 3314.2C2422.9 3316.2 2431.9 3315.9 2434 3316.2M2434 3316.2C2440.9 3322.4 2462.2 3340.4 2475.4 3353.5C2488.5 3366.6 2506.4 3388 2512.6 3394.9M2523 3407.3C2526.1 3405.2 2533.7 3397 2541.6 3394.9C2549.5 3392.8 2560.9 3392.8 2570.6 3394.9C2580.2 3397 2583.7 3403.9 2599.5 3407.3C2615.4 3410.8 2654.7 3414.2 2665.8 3415.6M2554 3457L2612 3411.4M2558.1 3465.3L2620.2 3415.6M2543.7 3465.3L2554 3457M2558.1 3486L2599.5 3514.9" fill="none" stroke="#000" stroke-width="3.5" stroke-linecap="round" stroke-linejoin="round"/>
<ellipse cx="2607.8" cy="3359.7" rx="10.3" ry="10.3" fill="none" stroke="#000" stroke-width="3.5"/>
<path d="M2603.7 3370L2599.5 3386.6M2612 3370L2607.8 3386.6" fill="none" stroke="#000" stroke-width="3.5" stroke-linecap="round" stroke-linejoin="round"/>
<circle cx="2709.2" cy="3368" r="10.8" fill="#000"/>
<ellipse cx="2709.2" cy="3368" rx="18.6" ry="18.6" fill="none" stroke="#000" stroke-width="3.5"/>
<path d="M2632.7 3386.6C2638.2 3381.1 2656.1 3360 2665.8 3353.5C2675.4 3346.9 2686.5 3348.3 2690.6 3347.3M2632.7 3386.6C2634 3388.7 2635.4 3398.3 2640.9 3399C2646.5 3399.7 2656.1 3388 2665.8 3390.7C2675.4 3393.5 2693.4 3411.4 2698.9 3415.6M2558.1 3332.8L2720 3353.5M2545.7 3386.6L2640.9 3399M2198 3784L2204.2 3928.9L2218.7 3928.9M2214.6 3788.1L2222.8 3950M2251.8 3784L2256 3895.8M2268.4 3784C2267.7 3787.5 2264.2 3797.1 2264.2 3804.7C2264.2 3812.3 2264.9 3820.6 2268.4 3829.5C2271.8 3838.5 2279.4 3852.3 2284.9 3858.5C2290.5 3864.7 2297.4 3867.5 2301.5 3866.8C2305.6 3866.1 2307.7 3860.6 2309.8 3854.4C2311.8 3848.2 2312.5 3837.8 2313.9 3829.5C2315.3 3821.3 2318.7 3810.9 2318.1 3804.7C2317.4 3798.5 2311.2 3794.4 2309.8 3792.3" fill="none" stroke="#000" stroke-width="3.5" stroke-linecap="round" stroke-linejoin="round"/>
<ellipse cx="2289.1" cy="3819.2" rx="19.9" ry="19.9" fill="none" stroke="#000" stroke-width="3.5"/>
<ellipse cx="2289.1" cy="3819.2" rx="24" ry="24" fill="none" stroke="#000" stroke-width="3.5"/>
<ellipse cx="2296.5" cy="3855.6" rx="9.1" ry="9.1" fill="none" stroke="#000" stroke-width="3.5"/>
<ellipse cx="2296.5" cy="3855.6" rx="4.1" ry="4.1" fill="none" stroke="#000" stroke-width="3.5"/>
<path d="M2322.2 3800.6L2529.2 3829.5M2382.2 3804.7L2382.2 3875.1M2324.3 3833.7L2326.3 3908.2M2537.4 3846.1L2537.4 3870.9M2227 3879.2C2231.1 3882 2244.9 3890.9 2251.8 3895.8C2258.7 3900.6 2256 3906.1 2268.4 3908.2C2280.8 3910.3 2307 3913.4 2326.3 3908.2C2345.6 3903 2349.1 3883.4 2384.3 3877.1C2419.5 3870.9 2508.5 3873.4 2537.4 3870.9C2566.4 3868.5 2549.2 3866.8 2558.1 3862.7C2567.1 3858.5 2585.7 3848.9 2591.3 3846.1M2222.8 3928.9C2226.3 3928.2 2235.9 3927.5 2243.5 3924.8C2251.1 3922 2264.2 3914.4 2268.4 3912.3M2427.7 3916.5L2647.1 3916.5L2647.1 3941.3L2427.7 3941.3ZM2227 3950C2231.1 3947.2 2242.2 3937.2 2251.8 3933C2261.5 3928.8 2275.3 3921.9 2284.9 3924.8C2294.6 3927.6 2305.6 3945.8 2309.8 3950M2649.2 3950L2720 3916.5M2665.8 3950L2720 3928.9" fill="none" stroke="#000" stroke-width="3.5" stroke-linecap="round" stroke-linejoin="round"/>

<!-- 81_rhbox_F2.svg -->
<path d="M2819.4 3403.6C2831.9 3408.3 2873.3 3416.3 2894 3432.1C2914.7 3447.9 2930.9 3470.1 2943.6 3498.4C2956.4 3526.7 2968.5 3571.5 2970.5 3601.9C2972.6 3632.2 2966.1 3656.4 2956.1 3680.5C2946 3704.7 2927.8 3728.8 2910.5 3746.8C2893.3 3764.7 2876.8 3778 2852.6 3788.1C2828.3 3798.3 2786.9 3805.2 2764.8 3807.6C2742.7 3810 2727.5 3803.5 2720.1 3802.6" fill="none" stroke="#000" stroke-width="5" stroke-linecap="round" stroke-linejoin="round"/>
<ellipse cx="2764.8" cy="3601.9" rx="58" ry="58" fill="none" stroke="#000" stroke-width="5"/>
<path d="M2823.6 3416.4C2834.6 3421.1 2871.5 3430.2 2889.8 3444.6C2908.1 3458.9 2921.7 3476.3 2933.3 3502.5C2944.9 3528.7 2957.3 3572.9 2959.4 3601.9C2961.4 3630.8 2955.2 3653.6 2945.7 3676.4C2936.2 3699.1 2918.5 3721.6 2902.2 3738.5C2886 3755.4 2871.3 3768.1 2848.4 3777.8C2825.5 3787.5 2786.2 3794.1 2764.8 3796.4C2743.4 3798.7 2727.5 3792.3 2720.1 3791.5M2852.6 3481.8C2858.1 3488 2875.3 3505.3 2885.7 3519.1C2896 3532.9 2908.1 3550.8 2914.7 3564.6C2921.2 3578.4 2925 3585.3 2925 3601.9C2925 3618.4 2920.5 3646.7 2914.7 3664C2908.8 3681.2 2900.2 3692.2 2889.8 3705.4C2879.5 3718.5 2858.8 3736.4 2852.6 3742.6M2856.9 3478C2862.5 3484.2 2879.8 3501.6 2890.3 3515.6C2900.8 3529.6 2913.1 3547.7 2919.9 3562.1C2926.6 3576.5 2930.8 3584.6 2930.8 3601.9C2930.8 3619.1 2926.2 3648 2920.1 3665.8C2914.1 3683.7 2904.9 3695.5 2894.4 3708.9C2883.8 3722.4 2862.9 3740.4 2856.7 3746.7" fill="none" stroke="#000" stroke-width="3.5" stroke-linecap="round" stroke-linejoin="round"/>
<ellipse cx="2764.8" cy="3601.9" rx="109.7" ry="109.7" fill="none" stroke="#000" stroke-width="3.5"/>
<ellipse cx="2764.8" cy="3601.9" rx="103.5" ry="103.5" fill="none" stroke="#000" stroke-width="3.5"/>
<ellipse cx="2764.8" cy="3601.9" rx="64.2" ry="64.2" fill="none" stroke="#000" stroke-width="3.5"/>
<path d="M2711.8 3498.4C2706.3 3501.1 2688.4 3508 2678.7 3514.9C2669 3521.8 2658 3535.6 2653.9 3539.8M2645.6 3548.1C2640.8 3553.6 2622.1 3568.7 2616.6 3581.2C2611.1 3593.6 2611.1 3608.8 2612.5 3622.6C2613.8 3636.4 2618 3650.2 2624.9 3664C2631.8 3677.8 2642.1 3692.9 2653.9 3705.4C2665.6 3717.8 2681.5 3730.9 2695.3 3738.5C2709.1 3746.1 2720.1 3749.5 2736.7 3750.9C2753.2 3752.3 2778.1 3750.2 2794.6 3746.8C2811.2 3743.3 2829.1 3733 2836 3730.2M2649.9 3551.9C2645.3 3557.1 2627.2 3571.8 2621.9 3583.5C2616.6 3595.2 2616.9 3609 2618.2 3622C2619.6 3635 2623.4 3648.1 2630.1 3661.4C2636.7 3674.6 2646.7 3689.4 2658.1 3701.4C2669.4 3713.4 2684.9 3726.1 2698.1 3733.4C2711.2 3740.7 2721.2 3743.8 2737.1 3745.1C2753 3746.4 2777.3 3744.5 2793.4 3741.1C2809.5 3737.7 2827.1 3727.5 2833.9 3724.8" fill="none" stroke="#000" stroke-width="3.5" stroke-linecap="round" stroke-linejoin="round"/>
<ellipse cx="2753.2" cy="3432.1" rx="41.4" ry="41.4" fill="none" stroke="#000" stroke-width="5"/>
<ellipse cx="2763.6" cy="3428" rx="29" ry="29" fill="none" stroke="#000" stroke-width="4"/>
<ellipse cx="2763.6" cy="3428" rx="24" ry="24" fill="none" stroke="#000" stroke-width="3.5"/>
<circle cx="2708.9" cy="3368" r="10.8" fill="#000"/>
<ellipse cx="2708.9" cy="3368" rx="17.4" ry="17.4" fill="none" stroke="#000" stroke-width="3.5"/>
<circle cx="2776" cy="3267.4" r="8.3" fill="#000"/>
<ellipse cx="2776" cy="3267.4" rx="14.9" ry="14.9" fill="none" stroke="#000" stroke-width="3.5"/>
<circle cx="2504.8" cy="3507.5" r="10.8" fill="#000"/>
<ellipse cx="2504.8" cy="3507.5" rx="17.4" ry="17.4" fill="none" stroke="#000" stroke-width="3.5"/>
<ellipse cx="2809.1" cy="3341.9" rx="15.7" ry="15.7" fill="none" stroke="#000" stroke-width="3.5"/>
<ellipse cx="2809.1" cy="3341.9" rx="9.1" ry="9.1" fill="none" stroke="#000" stroke-width="3.5"/>
<ellipse cx="2768.5" cy="3339" rx="7.5" ry="7.5" fill="none" stroke="#000" stroke-width="3.5"/>
<ellipse cx="2768.5" cy="3339" rx="3.7" ry="3.7" fill="none" stroke="#000" stroke-width="3.5"/>
<path d="M2788.4 3274.8L2811.2 3291.4L2993.3 3514.9M2993.3 3514.9C2996.1 3516.3 3005.7 3519.1 3009.9 3523.2C3014 3527.4 3017.5 3534.3 3018.1 3539.8C3018.8 3545.3 3017.5 3552.9 3014 3556.3C3010.6 3559.8 3000.2 3559.8 2997.4 3560.5M2997.4 3560.5L2999.5 3740.5L2983 3740.5M2991.2 3556.3L2993.3 3705.4M2993.3 3705.4C2983.6 3721.2 2951.2 3778.5 2935.4 3800.6C2919.5 3822.6 2904.7 3829.5 2898.1 3837.8C2891.5 3846.1 2899.5 3848.9 2896 3850.2C2892.6 3851.6 2880.5 3846.8 2877.4 3846.1M2811.2 3386.6C2825 3392.8 2871.2 3408 2894 3423.9C2916.7 3439.7 2934 3462.5 2947.8 3481.8C2961.6 3501.1 2970.2 3519.8 2976.8 3539.8C2983.3 3559.8 2986.1 3581.2 2987.1 3601.9C2988.1 3622.6 2985.4 3646.7 2983 3664C2980.5 3681.2 2979.2 3689.5 2972.6 3705.4C2966.1 3721.2 2955.4 3742.6 2943.6 3759.2C2931.9 3775.7 2911.9 3794.4 2902.2 3804.7C2892.6 3815.1 2888.4 3818.5 2885.7 3821.3M2813.2 3382.1C2827.1 3388.4 2873.7 3403.6 2896.8 3419.8C2919.9 3435.9 2937.7 3459.2 2951.8 3478.9C2965.9 3498.7 2974.8 3517.8 2981.5 3538.2C2988.2 3558.7 2991 3580.5 2992.1 3601.6C2993.1 3622.7 2990.4 3647 2987.9 3664.6C2985.4 3682.3 2983.9 3691 2977.2 3707.3C2970.5 3723.5 2959.6 3745.2 2947.7 3762C2935.8 3778.8 2915.6 3797.6 2905.9 3808.1C2896.1 3818.5 2892 3822 2889.2 3824.8" fill="none" stroke="#000" stroke-width="3.5" stroke-linecap="round" stroke-linejoin="round"/>
<ellipse cx="2993.3" cy="3536.5" rx="7.5" ry="7.5" fill="none" stroke="#000" stroke-width="3.5"/>
<ellipse cx="2993.3" cy="3536.5" rx="3.7" ry="3.7" fill="none" stroke="#000" stroke-width="3.5"/>
<ellipse cx="2876.2" cy="3824.6" rx="7.5" ry="7.5" fill="none" stroke="#000" stroke-width="3.5"/>
<ellipse cx="2876.2" cy="3824.6" rx="3.7" ry="3.7" fill="none" stroke="#000" stroke-width="3.5"/>
<path d="M2831.9 3370L2860.8 3345.2M2811.2 3291.4L2794.6 3303.8L2798.7 3320.4M2711.8 3332.8C2716 3326.6 2728.4 3303.8 2736.7 3295.5C2744.9 3287.3 2757.4 3285.2 2761.5 3283.1M2728.4 3336.9C2731.1 3332.1 2738.7 3314.9 2744.9 3308C2751.1 3301.1 2758.7 3296.2 2765.6 3295.5C2772.5 3294.8 2781.5 3299 2786.3 3303.8C2791.2 3308.6 2794.6 3316.2 2794.6 3324.5C2794.6 3332.8 2787.7 3348.7 2786.3 3353.5M2678.7 3349.4C2682.8 3350 2695.3 3349.4 2703.5 3353.5C2711.8 3357.6 2710.4 3368.7 2728.4 3374.2C2746.3 3379.7 2797.4 3384.5 2811.2 3386.6M2637.3 3386.6L2678.7 3349.4M2637.3 3386.6C2638.7 3388.7 2635.9 3394.2 2645.6 3399C2655.2 3403.9 2685.6 3407.3 2695.3 3415.6C2704.9 3423.9 2699.4 3439 2703.5 3448.7C2707.7 3458.4 2716 3465.9 2720.1 3473.5C2724.2 3481.1 2729.8 3490.1 2728.4 3494.2C2727 3498.4 2714.6 3497.7 2711.8 3498.4M2645.6 3390.7C2648.3 3391.1 2658 3390.1 2662.1 3392.8C2666.3 3395.6 2669 3404.9 2670.4 3407.3" fill="none" stroke="#000" stroke-width="3.5" stroke-linecap="round" stroke-linejoin="round"/>
<ellipse cx="2831" cy="3504.6" rx="12.4" ry="12.4" fill="none" stroke="#000" stroke-width="3.5"/>
<ellipse cx="2831" cy="3504.6" rx="6.6" ry="6.6" fill="none" stroke="#000" stroke-width="3.5"/>
<ellipse cx="2637.3" cy="3576.2" rx="10.8" ry="10.8" fill="none" stroke="#000" stroke-width="3.5"/>
<ellipse cx="2637.3" cy="3576.2" rx="5.4" ry="5.4" fill="none" stroke="#000" stroke-width="3.5"/>
<ellipse cx="2745.8" cy="3716.9" rx="10.8" ry="10.8" fill="none" stroke="#000" stroke-width="3.5"/>
<ellipse cx="2745.8" cy="3716.9" rx="5.4" ry="5.4" fill="none" stroke="#000" stroke-width="3.5"/>
<ellipse cx="2908.4" cy="3697.1" rx="11.6" ry="11.6" fill="none" stroke="#000" stroke-width="3.5"/>
<ellipse cx="2908.4" cy="3697.1" rx="5.8" ry="5.8" fill="none" stroke="#000" stroke-width="3.5"/>
<ellipse cx="2879.5" cy="3733.5" rx="12.4" ry="12.4" fill="none" stroke="#000" stroke-width="3.5"/>
<ellipse cx="2879.5" cy="3733.5" rx="6.6" ry="6.6" fill="none" stroke="#000" stroke-width="3.5"/>
<ellipse cx="2879.5" cy="3733.5" rx="3.3" ry="3.3" fill="none" stroke="#000" stroke-width="3.5"/>
<ellipse cx="2802.9" cy="3507.5" rx="6.6" ry="6.6" fill="none" stroke="#000" stroke-width="3.5"/>
<ellipse cx="2802.9" cy="3507.5" rx="3.3" ry="3.3" fill="none" stroke="#000" stroke-width="3.5"/>
<ellipse cx="2818.6" cy="3533.6" rx="6.6" ry="6.6" fill="none" stroke="#000" stroke-width="3.5"/>
<ellipse cx="2658.8" cy="3554.3" rx="7.5" ry="7.5" fill="none" stroke="#000" stroke-width="3.5"/>
<ellipse cx="2720.1" cy="3701.2" rx="7.5" ry="7.5" fill="none" stroke="#000" stroke-width="3.5"/>
<path d="M2854.6 3566.7L2956.1 3539.8M2860.8 3581.2L2960.2 3556.3M2736.7 3734.3L2738.7 3759.2M2753.2 3734.3L2754 3759.2M2575.2 3539.8L2629 3558.4M2571.1 3552.2L2624.9 3570.8M2604.2 3713.6L2645.6 3680.5M2612.5 3724L2651.8 3690.9M2844.3 3498.4C2849.8 3501.1 2865 3508.7 2877.4 3514.9C2889.8 3521.1 2907.1 3531.5 2918.8 3535.6C2930.5 3539.8 2942.9 3539.1 2947.8 3539.8M2831.9 3481.8C2835.3 3483.9 2842.2 3488.7 2852.6 3494.2C2862.9 3499.8 2887.1 3511.5 2894 3514.9M2912.6 3519.1L2927.1 3502.5L2947.8 3523.2L2931.2 3535.6ZM2918.8 3572.9C2920.2 3576.3 2920.2 3590.8 2927.1 3593.6C2934 3596.3 2954.7 3590.1 2960.2 3589.4M2935.4 3587.4L2935.4 3601.9L2962.3 3599.8M2865 3593.6C2866.4 3595.7 2874 3601.2 2873.3 3606C2872.6 3610.8 2862.9 3619.8 2860.8 3622.6M2624.9 3593.6C2623.5 3595.7 2615.9 3601.2 2616.6 3606C2617.3 3610.8 2627 3619.8 2629 3622.6M2687 3763.3C2707.7 3762.6 2789.8 3761.9 2811.2 3759.2C2832.6 3756.4 2807 3749.2 2815.3 3746.8C2823.6 3744.3 2853.3 3745 2860.8 3744.7M2682.8 3763.3C2684.9 3766.8 2673.9 3781.2 2695.3 3784C2716.6 3786.8 2779.4 3784 2811.2 3779.9C2842.9 3775.7 2869.8 3764.7 2885.7 3759.2C2901.5 3753.6 2902.9 3748.8 2906.4 3746.8M2699.4 3796.4L2811.2 3792.3M2695.3 3800.6C2714.6 3798.2 2791.2 3793.7 2811.2 3794.4C2831.2 3795 2815.3 3801.3 2815.3 3804.7C2815.3 3808.2 2829.8 3812.6 2811.2 3815.1C2792.5 3817.5 2722.9 3820.2 2703.5 3819.2C2684.2 3818.2 2696.6 3811.9 2695.3 3808.8C2693.9 3805.7 2675.9 3803 2695.3 3800.6ZM2538 3846.1L2848.4 3846.1M2703.5 3846.1C2707.7 3851.6 2718.7 3865.4 2728.4 3879.2C2738 3893 2756 3920.6 2761.5 3928.9M2848.4 3846.1L2848.4 3887.5" fill="none" stroke="#000" stroke-width="3.5" stroke-linecap="round" stroke-linejoin="round"/>
<ellipse cx="2807" cy="3904.1" rx="41.4" ry="41.4" fill="none" stroke="#000" stroke-width="4"/>
<ellipse cx="2807" cy="3904.1" rx="16.6" ry="16.6" fill="none" stroke="#000" stroke-width="4"/>
<ellipse cx="2807" cy="3904.1" rx="35.2" ry="35.2" fill="none" stroke="#000" stroke-width="3.5"/>
<path d="M2844.3 3920.6L2850.5 3887.5M2645.6 3950C2651.1 3946.5 2667.7 3934.5 2678.7 3928.9C2689.7 3923.3 2702.2 3916.5 2711.8 3916.5C2721.5 3916.5 2732.5 3926.8 2736.7 3928.9M2658 3950L2736.7 3933" fill="none" stroke="#000" stroke-width="3.5" stroke-linecap="round" stroke-linejoin="round"/>
<ellipse cx="2552.4" cy="3834.9" rx="7.5" ry="7.5" fill="none" stroke="#000" stroke-width="3.5"/>
<ellipse cx="2552.4" cy="3834.9" rx="3.7" ry="3.7" fill="none" stroke="#000" stroke-width="3.5"/>
<path d="M2480 3821.3C2488.3 3821.6 2520 3819.9 2529.7 3823.3C2539.3 3826.8 2534.5 3837.1 2538 3842C2541.4 3846.8 2545.5 3851.3 2550.4 3852.3C2555.2 3853.3 2562.8 3851.3 2566.9 3848.2C2571.1 3845.1 2552.4 3834 2575.2 3833.7C2598 3833.3 2682.1 3844 2703.5 3846.1M2480 3738.5C2489 3738.8 2524.5 3736.4 2533.8 3740.5C2543.1 3744.7 2527.6 3759.5 2535.9 3763.3C2544.2 3767.1 2574.9 3759.2 2583.5 3763.3C2592.1 3767.4 2586.9 3784 2587.6 3788.1M2535.9 3763.3L2538 3800.6M2585.6 3763.3L2585.6 3833.7M2910.5 3717.8C2911.9 3715.7 2914.7 3708.1 2918.8 3705.4C2922.9 3702.6 2931.9 3699.8 2935.4 3701.2C2938.8 3702.6 2938.8 3711.6 2939.5 3713.6M2546.2 3465.3C2547.6 3462.5 2543.5 3457 2554.5 3448.7C2565.6 3440.4 2595.9 3419.7 2612.5 3415.6C2629 3411.4 2647 3422.5 2653.9 3423.9M2550.4 3473.5L2616.6 3423.9M2546.2 3465.3L2538 3572.9L2546.2 3581.2M2552.4 3469.4L2546.2 3568.7" fill="none" stroke="#000" stroke-width="3.5" stroke-linecap="round" stroke-linejoin="round"/>

<!-- 82_rhbox_bottom.svg -->
<path d="M2217.8 3951.4C2221 3951 2228.9 3951.8 2236.8 3949C2244.7 3946.3 2254.1 3936.8 2265.2 3934.8C2276.2 3932.9 2284.1 3934.4 2303 3937.2C2321.9 3940 2363.7 3947.8 2378.7 3951.4C2393.7 3954.9 2389 3955.3 2392.9 3958.5C2396.8 3961.6 2398.4 3968 2402.4 3970.3C2406.3 3972.7 2411 3974.7 2416.6 3972.7C2422.1 3970.7 2421.3 3959.7 2435.5 3958.5C2449.7 3957.3 2484.4 3964 2501.7 3965.6C2519.1 3967.2 2530.9 3965.2 2539.6 3968C2548.2 3970.7 2549 3979 2553.8 3982.1C2558.5 3985.3 2563.2 3988.5 2567.9 3986.9C2572.7 3985.3 2577.4 3976.2 2582.1 3972.7C2586.9 3969.1 2588.4 3967.2 2596.3 3965.6C2604.2 3964 2619.2 3966.4 2629.4 3963.2C2639.7 3960.1 2650 3947.5 2657.8 3946.7C2665.7 3945.9 2671.2 3956.9 2676.8 3958.5C2682.3 3960.1 2680.7 3961.2 2691 3956.1C2701.2 3951 2724.9 3930.9 2738.3 3927.7C2751.7 3924.6 2761.9 3934.4 2771.4 3937.2C2780.8 3940 2791.1 3943.1 2795 3944.3M2265.2 3918.3C2271.5 3920.6 2284.1 3927.7 2303 3932.5C2321.9 3937.2 2355 3942.7 2378.7 3946.7C2402.4 3950.6 2423.6 3953.4 2444.9 3956.1C2466.2 3958.9 2477.3 3962.4 2506.4 3963.2C2535.6 3964 2595.5 3964.4 2620 3960.9C2644.4 3957.3 2639.7 3949 2653.1 3941.9C2666.5 3934.8 2691 3922.6 2700.4 3918.3C2709.9 3913.9 2705.9 3915.9 2709.9 3915.9C2713.8 3915.9 2721.7 3917.9 2724.1 3918.3M2198.9 3847.3L2201.3 3927.7L2217.8 3927.7M2215.5 3847.3L2220.2 3951.4M2220.2 3951.4C2222.2 3948.2 2226.9 3937.2 2232 3932.5C2237.2 3927.7 2245.4 3925.4 2251 3923C2256.5 3920.6 2262 3921.4 2265.2 3918.3C2268.3 3915.1 2269.9 3908.8 2269.9 3904.1C2269.9 3899.4 2265.9 3892.3 2265.2 3889.9M2255.7 3847.3L2255.7 3894.6M2324.3 3837.8L2326.7 3908.8L2388.2 3878.1L2539.6 3873.3L2591.6 3844.9M2265.2 3889.9C2266.7 3893 2265.2 3904.9 2274.6 3908.8C2284.1 3912.8 2314 3912.8 2321.9 3913.5M2709.9 3852L2771.4 3937.2M2591.6 3844.9C2601.9 3844.6 2635 3842.2 2653.1 3842.6C2671.2 3843 2691 3845.7 2700.4 3847.3C2709.9 3848.9 2708.3 3851.3 2709.9 3852" fill="none" stroke="#000" stroke-width="3.5" stroke-linecap="round" stroke-linejoin="round"/>

<g id="labels"><text x="868.2" y="486" textLength="163.8" lengthAdjust="spacingAndGlyphs">92171</text>
<text x="1090.7" y="649" textLength="202.8" lengthAdjust="spacingAndGlyphs">92192A</text>
<text x="1524.7" y="694" textLength="166.8" lengthAdjust="spacingAndGlyphs">92049</text>
<text x="1834.7" y="540" textLength="168.8" lengthAdjust="spacingAndGlyphs">92055</text>
<text x="2297.7" y="457" textLength="200.8" lengthAdjust="spacingAndGlyphs">92046B</text>
<text x="1750.7" y="832" textLength="167.8" lengthAdjust="spacingAndGlyphs">92046</text>
<text x="2755.7" y="555" textLength="202.3" lengthAdjust="spacingAndGlyphs">92049A</text>
<text x="2945.7" y="767.5" textLength="201.3" lengthAdjust="spacingAndGlyphs">92049B</text>
<text x="797.2" y="1151" textLength="162.3" lengthAdjust="spacingAndGlyphs">92171</text>
<text x="730.7" y="1227.5" textLength="161.3" lengthAdjust="spacingAndGlyphs">14067</text>
<text x="1390.7" y="1107.5" textLength="161.3" lengthAdjust="spacingAndGlyphs">14014</text>
<text x="1269.7" y="1213.5" textLength="92.3" lengthAdjust="spacingAndGlyphs">221</text>
<text x="1642.5" y="1140" textLength="93.4" lengthAdjust="spacingAndGlyphs">481</text>
<text x="1326.7" y="1440" textLength="167.8" lengthAdjust="spacingAndGlyphs">92045</text>
<text x="974.7" y="1450" textLength="168.3" lengthAdjust="spacingAndGlyphs">92043</text>
<text x="1264.7" y="1643.5" textLength="94.8" lengthAdjust="spacingAndGlyphs">221</text>
<text x="1005.7" y="1815" textLength="201.3" lengthAdjust="spacingAndGlyphs">92045B</text>
<text x="1399.7" y="2124" textLength="201.3" lengthAdjust="spacingAndGlyphs">92046A</text>
<text x="1376.7" y="2250" textLength="135.3" lengthAdjust="spacingAndGlyphs">601A</text>
<text x="1394.7" y="1892.5" textLength="159.8" lengthAdjust="spacingAndGlyphs">14014</text>
<text x="1640.7" y="1972.5" textLength="201.3" lengthAdjust="spacingAndGlyphs">92045A</text>
<text x="1873.2" y="2105" textLength="133.8" lengthAdjust="spacingAndGlyphs">601B</text>
<text x="2045.7" y="2186.5" textLength="93.8" lengthAdjust="spacingAndGlyphs">601</text>
<text x="2169.7" y="2057.5" textLength="168.8" lengthAdjust="spacingAndGlyphs">92043</text>
<text x="2054.7" y="2413.5" textLength="167.3" lengthAdjust="spacingAndGlyphs">92066</text>
<text x="2898.2" y="1852.5" textLength="167.8" lengthAdjust="spacingAndGlyphs">92192</text>
<text x="442.2" y="2798.5" textLength="168.8" lengthAdjust="spacingAndGlyphs">92065</text>
<text x="413.7" y="2903.5" textLength="201.8" lengthAdjust="spacingAndGlyphs">92066A</text>
<text x="1618.2" y="2916" textLength="158.8" lengthAdjust="spacingAndGlyphs">14001</text>
<text x="810.7" y="3129" textLength="131.3" lengthAdjust="spacingAndGlyphs">132C</text>
<text x="1053.2" y="3129" textLength="96.3" lengthAdjust="spacingAndGlyphs">132</text>
<text x="1578.2" y="3366" textLength="128.8" lengthAdjust="spacingAndGlyphs">132A</text>
<text x="2543.2" y="3120" textLength="131.3" lengthAdjust="spacingAndGlyphs">132B</text>
<text x="2728.2" y="3123.5" textLength="97.3" lengthAdjust="spacingAndGlyphs">132</text>
<text x="118.2" y="3396.5" textLength="132.3" lengthAdjust="spacingAndGlyphs">132C</text>
<text x="644.2" y="4011.5" textLength="130.3" lengthAdjust="spacingAndGlyphs">132A</text>
<text x="933.2" y="4011.5" textLength="96.3" lengthAdjust="spacingAndGlyphs">132</text>
<text x="1380.7" y="3595.5" textLength="161.3" lengthAdjust="spacingAndGlyphs">92151</text>
<text x="1384.2" y="3770" textLength="130.3" lengthAdjust="spacingAndGlyphs">132B</text>
<text x="42.2" y="2400" textLength="201.3" lengthAdjust="spacingAndGlyphs">92046B</text></g></svg></body></html>
